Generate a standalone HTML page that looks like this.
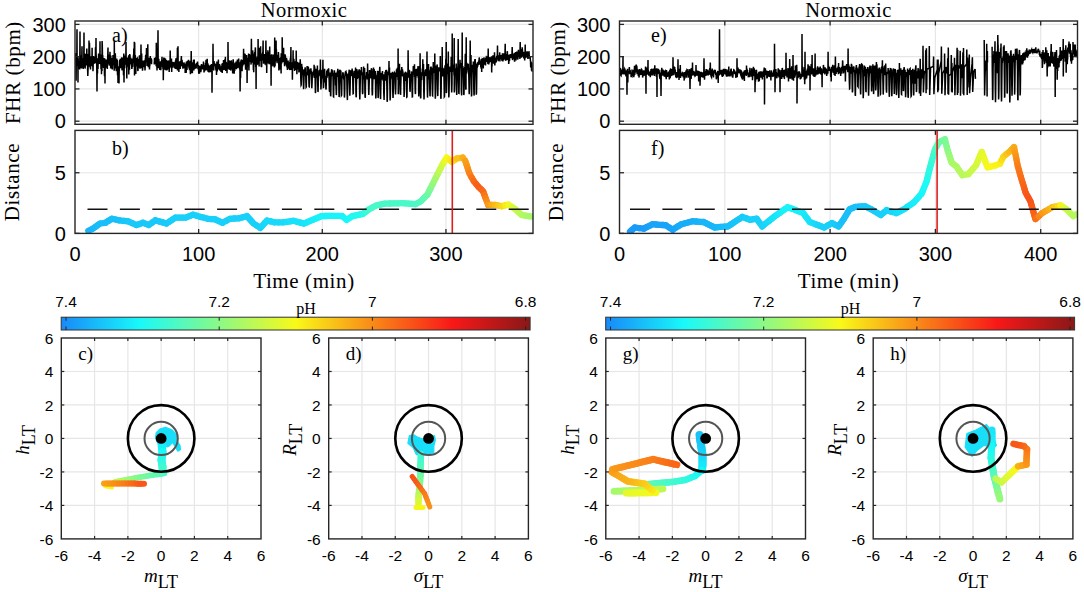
<!DOCTYPE html>
<html><head><meta charset="utf-8"><style>
html,body{margin:0;padding:0;background:#fff;width:1084px;height:592px;overflow:hidden}
svg{display:block}
</style></head><body>
<svg width="1084" height="592" viewBox="0 0 1084 592">
<rect width="1084" height="592" fill="#fff"/>
<line x1="198.65" y1="21" x2="198.65" y2="124.3" stroke="#e6e6e6" stroke-width="1.2"/>
<line x1="198.65" y1="130.4" x2="198.65" y2="233.4" stroke="#e6e6e6" stroke-width="1.2"/>
<line x1="322.30" y1="21" x2="322.30" y2="124.3" stroke="#e6e6e6" stroke-width="1.2"/>
<line x1="322.30" y1="130.4" x2="322.30" y2="233.4" stroke="#e6e6e6" stroke-width="1.2"/>
<line x1="445.95" y1="21" x2="445.95" y2="124.3" stroke="#e6e6e6" stroke-width="1.2"/>
<line x1="445.95" y1="130.4" x2="445.95" y2="233.4" stroke="#e6e6e6" stroke-width="1.2"/>
<line x1="75" y1="121.20" x2="533" y2="121.20" stroke="#e6e6e6" stroke-width="1.2"/>
<line x1="75" y1="88.93" x2="533" y2="88.93" stroke="#e6e6e6" stroke-width="1.2"/>
<line x1="75" y1="56.67" x2="533" y2="56.67" stroke="#e6e6e6" stroke-width="1.2"/>
<line x1="75" y1="24.40" x2="533" y2="24.40" stroke="#e6e6e6" stroke-width="1.2"/>
<line x1="75" y1="172.75" x2="533" y2="172.75" stroke="#e6e6e6" stroke-width="1.2"/>
<polyline points="75.8,53.1 76.0,76.0 76.1,80.7 76.3,54.4 76.5,58.9 76.6,61.6 76.8,64.5 77.0,29.2 77.1,65.8 77.3,62.8 77.5,60.8 77.6,57.4 77.8,56.0 78.0,82.5 78.1,57.8 78.3,62.7 78.5,69.1 78.6,61.3 78.8,64.8 79.0,64.2 79.1,63.7 79.3,68.2 79.5,68.4 79.6,62.9 79.8,61.3 80.0,31.5 80.1,61.3 80.3,65.0 80.5,68.5 80.6,63.0 80.8,55.3 81.0,67.7 81.1,59.4 81.3,58.9 81.5,57.0 81.6,68.6 81.8,54.8 82.0,46.3 82.1,64.8 82.3,64.7 82.5,60.5 82.6,62.9 82.8,65.1 83.0,58.0 83.1,66.2 83.3,69.0 83.5,59.4 83.6,59.6 83.8,58.4 84.0,32.5 84.1,55.8 84.3,59.8 84.5,53.6 84.6,67.4 84.8,60.6 85.0,62.3 85.1,68.6 85.3,63.9 85.5,53.8 85.6,62.0 85.8,63.1 86.0,56.0 86.1,55.3 86.3,56.5 86.5,65.5 86.6,62.2 86.8,48.4 87.0,63.2 87.1,64.9 87.3,58.2 87.5,54.1 87.6,68.7 87.8,76.0 88.0,70.7 88.1,67.5 88.3,62.8 88.5,59.6 88.6,63.5 88.8,66.3 89.0,40.5 89.1,66.4 89.3,62.3 89.5,42.7 89.6,49.0 89.8,57.9 90.0,66.6 90.1,67.3 90.3,65.0 90.5,69.5 90.6,64.6 90.8,64.6 91.0,56.3 91.1,62.8 91.3,63.5 91.5,66.1 91.6,64.8 91.8,60.7 92.0,61.0 92.1,47.7 92.3,66.2 92.5,58.5 92.6,63.0 92.8,64.0 93.0,71.2 93.1,68.5 93.3,59.4 93.5,56.1 93.6,61.0 93.8,58.5 94.0,63.9 94.1,62.9 94.3,63.6 94.5,56.7 94.6,59.5 94.8,61.9 95.0,63.1 95.1,58.5 95.3,60.2 95.5,47.2 95.6,52.4 95.8,58.9 96.0,38.0 96.1,53.7 96.3,57.5 96.5,63.5 96.6,60.1 96.8,69.3 97.0,91.5 97.1,75.3 97.3,58.3 97.5,73.4 97.6,60.6 97.8,67.3 98.0,69.1 98.1,64.2 98.3,60.6 98.5,58.9 98.6,53.6 98.8,60.1 99.0,58.4 99.1,64.0 99.3,58.2 99.5,60.6 99.6,64.0 99.8,62.7 100.0,41.2 100.1,61.1 100.3,60.1 100.5,63.3 100.6,64.2 100.8,57.8 101.0,69.2 101.1,64.6 101.3,54.5 101.5,74.3 101.6,65.1 101.8,59.7 102.0,71.0 102.1,41.0 102.3,45.5 102.5,56.3 102.6,55.2 102.8,56.7 103.0,63.0 103.1,60.3 103.3,66.5 103.5,60.0 103.6,68.1 103.8,64.1 104.0,58.1 104.1,68.2 104.3,64.2 104.5,76.2 104.6,69.0 104.8,58.5 105.0,83.6 105.1,70.4 105.3,64.1 105.5,67.2 105.6,66.7 105.8,63.8 106.0,67.8 106.1,59.6 106.3,67.5 106.5,60.0 106.6,64.8 106.8,59.8 107.0,65.7 107.1,65.3 107.3,68.9 107.5,62.3 107.6,60.0 107.8,53.9 108.0,47.6 108.1,62.2 108.3,63.7 108.5,60.4 108.7,61.6 108.8,55.3 109.0,56.4 109.2,65.6 109.3,64.2 109.5,54.5 109.7,58.6 109.8,59.4 110.0,51.7 110.2,59.8 110.3,60.7 110.5,60.8 110.7,68.4 110.8,55.5 111.0,64.1 111.2,62.5 111.3,65.0 111.5,58.1 111.7,61.5 111.8,61.2 112.0,68.7 112.2,62.2 112.3,69.6 112.5,61.5 112.7,61.9 112.8,64.9 113.0,55.0 113.2,61.6 113.3,60.7 113.5,63.3 113.7,65.2 113.8,60.6 114.0,60.5 114.2,70.8 114.3,41.2 114.5,62.2 114.7,59.6 114.8,59.8 115.0,68.3 115.2,66.9 115.3,53.2 115.5,60.0 115.7,68.4 115.8,60.6 116.0,62.9 116.2,69.4 116.3,71.1 116.5,68.1 116.7,58.6 116.8,59.9 117.0,62.4 117.2,60.5 117.3,60.6 117.5,75.3 117.7,67.6 117.8,68.6 118.0,83.1 118.2,68.1 118.3,66.9 118.5,66.4 118.7,71.5 118.8,66.9 119.0,83.5 119.2,69.2 119.3,71.2 119.5,61.8 119.7,60.0 119.8,61.3 120.0,67.8 120.2,58.8 120.3,65.6 120.5,68.2 120.7,65.9 120.8,63.6 121.0,61.1 121.2,60.1 121.3,61.7 121.5,57.9 121.7,61.1 121.8,57.3 122.0,69.7 122.2,70.4 122.3,60.1 122.5,69.7 122.7,65.9 122.8,65.3 123.0,67.3 123.2,66.2 123.3,57.8 123.5,75.2 123.7,59.0 123.8,53.4 124.0,82.5 124.2,65.6 124.3,61.1 124.5,55.6 124.7,68.2 124.8,62.1 125.0,63.3 125.2,59.9 125.3,61.9 125.5,59.9 125.7,64.7 125.8,61.4 126.0,42.1 126.2,64.2 126.3,62.5 126.5,63.2 126.7,66.4 126.8,78.5 127.0,61.6 127.2,67.3 127.3,57.4 127.5,65.7 127.7,59.6 127.8,62.3 128.0,61.3 128.2,61.9 128.3,65.1 128.5,63.7 128.7,55.2 128.8,74.5 129.0,63.7 129.2,62.8 129.3,68.8 129.5,68.9 129.7,53.9 129.8,65.4 130.0,54.7 130.2,61.4 130.3,64.2 130.5,62.1 130.7,59.8 130.8,57.7 131.0,61.1 131.2,63.2 131.3,62.8 131.5,58.8 131.7,62.1 131.8,68.9 132.0,68.1 132.2,63.1 132.3,66.0 132.5,64.8 132.7,66.9 132.8,62.4 133.0,59.8 133.2,57.9 133.3,63.3 133.5,54.5 133.7,62.6 133.8,48.6 134.0,58.0 134.2,60.9 134.3,41.8 134.5,75.4 134.7,42.6 134.8,62.4 135.0,54.7 135.2,69.2 135.3,55.2 135.5,64.4 135.7,60.3 135.8,73.9 136.0,60.8 136.2,62.4 136.3,57.8 136.5,61.6 136.7,66.5 136.8,59.2 137.0,61.4 137.2,61.1 137.3,58.7 137.5,58.4 137.7,64.5 137.8,70.5 138.0,71.1 138.2,58.9 138.3,59.7 138.5,62.0 138.7,64.9 138.8,63.8 139.0,63.8 139.2,65.4 139.3,67.7 139.5,55.3 139.7,64.3 139.8,66.8 140.0,68.8 140.2,65.4 140.3,59.5 140.5,58.9 140.7,63.0 140.8,62.1 141.0,44.4 141.2,68.2 141.3,59.1 141.5,62.4 141.7,53.6 141.8,67.1 142.0,63.6 142.2,60.6 142.3,66.1 142.5,70.7 142.7,68.6 142.8,64.5 143.0,62.6 143.2,64.3 143.3,60.7 143.5,61.4 143.7,63.6 143.8,64.4 144.0,67.1 144.2,62.5 144.3,60.4 144.5,62.9 144.7,61.5 144.8,65.0 145.0,70.4 145.2,66.6 145.3,59.2 145.5,59.2 145.7,54.8 145.8,61.0 146.0,58.9 146.2,57.1 146.3,57.6 146.5,48.1 146.7,62.3 146.8,60.6 147.0,65.9 147.2,60.1 147.3,58.1 147.5,64.2 147.7,54.5 147.8,44.3 148.0,63.8 148.2,64.6 148.3,67.3 148.5,62.6 148.7,63.4 148.8,57.8 149.0,61.8 149.2,62.3 149.3,65.8 149.5,69.5 149.7,64.5 149.8,66.0 150.0,59.4 150.2,62.7 150.3,56.1 150.5,60.0 150.7,59.0 150.8,61.2 151.0,60.6 151.2,58.7 151.3,58.2 151.5,64.3 151.7,59.5" fill="none" stroke="#000" stroke-width="1.5" stroke-linejoin="miter"/>
<polyline points="154.0,62.2 154.2,62.3 154.3,64.5 154.5,57.7 154.7,61.7 154.8,62.2 155.0,59.2 155.2,61.2 155.3,63.9 155.5,62.7 155.7,57.3 155.8,61.6 156.0,63.6 156.2,66.1 156.3,42.7 156.5,64.9 156.7,61.1 156.8,61.4 157.0,70.6 157.2,63.5 157.3,60.4 157.5,61.4 157.7,66.1 157.8,58.6 158.0,30.2 158.2,66.7 158.3,67.9 158.5,63.4 158.7,60.3 158.8,58.8 159.0,63.0 159.2,68.2 159.3,67.1 159.5,68.6 159.7,64.7 159.8,69.9 160.0,62.9 160.2,61.4 160.3,65.5 160.5,63.4 160.7,68.4 160.8,70.2 161.0,67.0 161.2,61.0 161.3,61.4 161.5,66.7 161.7,59.5 161.8,63.7 162.0,56.8 162.2,61.0 162.3,64.3 162.5,59.9 162.7,66.0 162.8,66.4 163.0,68.9 163.2,62.0 163.3,80.2 163.5,62.7 163.7,63.8 163.8,57.4 164.0,64.7 164.2,65.7 164.3,58.7 164.5,57.7 164.7,61.5 164.8,69.8 165.0,65.5 165.2,61.8 165.3,64.1 165.5,58.5 165.7,70.3 165.8,62.6 166.0,67.0 166.2,59.9 166.3,65.0 166.5,61.1 166.7,67.7 166.8,70.4 167.0,69.5 167.2,67.5 167.3,69.7 167.5,61.4 167.7,60.6 167.8,64.4 168.0,69.3 168.2,65.5 168.3,68.5 168.5,60.4 168.7,64.1 168.8,63.1 169.0,65.9 169.2,72.0 169.3,67.6 169.5,68.4 169.7,62.7 169.8,63.5 170.0,67.7 170.2,50.6 170.3,58.1 170.5,66.3 170.7,65.9 170.8,64.6 171.0,65.6 171.2,64.7 171.3,63.0 171.5,58.6 171.7,71.9 171.8,66.7 172.0,66.9 172.2,66.6 172.3,67.2 172.5,67.6 172.7,61.7 172.8,65.8 173.0,64.7 173.2,64.5 173.3,64.9 173.5,66.3 173.7,62.0 173.9,65.1 174.0,64.3 174.2,64.3 174.4,68.0 174.5,67.4 174.7,67.6 174.9,62.8 175.0,65.2 175.2,66.1 175.4,61.8 175.5,60.5 175.7,69.0 175.9,58.2 176.0,63.5 176.2,64.0 176.4,59.8 176.5,64.3 176.7,66.8 176.9,57.7 177.0,69.3 177.2,67.5 177.4,47.7 177.5,70.5 177.7,67.0 177.9,65.8 178.0,46.3 178.2,69.8 178.4,68.7 178.5,66.5 178.7,68.1 178.9,72.0 179.0,65.5 179.2,65.8 179.4,64.5 179.5,62.1 179.7,62.0 179.9,64.4 180.0,64.8 180.2,68.9 180.4,64.6 180.5,63.6 180.7,65.8 180.9,64.2 181.0,66.5 181.2,58.8 181.4,56.0 181.5,65.1 181.7,62.7 181.9,65.1 182.0,59.8 182.2,62.0 182.4,64.3 182.5,65.9 182.7,64.6 182.9,68.8 183.0,64.3 183.2,68.3 183.4,64.0 183.5,65.2 183.7,62.5 183.9,65.5 184.0,62.4 184.2,68.2 184.4,63.9 184.5,67.2 184.7,65.8 184.9,66.7 185.0,63.6 185.2,72.9 185.4,66.0 185.5,71.8 185.7,63.4 185.9,73.0 186.0,70.3 186.2,72.8 186.4,61.5 186.5,69.6 186.7,63.9 186.9,66.0 187.0,69.9 187.2,64.4 187.4,61.3 187.5,64.6 187.7,60.9 187.9,64.8 188.0,64.1 188.2,66.4 188.4,64.9 188.5,59.7 188.7,65.0 188.9,65.6 189.0,68.1 189.2,68.2 189.4,61.6 189.5,69.4 189.7,69.4 189.9,67.1 190.0,68.8 190.2,60.8 190.4,74.3 190.5,66.3 190.7,65.5 190.9,71.4 191.0,69.5 191.2,51.1 191.4,64.2 191.5,72.3 191.7,73.0 191.9,64.7 192.0,63.2 192.2,68.6 192.4,73.2 192.5,62.2 192.7,67.5 192.9,62.9 193.0,66.2 193.2,66.9 193.4,67.5 193.5,60.6 193.7,59.9 193.9,70.4 194.0,66.5 194.2,59.6 194.4,65.8 194.5,68.9 194.7,64.7 194.9,64.7 195.0,64.9 195.2,67.0 195.4,66.3 195.5,67.2 195.7,65.0 195.9,68.8 196.0,67.4 196.2,68.2 196.4,63.1 196.5,65.7 196.7,66.4 196.9,63.3 197.0,63.7 197.2,62.6 197.4,64.8 197.5,61.6 197.7,63.2 197.9,67.1 198.0,69.3 198.2,65.2 198.4,67.1 198.5,68.6 198.7,72.7 198.9,73.8 199.0,67.5 199.2,66.5 199.4,66.7 199.5,73.7 199.7,67.0 199.9,70.5 200.0,66.7 200.2,65.9 200.4,69.0 200.5,68.7 200.7,72.2 200.9,68.9 201.0,71.5 201.2,65.2 201.4,66.3 201.5,64.1 201.7,65.8 201.9,69.3 202.0,66.7 202.2,67.6 202.4,64.8 202.5,65.9 202.7,69.5 202.9,66.3 203.0,66.8 203.2,68.1 203.4,64.2 203.5,61.6 203.7,67.6 203.9,66.6 204.0,72.5 204.2,66.2 204.4,67.4 204.5,71.5 204.7,65.5 204.9,64.9 205.0,69.0 205.2,67.5 205.4,68.8 205.5,63.0 205.7,70.4 205.9,66.3 206.0,59.8 206.2,65.5 206.4,63.9 206.5,66.1 206.7,70.1 206.9,66.9 207.0,66.4 207.2,58.8 207.4,66.5 207.5,63.6 207.7,63.1 207.9,70.8 208.0,69.8 208.2,72.0 208.4,64.6 208.5,66.5 208.7,65.9 208.9,70.7 209.0,72.5 209.2,68.4 209.4,68.2 209.5,70.6 209.7,67.5 209.9,65.5 210.0,66.6 210.2,69.5 210.4,72.2 210.5,66.5 210.7,65.0 210.9,67.0 211.0,67.5 211.2,68.3 211.4,64.0 211.5,66.9 211.7,65.4 211.9,68.5 212.0,92.8 212.2,66.6 212.4,70.1 212.5,70.8 212.7,68.4 212.9,63.8 213.0,43.8 213.2,62.8 213.4,67.7 213.5,68.1 213.7,70.5 213.9,66.5 214.0,61.0 214.2,64.3 214.4,63.4 214.5,62.9 214.7,65.4 214.9,66.1 215.0,65.0 215.2,63.8 215.4,64.7 215.5,64.8 215.7,66.8 215.9,70.1 216.0,68.8 216.2,70.6 216.4,65.0 216.5,74.9 216.7,69.6 216.9,61.5 217.0,69.1 217.2,71.4 217.4,68.5 217.5,64.3 217.7,68.7 217.9,67.0 218.0,68.8 218.2,69.3 218.4,59.4 218.5,67.2 218.7,69.2 218.9,68.5 219.0,66.3 219.2,66.4 219.4,64.0 219.5,65.5 219.7,70.5 219.9,64.9 220.0,67.3 220.2,66.7 220.4,70.6 220.5,69.0 220.7,69.7 220.9,67.8 221.0,72.0 221.2,67.0 221.4,66.8 221.5,70.1 221.7,69.4 221.9,69.7 222.0,63.5 222.2,73.1 222.4,66.7 222.5,70.6 222.7,66.1 222.9,63.0 223.0,67.4 223.2,65.1 223.4,67.6 223.5,59.9 223.7,62.8 223.9,62.5 224.0,69.7 224.2,69.3 224.4,63.8 224.5,67.7 224.7,67.5 224.9,66.5 225.0,58.9 225.2,65.3 225.4,56.8 225.5,66.9 225.7,71.0 225.9,67.0 226.0,69.3 226.2,63.5 226.4,63.2 226.5,63.5 226.7,64.7 226.9,64.4 227.0,73.3 227.2,63.8 227.4,66.5 227.5,65.6 227.7,66.0 227.9,69.2 228.0,42.1 228.2,63.6 228.4,61.1 228.5,67.1 228.7,67.7 228.9,61.3 229.0,69.4 229.2,60.4 229.4,66.0 229.5,68.7 229.7,63.3 229.9,60.8 230.0,70.1 230.2,61.9 230.4,67.4 230.5,61.6 230.7,67.8 230.9,70.6 231.0,65.0 231.2,64.4 231.4,60.3 231.5,61.4 231.7,65.2 231.9,68.1 232.0,68.5 232.2,67.2 232.4,69.1 232.5,67.3 232.7,73.6 232.9,66.2 233.0,66.7 233.2,59.2 233.4,64.9 233.5,68.8 233.7,65.8 233.9,71.1 234.0,69.7 234.2,73.8 234.4,63.7 234.5,66.1 234.7,70.9 234.9,67.1 235.0,63.9 235.2,64.1 235.4,65.0 235.5,68.3 235.7,67.9 235.9,64.8 236.0,61.6 236.2,67.8 236.4,69.2 236.5,62.3 236.7,67.9 236.9,61.8 237.0,64.3 237.2,62.3 237.4,59.5 237.5,62.7 237.7,62.0 237.9,68.3 238.0,67.3 238.2,63.9 238.4,60.6 238.5,61.0 238.7,58.6 238.9,64.3 239.1,65.0 239.2,62.9 239.4,66.7 239.6,66.9 239.7,69.5 239.9,62.3 240.1,91.5 240.2,78.7 240.4,69.3 240.6,77.9 240.7,67.5 240.9,60.5 241.1,68.8 241.2,64.9 241.4,59.4 241.6,66.1 241.7,63.5 241.9,64.6 242.1,71.2 242.2,61.4 242.4,61.3 242.6,66.5 242.7,59.9 242.9,65.1 243.1,64.3 243.2,60.1 243.4,61.1 243.6,48.8 243.7,63.7 243.9,54.8 244.1,53.2 244.2,64.4 244.4,63.1 244.6,53.9 244.7,59.1 244.9,55.5 245.1,53.8 245.2,59.4 245.4,62.5 245.6,69.7 245.7,57.4 245.9,61.7 246.1,57.4 246.2,59.0 246.4,66.6 246.6,55.0 246.7,58.3 246.9,57.9 247.1,83.1 247.2,63.0 247.4,64.5 247.6,63.5 247.7,66.4 247.9,59.7 248.1,60.0 248.2,57.8 248.4,61.2 248.6,53.4 248.7,58.7 248.9,70.4 249.1,61.7 249.2,58.4 249.4,54.1 249.6,57.9 249.7,59.3 249.9,61.2 250.1,54.9 250.2,59.7 250.4,61.0 250.6,61.7 250.7,57.3 250.9,61.7 251.1,64.6 251.2,54.0 251.4,38.7 251.6,56.8 251.7,57.0 251.9,52.6 252.1,53.9 252.2,61.2 252.4,58.7 252.6,62.7 252.7,50.4 252.9,56.3 253.1,53.4 253.2,61.0 253.4,69.9 253.6,54.2 253.7,72.2 253.9,59.9 254.1,58.6 254.2,55.1 254.4,56.3 254.6,64.4 254.7,52.0 254.9,59.2 255.1,59.5 255.2,50.3 255.4,47.4 255.6,58.7 255.7,67.0 255.9,59.3 256.1,88.9 256.2,60.5 256.4,65.2 256.6,63.1 256.7,65.2 256.9,58.2 257.1,57.4 257.2,56.6 257.4,64.6 257.6,60.4 257.7,58.9 257.9,64.0 258.1,38.9 258.2,52.7 258.4,60.4 258.6,58.0 258.7,61.9 258.9,58.0 259.1,66.5 259.2,59.2 259.4,52.2 259.6,47.8 259.7,51.5 259.9,53.8 260.1,57.0 260.2,60.0 260.4,58.6 260.6,46.3 260.7,61.0 260.9,54.3 261.1,63.3 261.2,66.8 261.4,64.3 261.6,67.3 261.7,65.2 261.9,54.4 262.1,59.5 262.2,57.5 262.4,53.4 262.6,53.0 262.7,60.5 262.9,52.1 263.1,40.5 263.2,57.2 263.4,55.3 263.6,63.7 263.7,61.4 263.9,59.1 264.1,55.9 264.2,60.7 264.4,58.7 264.6,54.8 264.7,54.8 264.9,58.1 265.1,57.6 265.2,64.7 265.4,63.4 265.6,60.3 265.7,64.0 265.9,40.4 266.1,55.0 266.2,62.5 266.4,65.8 266.6,58.8 266.7,72.9 266.9,57.4 267.1,52.5 267.2,59.1 267.4,58.8 267.6,60.1 267.7,58.7 267.9,50.3 268.1,63.6 268.2,51.9 268.4,62.9 268.6,57.8 268.7,54.0 268.9,54.9 269.1,56.5 269.2,64.2 269.4,54.9 269.6,61.1 269.7,46.6 269.9,59.5 270.1,58.5 270.2,63.4 270.4,60.4 270.6,64.4 270.7,54.9 270.9,59.8 271.1,85.7 271.2,61.3 271.4,60.5 271.6,54.3 271.7,64.6 271.9,66.6 272.1,59.0 272.2,65.6 272.4,62.4 272.6,56.9 272.7,64.7 272.9,57.4 273.1,63.8 273.2,54.6 273.4,56.7 273.6,64.2 273.7,63.6 273.9,66.5 274.1,61.9 274.2,57.3 274.4,67.4 274.6,57.7 274.7,37.5 274.9,63.3 275.1,66.2 275.2,48.7 275.4,57.4 275.6,56.7 275.7,59.9 275.9,53.6 276.1,40.5 276.2,58.1 276.4,49.2 276.6,61.4 276.7,60.4 276.9,57.7 277.1,63.2 277.2,58.9 277.4,55.1 277.6,58.4 277.7,58.4 277.9,61.1 278.1,58.6 278.2,59.2 278.4,52.0 278.6,55.2 278.7,60.4 278.9,70.4 279.1,58.3 279.2,59.1 279.4,65.1 279.6,69.4 279.7,67.1 279.9,57.9 280.1,65.3 280.2,63.2 280.4,61.0 280.6,57.2 280.7,62.3 280.9,62.3 281.1,73.5 281.2,53.2 281.4,54.7 281.6,58.5 281.7,63.5 281.9,62.2 282.1,56.6 282.2,37.3 282.4,55.5 282.6,57.1 282.7,57.7 282.9,57.1 283.1,56.6 283.2,61.9 283.4,59.6 283.6,47.7 283.7,61.8 283.9,58.6 284.1,54.2 284.2,60.0 284.4,63.2 284.6,66.2 284.7,58.3 284.9,55.4 285.1,54.3 285.2,61.0 285.4,55.5 285.6,64.7 285.7,61.0 285.9,64.5 286.1,60.9 286.2,59.3 286.4,57.7 286.6,66.6 286.7,58.5 286.9,65.6 287.1,67.5 287.2,64.8 287.4,69.9 287.6,64.4 287.7,61.4 287.9,64.1 288.1,60.5 288.2,64.2 288.4,63.3 288.6,68.6 288.7,62.6 288.9,65.4 289.1,64.0 289.2,63.4 289.4,63.1 289.6,70.0 289.7,69.6 289.9,64.1 290.1,61.3 290.2,61.4 290.4,58.7 290.6,57.4 290.7,61.8 290.9,47.0 291.1,69.9 291.2,68.7 291.4,67.9 291.6,64.7 291.7,64.7 291.9,64.6 292.1,64.7 292.2,62.2 292.4,79.7 292.6,63.7 292.7,63.7 292.9,67.2 293.1,50.2 293.2,62.8 293.4,64.3 293.6,66.5 293.7,67.9 293.9,58.7 294.1,68.5 294.2,66.9 294.4,64.9 294.6,70.9 294.7,66.1 294.9,61.2 295.1,63.8 295.2,64.9 295.4,66.8 295.6,69.0 295.7,66.3 295.9,69.1 296.1,69.9 296.2,50.4 296.4,66.6 296.6,67.7 296.7,65.7 296.9,74.3 297.1,64.4 297.2,61.9 297.4,64.6 297.6,68.2 297.7,69.4 297.9,65.2 298.1,68.8 298.2,64.2 298.4,67.3 298.6,63.5 298.7,62.5 298.9,72.5 299.1,65.2 299.2,67.9 299.4,69.9 299.6,68.0 299.7,67.6 299.9,64.0 300.1,71.8 300.2,59.3 300.4,63.1 300.6,66.4 300.7,76.0 300.9,81.4 301.1,85.2 301.2,85.0 301.4,79.5 301.6,72.1 301.7,63.9 301.9,69.6 302.1,69.9 302.2,66.7 302.4,75.2 302.6,73.6 302.7,71.5 302.9,72.9 303.1,69.6 303.2,77.6 303.4,84.4 303.6,89.2 303.7,87.8 303.9,81.7 304.1,75.2 304.3,69.3 304.4,74.4 304.6,69.9 304.8,69.8 304.9,71.4 305.1,67.3 305.3,68.6 305.4,75.8 305.6,73.2 305.8,77.4 305.9,82.7 306.1,87.2 306.3,86.9 306.4,82.9 306.6,73.8 306.8,72.1 306.9,75.3 307.1,65.9 307.3,72.2 307.4,67.4 307.6,70.6 307.8,71.4 307.9,66.5 308.1,70.5 308.3,66.4 308.4,75.4 308.6,67.8 308.8,77.3 308.9,82.3 309.1,86.8 309.3,86.9 309.4,81.4 309.6,75.0 309.8,72.0 309.9,74.2 310.1,69.3 310.3,74.0 310.4,71.5 310.6,73.0 310.8,69.2 310.9,68.3 311.1,71.8 311.3,71.0 311.4,77.1 311.6,83.5 311.8,88.1 311.9,86.6 312.1,82.7 312.3,74.8 312.4,77.0 312.6,76.0 312.8,73.2 312.9,72.1 313.1,73.0 313.3,73.7 313.4,70.5 313.6,72.7 313.8,74.7 313.9,75.0 314.1,64.8 314.3,78.0 314.4,71.1 314.6,66.2 314.8,68.8 314.9,72.3 315.1,77.5 315.3,86.7 315.4,93.1 315.6,92.1 315.8,83.2 315.9,75.2 316.1,69.7 316.3,68.8 316.4,73.6 316.6,77.6 316.8,72.7 316.9,69.2 317.1,71.9 317.3,72.3 317.4,65.5 317.6,79.2 317.8,86.5 317.9,91.8 318.1,91.4 318.3,81.8 318.4,77.1 318.6,74.8 318.8,72.7 318.9,76.3 319.1,70.2 319.3,73.0 319.4,70.4 319.6,75.5 319.8,73.9 319.9,69.5 320.1,72.9 320.3,70.0 320.4,59.4 320.6,78.1 320.8,83.4 320.9,89.4 321.1,86.9 321.3,80.9 321.4,75.6 321.6,77.3 321.8,78.4 321.9,74.8 322.1,69.8 322.3,71.4 322.4,73.4 322.6,73.1 322.8,70.9 322.9,59.7 323.1,78.1 323.3,84.1 323.4,87.5 323.6,87.4 323.8,82.3 323.9,77.2 324.1,71.7 324.3,73.1 324.4,72.9 324.6,68.8 324.8,73.5 324.9,76.4 325.1,82.6 325.3,75.9 325.4,79.7 325.6,78.4 325.8,85.6 325.9,89.4 326.1,88.9 326.3,82.8 326.4,78.8 326.6,75.7 326.8,70.6 326.9,77.8 327.1,76.4 327.3,75.7 327.4,75.6 327.6,69.3 327.8,74.9 327.9,74.3 328.1,73.4 328.3,69.6 328.4,71.7 328.6,68.2 328.8,73.5 328.9,75.7 329.1,79.5 329.3,86.9 329.4,90.7 329.6,91.9 329.8,83.1 329.9,77.1 330.1,72.5 330.3,82.2 330.4,90.9 330.6,96.3 330.8,95.7 330.9,89.2 331.1,79.0 331.3,73.9 331.4,71.8 331.6,69.3 331.8,69.9 331.9,76.3 332.1,72.4 332.3,71.3 332.4,70.2 332.6,72.9 332.8,73.4 332.9,73.0 333.1,81.2 333.3,92.0 333.4,96.6 333.6,96.8 333.8,87.1 333.9,78.6 334.1,75.3 334.3,75.2 334.4,70.2 334.6,75.1 334.8,72.6 334.9,77.7 335.1,74.5 335.3,78.9 335.4,76.0 335.6,85.6 335.8,72.8 335.9,81.5 336.1,88.5 336.3,95.1 336.4,94.8 336.6,87.3 336.8,78.5 336.9,72.8 337.1,73.5 337.3,71.6 337.4,73.9 337.6,71.9 337.8,68.8 337.9,69.6 338.1,73.9 338.3,76.9 338.4,73.0 338.6,70.4 338.8,83.0 338.9,89.9 339.1,97.0 339.3,96.1 339.4,86.9 339.6,80.8 339.8,69.8 339.9,70.2 340.1,72.0 340.3,72.7 340.4,76.2 340.6,70.5 340.8,71.5 340.9,71.2 341.1,82.7 341.3,91.4 341.4,95.6 341.6,95.3 341.8,87.9 341.9,77.4 342.1,77.4 342.3,75.5 342.4,77.5 342.6,76.0 342.8,72.2 342.9,72.6 343.1,75.3 343.3,73.4 343.4,75.9 343.6,78.4 343.8,78.3 343.9,75.9 344.1,81.1 344.3,91.2 344.4,97.6 344.6,95.4 344.8,88.7 344.9,78.7 345.1,73.8 345.3,73.2 345.4,71.6 345.6,73.9 345.8,71.5 345.9,71.4 346.1,74.2 346.3,73.9 346.4,75.5 346.6,74.1 346.8,78.1 346.9,83.2 347.1,92.5 347.3,98.2 347.4,100.1 347.6,88.9 347.8,79.4 347.9,73.6 348.1,79.9 348.3,76.0 348.4,78.6 348.6,77.1 348.8,74.0 348.9,72.9 349.1,70.6 349.3,69.8 349.4,81.6 349.6,87.9 349.8,95.7 349.9,94.5 350.1,88.5 350.3,80.0 350.4,70.4 350.6,72.2 350.8,73.7 350.9,71.0 351.1,70.5 351.3,76.1 351.4,72.3 351.6,75.0 351.8,72.0 351.9,74.4 352.1,68.5 352.3,71.0 352.4,76.1 352.6,73.3 352.8,82.2 352.9,87.4 353.1,93.7 353.3,93.6 353.4,85.4 353.6,78.6 353.8,73.1 353.9,73.4 354.1,70.8 354.3,78.0 354.4,72.9 354.6,76.6 354.8,74.0 354.9,72.5 355.1,72.0 355.3,74.6 355.4,71.7 355.6,67.6 355.8,82.8 355.9,91.2 356.1,97.3 356.3,96.5 356.4,86.8 356.6,80.7 356.8,69.0 356.9,70.2 357.1,71.9 357.3,79.0 357.4,74.7 357.6,73.2 357.8,73.5 357.9,73.9 358.1,76.5 358.3,71.2 358.4,71.9 358.6,76.0 358.8,78.2 358.9,69.8 359.1,77.7 359.3,69.2 359.4,82.3 359.6,92.6 359.8,99.4 359.9,96.6 360.1,88.3 360.3,79.2 360.4,70.3 360.6,74.0 360.8,75.0 360.9,71.6 361.1,74.9 361.3,74.4 361.4,66.9 361.6,74.9 361.8,73.8 361.9,72.2 362.1,75.9 362.3,83.9 362.4,91.1 362.6,94.1 362.8,92.8 362.9,86.1 363.1,79.1 363.3,76.8 363.4,73.3 363.6,66.5 363.8,71.8 363.9,71.7 364.1,79.5 364.3,74.9 364.4,78.6 364.6,68.0 364.8,83.6 364.9,91.5 365.1,97.7 365.3,97.3 365.4,89.2 365.6,80.6 365.8,78.3 365.9,78.1 366.1,75.9 366.3,77.2 366.4,75.0 366.6,72.1 366.8,73.4 366.9,73.9 367.1,75.4 367.3,72.4 367.4,79.6 367.6,63.4 367.8,76.0 367.9,77.4 368.1,73.9 368.3,75.9 368.4,81.2 368.6,90.0 368.8,95.0 368.9,92.1 369.1,85.9 369.3,79.9 369.5,70.1 369.6,73.1 369.8,77.4 370.0,77.3 370.1,71.8 370.3,70.4 370.5,75.6 370.6,74.7 370.8,72.7 371.0,78.5 371.1,75.0 371.3,69.5 371.5,68.2 371.6,74.7 371.8,68.9 372.0,81.5 372.1,90.8 372.3,95.5 372.5,93.6 372.6,87.7 372.8,80.5 373.0,71.1 373.1,71.7 373.3,77.9 373.5,67.6 373.6,73.5 373.8,74.0 374.0,79.2 374.1,70.4 374.3,70.3 374.5,75.6 374.6,74.2 374.8,73.9 375.0,72.4 375.1,74.6 375.3,71.1 375.5,83.0 375.6,91.5 375.8,98.4 376.0,96.0 376.1,88.6 376.3,80.7 376.5,75.3 376.6,78.9 376.8,75.3 377.0,82.0 377.1,76.1 377.3,74.0 377.5,72.9 377.6,70.8 377.8,83.2 378.0,92.8 378.1,98.1 378.3,96.8 378.5,88.1 378.6,80.7 378.8,70.9 379.0,72.4 379.1,72.4 379.3,74.2 379.5,74.0 379.6,70.2 379.8,66.9 380.0,72.8 380.1,84.3 380.3,92.6 380.5,99.1 380.6,98.7 380.8,89.1 381.0,81.2 381.1,73.8 381.3,72.8 381.5,79.8 381.6,76.0 381.8,77.0 382.0,74.8 382.1,73.9 382.3,77.4 382.5,71.0 382.6,79.8 382.8,77.9 383.0,76.4 383.1,80.8 383.3,74.9 383.5,74.2 383.6,81.5 383.8,93.5 384.0,98.0 384.1,99.9 384.3,90.0 384.5,81.3 384.6,76.9 384.8,75.5 385.0,75.5 385.1,71.7 385.3,80.7 385.5,77.0 385.6,79.0 385.8,69.9 386.0,75.1 386.1,75.4 386.3,76.4 386.5,70.8 386.6,69.8 386.8,83.2 387.0,93.3 387.1,100.5 387.3,101.8 387.5,89.7 387.6,79.9 387.8,75.2 388.0,74.1 388.1,71.5 388.3,72.0 388.5,74.6 388.6,73.7 388.8,75.1 389.0,61.1 389.1,70.5 389.3,73.0 389.5,67.4 389.6,78.1 389.8,83.2 390.0,92.3 390.1,100.4 390.3,97.8 390.5,89.9 390.6,80.4 390.8,79.2 391.0,72.7 391.1,77.8 391.3,78.3 391.5,74.1 391.6,75.4 391.8,76.8 392.0,74.9 392.1,76.8 392.3,73.9 392.5,71.8 392.6,82.1 392.8,92.8 393.0,98.0 393.1,97.2 393.3,89.8 393.5,81.5 393.6,72.5 393.8,77.0 394.0,72.9 394.1,79.2 394.3,73.4 394.5,76.5 394.6,72.6 394.8,72.9 395.0,75.7 395.1,83.1 395.3,89.6 395.5,94.5 395.6,92.8 395.8,87.4 396.0,78.4 396.1,72.8 396.3,74.9 396.5,69.4 396.6,77.0 396.8,75.1 397.0,70.8 397.1,75.6 397.3,67.7 397.5,68.5 397.6,72.7 397.8,73.4 398.0,79.9 398.1,48.6 398.3,93.6 398.5,94.1 398.6,86.4 398.8,79.9 399.0,75.2 399.1,72.9 399.3,78.0 399.5,63.7 399.6,69.6 399.8,70.0 400.0,75.4 400.1,80.5 400.3,89.6 400.5,94.8 400.6,94.3 400.8,85.7 401.0,78.9 401.1,70.5 401.3,76.1 401.5,71.8 401.6,75.3 401.8,67.1 402.0,72.5 402.1,74.1 402.3,74.1 402.5,69.2 402.6,70.9 402.8,76.4 403.0,71.6 403.1,75.3 403.3,73.9 403.5,76.1 403.6,76.5 403.8,81.1 404.0,91.2 404.1,97.0 404.3,92.6 404.5,86.3 404.6,78.4 404.8,72.7 405.0,81.0 405.1,80.4 405.3,72.2 405.5,72.6 405.6,71.7 405.8,75.6 406.0,77.6 406.1,75.0 406.3,72.4 406.5,82.5 406.6,91.1 406.8,97.1 407.0,96.9 407.1,88.7 407.3,79.7 407.5,74.9 407.6,75.4 407.8,73.7 408.0,70.3 408.1,50.2 408.3,70.7 408.5,77.6 408.6,75.4 408.8,70.4 409.0,69.7 409.1,76.1 409.3,75.2 409.5,70.3 409.6,81.1 409.8,87.7 410.0,91.7 410.1,91.3 410.3,86.1 410.5,80.8 410.6,75.9 410.8,74.1 411.0,74.8 411.1,78.5 411.3,77.0 411.5,71.4 411.6,78.6 411.8,71.6 412.0,80.0 412.1,91.3 412.3,96.9 412.5,96.8 412.6,87.0 412.8,79.2 413.0,73.2 413.1,73.0 413.3,66.1 413.5,69.0 413.6,74.5 413.8,72.7 414.0,73.5 414.1,72.2 414.3,71.1 414.5,64.3 414.6,77.0 414.8,69.4 415.0,81.5 415.1,88.1 415.3,93.4 415.5,93.9 415.6,85.9 415.8,77.9 416.0,77.1 416.1,68.9 416.3,74.2 416.5,68.7 416.6,72.5 416.8,70.5 417.0,72.3 417.1,71.1 417.3,74.3 417.5,75.9 417.6,71.0 417.8,70.4 418.0,66.0 418.1,77.7 418.3,66.8 418.5,78.5 418.6,90.7 418.8,96.5 419.0,92.9 419.1,84.2 419.3,78.1 419.5,67.0 419.6,66.8 419.8,68.4 420.0,69.5 420.1,53.3 420.3,82.6 420.5,92.5 420.6,98.4 420.8,97.7 421.0,86.6 421.1,77.9 421.3,80.2 421.5,74.8 421.6,73.7 421.8,72.3 422.0,73.9 422.1,75.6 422.3,68.5 422.5,74.9 422.6,71.5 422.8,59.3 423.0,75.5 423.1,68.5 423.3,80.0 423.5,64.1 423.6,80.7 423.8,91.7 424.0,99.5 424.1,97.6 424.3,87.4 424.5,78.9 424.6,71.7 424.8,72.9 425.0,75.7 425.1,74.9 425.3,69.9 425.5,70.4 425.6,72.1 425.8,73.9 426.0,69.1 426.1,76.2 426.3,71.8 426.5,71.3 426.6,73.2 426.8,70.4 427.0,51.6 427.1,79.7 427.3,90.0 427.5,97.6 427.6,94.9 427.8,87.5 428.0,77.3 428.1,68.7 428.3,67.7 428.5,64.1 428.6,71.3 428.8,69.8 429.0,70.3 429.1,79.2 429.3,74.5 429.5,71.3 429.6,79.4 429.8,90.0 430.0,96.3 430.1,96.0 430.3,85.0 430.5,77.1 430.6,66.8 430.8,71.4 431.0,75.0 431.1,66.6 431.3,71.6 431.5,72.2 431.6,71.0 431.8,72.8 432.0,67.8 432.1,80.6 432.3,90.1 432.5,95.7 432.6,95.8 432.8,87.8 433.0,77.9 433.1,71.0 433.3,61.9 433.5,71.6 433.6,72.9 433.8,67.9 434.0,68.5 434.1,71.5 434.3,71.9 434.5,69.7 434.7,68.2 434.8,53.4 435.0,79.0 435.2,90.5 435.3,98.7 435.5,96.2 435.7,84.4 435.8,77.2 436.0,70.0 436.2,68.5 436.3,67.4 436.5,65.7 436.7,67.6 436.8,69.9 437.0,69.8 437.2,64.4 437.3,79.4 437.5,90.2 437.7,95.3 437.8,96.1 438.0,86.7 438.2,77.6 438.3,71.3 438.5,70.7 438.7,67.2 438.8,68.8 439.0,71.5 439.2,68.1 439.3,69.7 439.5,70.3 439.7,68.5 439.8,68.0 440.0,69.7 440.2,70.8 440.3,56.0 440.5,78.5 440.7,90.5 440.8,98.8 441.0,98.2 441.2,87.0 441.3,76.9 441.5,69.2 441.7,69.4 441.8,69.4 442.0,72.2 442.2,47.0 442.3,71.7 442.5,67.2 442.7,76.4 442.8,74.7 443.0,68.3 443.2,70.1 443.3,72.1 443.5,68.4 443.7,72.4 443.8,69.7 444.0,78.8 444.2,89.8 444.3,96.9 444.5,96.6 444.7,87.1 444.8,76.7 445.0,65.3 445.2,72.0 445.3,76.1 445.5,76.5 445.7,64.9 445.8,58.7 446.0,77.1 446.2,42.1 446.3,93.1 446.5,92.3 446.7,81.2 446.8,76.1 447.0,67.9 447.2,74.2 447.3,65.3 447.5,69.2 447.7,68.3 447.8,63.5 448.0,68.9 448.2,65.9 448.3,51.6 448.5,77.6 448.7,89.7 448.8,97.4 449.0,94.6 449.2,85.1 449.3,76.8 449.5,69.4 449.7,68.9 449.8,70.2 450.0,66.6 450.2,70.2 450.3,68.0 450.5,71.9 450.7,69.4 450.8,67.7 451.0,70.5 451.2,56.7 451.3,76.5 451.5,85.7 451.7,92.5 451.8,90.4 452.0,83.2 452.2,33.4 452.3,72.0 452.5,66.9 452.7,64.4 452.8,68.9 453.0,65.8 453.2,67.8 453.3,67.6 453.5,68.5 453.7,68.9 453.8,67.5 454.0,75.6 454.2,38.0 454.3,92.5 454.5,90.7 454.7,83.6 454.8,74.0 455.0,72.9 455.2,70.9 455.3,70.8 455.5,69.1 455.7,68.7 455.8,68.6 456.0,70.5 456.2,63.6 456.3,76.2 456.5,88.0 456.7,95.0 456.8,93.7 457.0,84.4 457.2,75.4 457.3,69.1 457.5,67.8 457.7,68.8 457.8,68.3 458.0,63.7 458.2,38.9 458.3,65.5 458.5,75.6 458.7,84.8 458.8,93.2 459.0,93.3 459.2,83.1 459.3,74.1 459.5,64.4 459.7,64.8 459.8,67.6 460.0,59.7 460.2,64.8 460.3,67.5 460.5,66.0 460.7,63.7 460.8,63.0 461.0,64.8 461.2,77.3 461.3,90.1 461.5,93.9 461.7,95.4 461.8,84.2 462.0,73.5 462.2,32.5 462.3,66.5 462.5,71.4 462.7,69.5 462.8,66.0 463.0,71.0 463.2,69.0 463.3,67.9 463.5,77.4 463.7,87.4 463.8,95.1 464.0,93.8 464.2,83.5 464.3,74.6 464.5,69.2 464.7,67.1 464.8,68.0 465.0,66.9 465.2,62.3 465.3,53.7 465.5,76.6 465.7,84.9 465.8,89.7 466.0,88.8 466.2,37.3 466.3,73.6 466.5,66.1 466.7,65.4 466.8,65.2 467.0,68.7 467.2,68.8 467.3,67.0 467.5,63.5 467.7,68.0 467.8,68.1 468.0,69.0 468.2,72.5 468.3,63.8 468.5,74.3 468.7,67.8 468.8,76.3 469.0,85.9 469.2,94.2 469.3,91.4 469.5,84.0 469.7,73.4 469.8,71.2 470.0,66.2 470.2,40.5 470.3,66.5 470.5,62.8 470.7,64.6 470.8,62.6 471.0,55.1 471.2,77.3 471.3,88.4 471.5,96.5 471.7,94.6 471.8,84.5 472.0,73.0 472.2,65.2 472.3,68.7 472.5,66.0 472.7,64.9 472.8,66.9 473.0,65.3 473.2,71.5 473.3,61.5 473.5,68.7 473.7,76.3 473.8,88.6 474.0,95.6 474.2,93.1 474.3,83.5 474.5,73.7 474.7,67.6 474.8,59.2 475.0,63.2 475.2,59.0 475.3,67.6 475.5,63.4 475.7,67.8 475.8,64.0 476.0,75.0 476.2,87.8 476.3,94.7 476.5,92.6 476.7,82.8 476.8,71.7 477.0,67.0 477.2,67.9 477.3,63.7 477.5,62.4 477.7,66.7 477.8,65.2 478.0,63.7 478.2,63.9 478.3,65.0 478.5,61.8 478.7,61.4 478.8,60.6 479.0,62.7 479.2,57.6 479.3,57.9 479.5,64.0 479.7,63.3 479.8,60.6 480.0,64.6 480.2,62.0 480.3,63.2 480.5,65.0 480.7,63.8 480.8,67.2 481.0,64.8 481.2,68.7 481.3,58.9 481.5,60.3 481.7,71.9 481.8,61.9 482.0,60.1 482.2,59.0 482.3,59.1 482.5,58.5 482.7,62.3 482.8,59.2 483.0,61.4 483.2,62.8 483.3,68.4 483.5,58.9 483.7,57.8 483.8,64.4 484.0,57.4 484.2,59.0 484.3,63.3 484.5,63.5 484.7,63.3 484.8,60.5 485.0,63.3 485.2,65.0 485.3,60.7 485.5,65.5 485.7,60.7 485.8,57.8 486.0,59.5 486.2,58.0 486.3,58.2 486.5,57.8 486.7,59.4 486.8,62.0 487.0,60.7 487.2,60.3 487.3,57.7 487.5,57.3 487.7,59.9 487.8,62.7 488.0,62.5 488.2,48.6 488.3,58.6 488.5,61.5 488.7,62.4 488.8,64.4 489.0,59.9 489.2,61.4 489.3,62.1 489.5,61.7 489.7,57.5 489.8,62.1 490.0,57.0 490.2,57.9 490.3,60.7 490.5,58.6 490.7,60.8 490.8,62.0 491.0,60.2 491.2,61.6 491.3,57.7 491.5,58.8 491.7,72.5 491.8,56.2 492.0,66.6 492.2,57.7 492.3,62.9 492.5,58.6 492.7,61.3 492.8,59.3 493.0,55.2 493.2,62.6 493.3,58.6 493.5,59.1 493.7,63.8 493.8,56.6 494.0,58.6 494.2,61.0 494.3,61.5 494.5,52.3 494.7,61.0 494.8,65.5 495.0,63.0 495.2,60.7 495.3,61.6 495.5,60.1 495.7,62.8 495.8,57.5 496.0,59.8 496.2,62.1 496.3,60.1 496.5,58.7 496.7,55.7 496.8,56.3 497.0,58.5 497.2,58.4 497.3,56.8 497.5,45.4 497.7,59.2 497.8,56.2 498.0,56.3 498.2,61.1 498.3,58.4 498.5,58.7 498.7,60.3 498.8,57.0 499.0,56.0 499.2,55.5 499.3,58.6 499.5,58.0 499.7,52.3 499.9,61.5 500.0,57.5 500.2,55.5 500.4,57.4 500.5,56.7 500.7,57.9 500.9,56.7 501.0,55.0 501.2,58.9 501.4,58.3 501.5,58.5 501.7,59.1 501.9,58.5 502.0,60.9 502.2,56.2 502.4,53.9 502.5,53.9 502.7,55.4 502.9,61.5 503.0,55.2 503.2,60.3 503.4,57.9 503.5,53.3 503.7,60.1 503.9,55.2 504.0,56.6 504.2,57.4 504.4,59.2 504.5,54.8 504.7,57.0 504.9,53.8 505.0,52.8 505.2,43.8 505.4,57.8 505.5,58.8 505.7,60.6 505.9,60.1 506.0,56.6 506.2,57.0 506.4,59.9 506.5,57.1 506.7,54.0 506.9,58.8 507.0,58.3 507.2,51.3 507.4,51.8 507.5,60.1 507.7,59.2 507.9,54.8 508.0,59.3 508.2,56.6 508.4,57.3 508.5,55.4 508.7,63.9 508.9,62.2 509.0,60.4 509.2,54.5 509.4,57.2 509.5,60.9 509.7,55.8 509.9,55.3 510.0,57.6 510.2,57.4 510.4,55.6 510.5,54.1 510.7,56.3 510.9,54.7 511.0,55.9 511.2,57.0 511.4,58.1 511.5,54.9 511.7,55.9 511.9,56.3 512.0,53.2 512.2,47.0 512.4,53.9 512.5,60.1 512.7,54.6 512.9,57.7 513.0,58.1 513.2,58.9 513.4,53.7 513.5,54.5 513.7,58.4 513.9,59.0 514.0,56.6 514.2,58.7 514.4,53.1 514.5,61.0 514.7,61.0 514.9,56.6 515.0,56.4 515.2,55.8 515.4,54.7 515.5,52.1 515.7,57.1 515.9,57.6 516.0,60.5 516.2,55.2 516.4,52.8 516.5,55.7 516.7,51.5 516.9,55.2 517.0,52.2 517.2,54.7 517.4,57.7 517.5,56.6 517.7,58.9 517.9,59.5 518.0,54.9 518.2,52.7 518.4,49.7 518.5,54.7 518.7,55.2 518.9,57.1 519.0,51.7 519.2,53.0 519.4,56.3 519.5,52.9 519.7,52.2 519.9,58.9 520.0,52.3 520.2,42.1 520.4,54.4 520.5,54.2 520.7,49.4 520.9,49.8 521.0,49.6 521.2,57.7 521.4,56.2 521.5,52.3 521.7,57.4 521.9,54.6 522.0,57.0 522.2,47.2 522.4,49.7 522.5,51.6 522.7,52.7 522.9,54.6 523.0,55.1 523.2,52.7 523.4,56.2 523.5,51.7 523.7,56.7 523.9,58.3 524.0,52.4 524.2,56.0 524.4,53.6 524.5,55.6 524.7,60.4 524.9,52.8 525.0,58.4 525.2,44.4 525.4,57.0 525.5,57.9 525.7,52.7 525.9,52.1 526.0,53.7 526.2,57.4 526.4,51.5 526.5,57.5 526.7,55.1 526.9,55.4 527.0,54.8 527.2,51.4 527.4,55.5 527.5,52.8 527.7,52.2 527.9,58.9 528.0,56.5 528.2,54.7 528.4,54.1 528.5,52.3 528.7,57.7 528.9,51.3 529.0,51.7 529.2,54.8 529.4,58.4 529.5,56.3 529.7,57.9 529.9,56.3 530.0,58.7 530.2,57.2 530.4,60.7 530.5,60.8 530.7,67.3 530.9,64.5 531.0,61.6 531.2,68.1 531.4,64.0 531.5,70.5 531.7,67.7 531.9,62.4 532.0,71.4 532.2,70.9" fill="none" stroke="#000" stroke-width="1.5" stroke-linejoin="miter"/>
<defs><clipPath id="clipB"><rect x="75" y="130.4" width="458" height="103"/></clipPath></defs><g clip-path="url(#clipB)">
<line x1="88.3" y1="230.9" x2="92.7" y2="228.7" stroke="#18b6f9" stroke-width="6.3" stroke-linecap="round"/>
<line x1="92.7" y1="228.7" x2="95.2" y2="227.0" stroke="#18b7f9" stroke-width="6.3" stroke-linecap="round"/>
<line x1="95.2" y1="227.0" x2="97.6" y2="225.2" stroke="#18baf9" stroke-width="6.3" stroke-linecap="round"/>
<line x1="97.6" y1="225.2" x2="100.1" y2="223.5" stroke="#18bdf9" stroke-width="6.3" stroke-linecap="round"/>
<line x1="100.1" y1="223.5" x2="105.3" y2="222.8" stroke="#18bff9" stroke-width="6.3" stroke-linecap="round"/>
<line x1="105.3" y1="222.8" x2="108.6" y2="220.8" stroke="#18bff9" stroke-width="6.3" stroke-linecap="round"/>
<line x1="108.6" y1="220.8" x2="111.9" y2="218.8" stroke="#18bff9" stroke-width="6.3" stroke-linecap="round"/>
<line x1="111.9" y1="218.8" x2="115.6" y2="219.5" stroke="#18bff9" stroke-width="6.3" stroke-linecap="round"/>
<line x1="115.6" y1="219.5" x2="119.3" y2="220.3" stroke="#18bff9" stroke-width="6.3" stroke-linecap="round"/>
<line x1="119.3" y1="220.3" x2="123.7" y2="220.8" stroke="#18c1f9" stroke-width="6.3" stroke-linecap="round"/>
<line x1="123.7" y1="220.8" x2="128.1" y2="221.3" stroke="#18c5f9" stroke-width="6.3" stroke-linecap="round"/>
<line x1="128.1" y1="221.3" x2="132.2" y2="223.1" stroke="#18c8f9" stroke-width="6.3" stroke-linecap="round"/>
<line x1="132.2" y1="223.1" x2="136.3" y2="225.0" stroke="#18c8f9" stroke-width="6.3" stroke-linecap="round"/>
<line x1="136.3" y1="225.0" x2="139.6" y2="223.9" stroke="#18c8f9" stroke-width="6.3" stroke-linecap="round"/>
<line x1="139.6" y1="223.9" x2="142.9" y2="222.8" stroke="#18c8f9" stroke-width="6.3" stroke-linecap="round"/>
<line x1="142.9" y1="222.8" x2="145.9" y2="223.9" stroke="#18c8f9" stroke-width="6.3" stroke-linecap="round"/>
<line x1="145.9" y1="223.9" x2="148.8" y2="225.0" stroke="#18c8f9" stroke-width="6.3" stroke-linecap="round"/>
<line x1="148.8" y1="225.0" x2="152.1" y2="222.6" stroke="#18c8f9" stroke-width="6.3" stroke-linecap="round"/>
<line x1="152.1" y1="222.6" x2="155.4" y2="220.3" stroke="#18c8f9" stroke-width="6.3" stroke-linecap="round"/>
<line x1="155.4" y1="220.3" x2="159.1" y2="221.4" stroke="#18c8f9" stroke-width="6.3" stroke-linecap="round"/>
<line x1="159.1" y1="221.4" x2="162.8" y2="222.4" stroke="#18c8f9" stroke-width="6.3" stroke-linecap="round"/>
<line x1="162.8" y1="222.4" x2="166.5" y2="223.5" stroke="#18c8f9" stroke-width="6.3" stroke-linecap="round"/>
<line x1="166.5" y1="223.5" x2="169.5" y2="221.5" stroke="#18c9f9" stroke-width="6.3" stroke-linecap="round"/>
<line x1="169.5" y1="221.5" x2="172.4" y2="219.6" stroke="#18ccf9" stroke-width="6.3" stroke-linecap="round"/>
<line x1="172.4" y1="219.6" x2="175.4" y2="217.6" stroke="#18cff9" stroke-width="6.3" stroke-linecap="round"/>
<line x1="175.4" y1="217.6" x2="178.8" y2="217.6" stroke="#18d0f9" stroke-width="6.3" stroke-linecap="round"/>
<line x1="178.8" y1="217.6" x2="182.3" y2="217.6" stroke="#18d0f9" stroke-width="6.3" stroke-linecap="round"/>
<line x1="182.3" y1="217.6" x2="185.7" y2="217.6" stroke="#18d0f9" stroke-width="6.3" stroke-linecap="round"/>
<line x1="185.7" y1="217.6" x2="189.4" y2="216.1" stroke="#18d0f9" stroke-width="6.3" stroke-linecap="round"/>
<line x1="189.4" y1="216.1" x2="193.1" y2="214.7" stroke="#18d0f9" stroke-width="6.3" stroke-linecap="round"/>
<line x1="193.1" y1="214.7" x2="196.8" y2="215.8" stroke="#18d0f9" stroke-width="6.3" stroke-linecap="round"/>
<line x1="196.8" y1="215.8" x2="200.5" y2="216.9" stroke="#18d0f9" stroke-width="6.3" stroke-linecap="round"/>
<line x1="200.5" y1="216.9" x2="204.2" y2="217.8" stroke="#18d0f9" stroke-width="6.3" stroke-linecap="round"/>
<line x1="204.2" y1="217.8" x2="207.8" y2="218.8" stroke="#18d0f9" stroke-width="6.3" stroke-linecap="round"/>
<line x1="207.8" y1="218.8" x2="211.5" y2="219.1" stroke="#18d0f9" stroke-width="6.3" stroke-linecap="round"/>
<line x1="211.5" y1="219.1" x2="215.2" y2="219.4" stroke="#18d0f9" stroke-width="6.3" stroke-linecap="round"/>
<line x1="215.2" y1="219.4" x2="218.9" y2="221.1" stroke="#18d0f9" stroke-width="6.3" stroke-linecap="round"/>
<line x1="218.9" y1="221.1" x2="222.6" y2="222.8" stroke="#18d0f9" stroke-width="6.3" stroke-linecap="round"/>
<line x1="222.6" y1="222.8" x2="226.3" y2="220.8" stroke="#18d0f9" stroke-width="6.3" stroke-linecap="round"/>
<line x1="226.3" y1="220.8" x2="230.0" y2="218.8" stroke="#18d0f9" stroke-width="6.3" stroke-linecap="round"/>
<line x1="230.0" y1="218.8" x2="234.4" y2="218.5" stroke="#18d0f9" stroke-width="6.3" stroke-linecap="round"/>
<line x1="234.4" y1="218.5" x2="238.9" y2="218.3" stroke="#18d0f9" stroke-width="6.3" stroke-linecap="round"/>
<line x1="238.9" y1="218.3" x2="242.9" y2="217.2" stroke="#18d0f9" stroke-width="6.3" stroke-linecap="round"/>
<line x1="242.9" y1="217.2" x2="247.0" y2="216.1" stroke="#18d0f9" stroke-width="6.3" stroke-linecap="round"/>
<line x1="247.0" y1="216.1" x2="249.2" y2="218.6" stroke="#18d0f9" stroke-width="6.3" stroke-linecap="round"/>
<line x1="249.2" y1="218.6" x2="251.4" y2="221.0" stroke="#18d0f9" stroke-width="6.3" stroke-linecap="round"/>
<line x1="251.4" y1="221.0" x2="253.6" y2="223.5" stroke="#18d0f9" stroke-width="6.3" stroke-linecap="round"/>
<line x1="253.6" y1="223.5" x2="256.9" y2="225.7" stroke="#18d0f9" stroke-width="6.3" stroke-linecap="round"/>
<line x1="256.9" y1="225.7" x2="260.3" y2="227.9" stroke="#18d0f9" stroke-width="6.3" stroke-linecap="round"/>
<line x1="260.3" y1="227.9" x2="262.5" y2="225.5" stroke="#18d2f9" stroke-width="6.3" stroke-linecap="round"/>
<line x1="262.5" y1="225.5" x2="264.7" y2="223.0" stroke="#18d5f9" stroke-width="6.3" stroke-linecap="round"/>
<line x1="264.7" y1="223.0" x2="266.9" y2="220.6" stroke="#18d8f9" stroke-width="6.3" stroke-linecap="round"/>
<line x1="266.9" y1="220.6" x2="270.6" y2="221.4" stroke="#18d9f9" stroke-width="6.3" stroke-linecap="round"/>
<line x1="270.6" y1="221.4" x2="274.3" y2="222.3" stroke="#18d9f9" stroke-width="6.3" stroke-linecap="round"/>
<line x1="274.3" y1="222.3" x2="278.7" y2="222.3" stroke="#18d9f9" stroke-width="6.3" stroke-linecap="round"/>
<line x1="278.7" y1="222.3" x2="283.1" y2="222.3" stroke="#18d9f9" stroke-width="6.3" stroke-linecap="round"/>
<line x1="283.1" y1="222.3" x2="286.6" y2="221.8" stroke="#18dbf9" stroke-width="6.3" stroke-linecap="round"/>
<line x1="286.6" y1="221.8" x2="290.0" y2="221.3" stroke="#18def9" stroke-width="6.3" stroke-linecap="round"/>
<line x1="290.0" y1="221.3" x2="293.5" y2="220.8" stroke="#18e1f9" stroke-width="6.3" stroke-linecap="round"/>
<line x1="293.5" y1="220.8" x2="296.9" y2="221.7" stroke="#18e2f9" stroke-width="6.3" stroke-linecap="round"/>
<line x1="296.9" y1="221.7" x2="300.4" y2="222.6" stroke="#18e2f9" stroke-width="6.3" stroke-linecap="round"/>
<line x1="300.4" y1="222.6" x2="303.8" y2="223.5" stroke="#18e2f9" stroke-width="6.3" stroke-linecap="round"/>
<line x1="303.8" y1="223.5" x2="306.8" y2="222.3" stroke="#18e4f9" stroke-width="6.3" stroke-linecap="round"/>
<line x1="306.8" y1="222.3" x2="309.7" y2="221.0" stroke="#18e7f9" stroke-width="6.3" stroke-linecap="round"/>
<line x1="309.7" y1="221.0" x2="312.7" y2="219.8" stroke="#18eaf9" stroke-width="6.3" stroke-linecap="round"/>
<line x1="312.7" y1="219.8" x2="315.6" y2="218.6" stroke="#18edf9" stroke-width="6.3" stroke-linecap="round"/>
<line x1="315.6" y1="218.6" x2="318.6" y2="217.3" stroke="#18f0f9" stroke-width="6.3" stroke-linecap="round"/>
<line x1="318.6" y1="217.3" x2="321.5" y2="216.1" stroke="#18f3f9" stroke-width="6.3" stroke-linecap="round"/>
<line x1="321.5" y1="216.1" x2="325.4" y2="216.0" stroke="#18f4f9" stroke-width="6.3" stroke-linecap="round"/>
<line x1="325.4" y1="216.0" x2="329.4" y2="215.9" stroke="#18f4f9" stroke-width="6.3" stroke-linecap="round"/>
<line x1="329.4" y1="215.9" x2="333.3" y2="215.8" stroke="#18f4f9" stroke-width="6.3" stroke-linecap="round"/>
<line x1="333.3" y1="215.8" x2="337.8" y2="215.9" stroke="#18f4f9" stroke-width="6.3" stroke-linecap="round"/>
<line x1="337.8" y1="215.9" x2="342.2" y2="216.1" stroke="#18f4f9" stroke-width="6.3" stroke-linecap="round"/>
<line x1="342.2" y1="216.1" x2="346.6" y2="219.8" stroke="#18f4f9" stroke-width="6.3" stroke-linecap="round"/>
<line x1="346.6" y1="219.8" x2="349.6" y2="217.9" stroke="#18f7f9" stroke-width="6.3" stroke-linecap="round"/>
<line x1="349.6" y1="217.9" x2="352.5" y2="216.1" stroke="#1bf9f7" stroke-width="6.3" stroke-linecap="round"/>
<line x1="352.5" y1="216.1" x2="355.9" y2="215.4" stroke="#1ef9f3" stroke-width="6.3" stroke-linecap="round"/>
<line x1="355.9" y1="215.4" x2="359.4" y2="214.6" stroke="#21f9f0" stroke-width="6.3" stroke-linecap="round"/>
<line x1="359.4" y1="214.6" x2="362.8" y2="213.9" stroke="#24f9ed" stroke-width="6.3" stroke-linecap="round"/>
<line x1="362.8" y1="213.9" x2="365.8" y2="211.7" stroke="#2df9e5" stroke-width="6.3" stroke-linecap="round"/>
<line x1="365.8" y1="211.7" x2="368.7" y2="209.5" stroke="#3af9d7" stroke-width="6.3" stroke-linecap="round"/>
<line x1="368.7" y1="209.5" x2="372.4" y2="207.5" stroke="#43f9ce" stroke-width="6.3" stroke-linecap="round"/>
<line x1="372.4" y1="207.5" x2="376.1" y2="205.5" stroke="#48f9ca" stroke-width="6.3" stroke-linecap="round"/>
<line x1="376.1" y1="205.5" x2="379.1" y2="204.9" stroke="#4af9c8" stroke-width="6.3" stroke-linecap="round"/>
<line x1="379.1" y1="204.9" x2="382.0" y2="204.2" stroke="#4af9c8" stroke-width="6.3" stroke-linecap="round"/>
<line x1="382.0" y1="204.2" x2="385.0" y2="203.6" stroke="#4af9c8" stroke-width="6.3" stroke-linecap="round"/>
<line x1="385.0" y1="203.6" x2="390.1" y2="203.5" stroke="#4af9c8" stroke-width="6.3" stroke-linecap="round"/>
<line x1="390.1" y1="203.5" x2="394.1" y2="203.4" stroke="#4af9c8" stroke-width="6.3" stroke-linecap="round"/>
<line x1="394.1" y1="203.4" x2="398.0" y2="203.3" stroke="#4af9c8" stroke-width="6.3" stroke-linecap="round"/>
<line x1="398.0" y1="203.3" x2="402.0" y2="203.2" stroke="#4af9c8" stroke-width="6.3" stroke-linecap="round"/>
<line x1="402.0" y1="203.2" x2="405.4" y2="203.4" stroke="#4af9c8" stroke-width="6.3" stroke-linecap="round"/>
<line x1="405.4" y1="203.4" x2="408.8" y2="203.6" stroke="#4af9c8" stroke-width="6.3" stroke-linecap="round"/>
<line x1="408.8" y1="203.6" x2="412.1" y2="203.9" stroke="#4af9c8" stroke-width="6.3" stroke-linecap="round"/>
<line x1="412.1" y1="203.9" x2="415.5" y2="204.1" stroke="#4af9c8" stroke-width="6.3" stroke-linecap="round"/>
<line x1="415.5" y1="204.1" x2="420.5" y2="201.5" stroke="#4ef9c3" stroke-width="6.3" stroke-linecap="round"/>
<line x1="420.5" y1="201.5" x2="422.8" y2="199.3" stroke="#56f9bc" stroke-width="6.3" stroke-linecap="round"/>
<line x1="422.8" y1="199.3" x2="425.0" y2="197.0" stroke="#5cf9b6" stroke-width="6.3" stroke-linecap="round"/>
<line x1="425.0" y1="197.0" x2="427.3" y2="194.8" stroke="#62f9b0" stroke-width="6.3" stroke-linecap="round"/>
<line x1="427.3" y1="194.8" x2="429.0" y2="191.4" stroke="#6bf9a7" stroke-width="6.3" stroke-linecap="round"/>
<line x1="429.0" y1="191.4" x2="430.7" y2="188.0" stroke="#77f99b" stroke-width="6.3" stroke-linecap="round"/>
<line x1="430.7" y1="188.0" x2="432.4" y2="184.6" stroke="#83f98f" stroke-width="6.3" stroke-linecap="round"/>
<line x1="432.4" y1="184.6" x2="434.1" y2="181.2" stroke="#8ff983" stroke-width="6.3" stroke-linecap="round"/>
<line x1="434.1" y1="181.2" x2="435.7" y2="177.9" stroke="#9bf977" stroke-width="6.3" stroke-linecap="round"/>
<line x1="435.7" y1="177.9" x2="437.4" y2="174.5" stroke="#a7f96b" stroke-width="6.3" stroke-linecap="round"/>
<line x1="437.4" y1="174.5" x2="439.1" y2="171.1" stroke="#b3f95f" stroke-width="6.3" stroke-linecap="round"/>
<line x1="439.1" y1="171.1" x2="440.8" y2="167.8" stroke="#bff953" stroke-width="6.3" stroke-linecap="round"/>
<line x1="440.8" y1="167.8" x2="442.5" y2="164.4" stroke="#cbf947" stroke-width="6.3" stroke-linecap="round"/>
<line x1="442.5" y1="164.4" x2="444.6" y2="161.0" stroke="#d9f938" stroke-width="6.3" stroke-linecap="round"/>
<line x1="444.6" y1="161.0" x2="446.7" y2="157.6" stroke="#ebf926" stroke-width="6.3" stroke-linecap="round"/>
<line x1="446.7" y1="157.6" x2="449.2" y2="159.7" stroke="#f9f918" stroke-width="6.3" stroke-linecap="round"/>
<line x1="449.2" y1="159.7" x2="451.8" y2="161.8" stroke="#f9f018" stroke-width="6.3" stroke-linecap="round"/>
<line x1="451.8" y1="161.8" x2="454.4" y2="160.1" stroke="#f9e518" stroke-width="6.3" stroke-linecap="round"/>
<line x1="454.4" y1="160.1" x2="456.9" y2="158.4" stroke="#f9d718" stroke-width="6.3" stroke-linecap="round"/>
<line x1="456.9" y1="158.4" x2="462.8" y2="157.6" stroke="#f9c318" stroke-width="6.3" stroke-linecap="round"/>
<line x1="462.8" y1="157.6" x2="465.3" y2="161.0" stroke="#f9ad18" stroke-width="6.3" stroke-linecap="round"/>
<line x1="465.3" y1="161.0" x2="466.4" y2="164.2" stroke="#f9a018" stroke-width="6.3" stroke-linecap="round"/>
<line x1="466.4" y1="164.2" x2="467.4" y2="167.3" stroke="#f99a18" stroke-width="6.3" stroke-linecap="round"/>
<line x1="467.4" y1="167.3" x2="468.4" y2="170.4" stroke="#f99318" stroke-width="6.3" stroke-linecap="round"/>
<line x1="468.4" y1="170.4" x2="469.5" y2="173.6" stroke="#f98c18" stroke-width="6.3" stroke-linecap="round"/>
<line x1="469.5" y1="173.6" x2="471.6" y2="177.4" stroke="#f98218" stroke-width="6.3" stroke-linecap="round"/>
<line x1="471.6" y1="177.4" x2="473.8" y2="181.2" stroke="#f97418" stroke-width="6.3" stroke-linecap="round"/>
<line x1="473.8" y1="181.2" x2="476.3" y2="184.2" stroke="#f96918" stroke-width="6.3" stroke-linecap="round"/>
<line x1="476.3" y1="184.2" x2="478.8" y2="187.2" stroke="#f96018" stroke-width="6.3" stroke-linecap="round"/>
<line x1="478.8" y1="187.2" x2="481.0" y2="189.3" stroke="#f95e18" stroke-width="6.3" stroke-linecap="round"/>
<line x1="481.0" y1="189.3" x2="483.1" y2="191.4" stroke="#f96318" stroke-width="6.3" stroke-linecap="round"/>
<line x1="483.1" y1="191.4" x2="484.4" y2="194.8" stroke="#f96a18" stroke-width="6.3" stroke-linecap="round"/>
<line x1="484.4" y1="194.8" x2="485.6" y2="198.1" stroke="#f97618" stroke-width="6.3" stroke-linecap="round"/>
<line x1="485.6" y1="198.1" x2="486.9" y2="201.5" stroke="#f98118" stroke-width="6.3" stroke-linecap="round"/>
<line x1="486.9" y1="201.5" x2="488.1" y2="204.9" stroke="#f98c18" stroke-width="6.3" stroke-linecap="round"/>
<line x1="488.1" y1="204.9" x2="491.5" y2="204.9" stroke="#f99b18" stroke-width="6.3" stroke-linecap="round"/>
<line x1="491.5" y1="204.9" x2="494.9" y2="204.9" stroke="#f9ad18" stroke-width="6.3" stroke-linecap="round"/>
<line x1="494.9" y1="204.9" x2="498.2" y2="205.5" stroke="#f9bc18" stroke-width="6.3" stroke-linecap="round"/>
<line x1="498.2" y1="205.5" x2="501.6" y2="206.2" stroke="#f9ca18" stroke-width="6.3" stroke-linecap="round"/>
<line x1="501.6" y1="206.2" x2="505.0" y2="205.4" stroke="#f9d918" stroke-width="6.3" stroke-linecap="round"/>
<line x1="505.0" y1="205.4" x2="508.4" y2="204.6" stroke="#f9eb18" stroke-width="6.3" stroke-linecap="round"/>
<line x1="508.4" y1="204.6" x2="511.8" y2="206.8" stroke="#f2f91f" stroke-width="6.3" stroke-linecap="round"/>
<line x1="511.8" y1="206.8" x2="515.2" y2="209.1" stroke="#dcf936" stroke-width="6.3" stroke-linecap="round"/>
<line x1="515.2" y1="209.1" x2="518.5" y2="212.1" stroke="#caf948" stroke-width="6.3" stroke-linecap="round"/>
<line x1="518.5" y1="212.1" x2="521.9" y2="215.0" stroke="#bcf955" stroke-width="6.3" stroke-linecap="round"/>
<line x1="521.9" y1="215.0" x2="525.3" y2="215.6" stroke="#b3f95f" stroke-width="6.3" stroke-linecap="round"/>
<line x1="525.3" y1="215.6" x2="528.6" y2="216.1" stroke="#adf965" stroke-width="6.3" stroke-linecap="round"/>
<line x1="528.6" y1="216.1" x2="532.0" y2="216.7" stroke="#a7f96b" stroke-width="6.3" stroke-linecap="round"/>
</g>
<line x1="87.5" y1="209.3" x2="533" y2="209.3" stroke="#111" stroke-width="1.6" stroke-dasharray="20 12.4"/>
<line x1="452.3" y1="130.4" x2="452.3" y2="233.4" stroke="#dc1e1e" stroke-width="1.6"/>
<rect x="75" y="21" width="458" height="103.3" fill="none" stroke="#262626" stroke-width="1.4"/>
<line x1="198.65" y1="21" x2="198.65" y2="25.5" stroke="#262626" stroke-width="1.3"/>
<line x1="198.65" y1="124.3" x2="198.65" y2="119.8" stroke="#262626" stroke-width="1.3"/>
<line x1="322.30" y1="21" x2="322.30" y2="25.5" stroke="#262626" stroke-width="1.3"/>
<line x1="322.30" y1="124.3" x2="322.30" y2="119.8" stroke="#262626" stroke-width="1.3"/>
<line x1="445.95" y1="21" x2="445.95" y2="25.5" stroke="#262626" stroke-width="1.3"/>
<line x1="445.95" y1="124.3" x2="445.95" y2="119.8" stroke="#262626" stroke-width="1.3"/>
<rect x="75" y="130.4" width="458" height="103.0" fill="none" stroke="#262626" stroke-width="1.4"/>
<line x1="198.65" y1="130.4" x2="198.65" y2="134.9" stroke="#262626" stroke-width="1.3"/>
<line x1="198.65" y1="233.4" x2="198.65" y2="228.9" stroke="#262626" stroke-width="1.3"/>
<line x1="322.30" y1="130.4" x2="322.30" y2="134.9" stroke="#262626" stroke-width="1.3"/>
<line x1="322.30" y1="233.4" x2="322.30" y2="228.9" stroke="#262626" stroke-width="1.3"/>
<line x1="445.95" y1="130.4" x2="445.95" y2="134.9" stroke="#262626" stroke-width="1.3"/>
<line x1="445.95" y1="233.4" x2="445.95" y2="228.9" stroke="#262626" stroke-width="1.3"/>
<line x1="75" y1="121.20" x2="79.5" y2="121.20" stroke="#262626" stroke-width="1.3"/>
<line x1="533" y1="121.20" x2="528.5" y2="121.20" stroke="#262626" stroke-width="1.3"/>
<line x1="75" y1="88.93" x2="79.5" y2="88.93" stroke="#262626" stroke-width="1.3"/>
<line x1="533" y1="88.93" x2="528.5" y2="88.93" stroke="#262626" stroke-width="1.3"/>
<line x1="75" y1="56.67" x2="79.5" y2="56.67" stroke="#262626" stroke-width="1.3"/>
<line x1="533" y1="56.67" x2="528.5" y2="56.67" stroke="#262626" stroke-width="1.3"/>
<line x1="75" y1="24.40" x2="79.5" y2="24.40" stroke="#262626" stroke-width="1.3"/>
<line x1="533" y1="24.40" x2="528.5" y2="24.40" stroke="#262626" stroke-width="1.3"/>
<line x1="75" y1="233.40" x2="79.5" y2="233.40" stroke="#262626" stroke-width="1.3"/>
<line x1="533" y1="233.40" x2="528.5" y2="233.40" stroke="#262626" stroke-width="1.3"/>
<line x1="75" y1="172.75" x2="79.5" y2="172.75" stroke="#262626" stroke-width="1.3"/>
<line x1="533" y1="172.75" x2="528.5" y2="172.75" stroke="#262626" stroke-width="1.3"/>
<text x="65.8" y="128.4" font-family='"Liberation Sans", sans-serif' font-size="20" text-anchor="end" >0</text>
<text x="65.8" y="96.1" font-family='"Liberation Sans", sans-serif' font-size="20" text-anchor="end" >100</text>
<text x="65.8" y="63.9" font-family='"Liberation Sans", sans-serif' font-size="20" text-anchor="end" >200</text>
<text x="65.8" y="31.6" font-family='"Liberation Sans", sans-serif' font-size="20" text-anchor="end" >300</text>
<text x="65.8" y="240.6" font-family='"Liberation Sans", sans-serif' font-size="20" text-anchor="end" >0</text>
<text x="65.8" y="179.9" font-family='"Liberation Sans", sans-serif' font-size="20" text-anchor="end" >5</text>
<text x="75.0" y="261.0" font-family='"Liberation Sans", sans-serif' font-size="20" text-anchor="middle" >0</text>
<text x="198.6" y="261.0" font-family='"Liberation Sans", sans-serif' font-size="20" text-anchor="middle" >100</text>
<text x="322.3" y="261.0" font-family='"Liberation Sans", sans-serif' font-size="20" text-anchor="middle" >200</text>
<text x="445.9" y="261.0" font-family='"Liberation Sans", sans-serif' font-size="20" text-anchor="middle" >300</text>
<text transform="translate(20.3,72.5) rotate(-90)" font-family='"Liberation Serif", serif' font-size="21" text-anchor="middle" letter-spacing="0.6">FHR (bpm)</text>
<text transform="translate(18.6,182) rotate(-90)" font-family='"Liberation Serif", serif' font-size="21" text-anchor="middle" letter-spacing="0.6">Distance</text>
<text x="304.0" y="287.6" font-family='"Liberation Serif", serif' font-size="21" text-anchor="middle" letter-spacing="0.6">Time (min)</text>
<text x="304.0" y="17.3" font-family='"Liberation Serif", serif' font-size="20.5" text-anchor="middle" letter-spacing="0.4">Normoxic</text>
<text x="112.1" y="42.0" font-family='"Liberation Serif", serif' font-size="20" text-anchor="start" >a)</text>
<text x="112.1" y="155.0" font-family='"Liberation Serif", serif' font-size="20" text-anchor="start" >b)</text>
<line x1="724.80" y1="21" x2="724.80" y2="124.3" stroke="#e6e6e6" stroke-width="1.2"/>
<line x1="724.80" y1="130.4" x2="724.80" y2="233.4" stroke="#e6e6e6" stroke-width="1.2"/>
<line x1="830.10" y1="21" x2="830.10" y2="124.3" stroke="#e6e6e6" stroke-width="1.2"/>
<line x1="830.10" y1="130.4" x2="830.10" y2="233.4" stroke="#e6e6e6" stroke-width="1.2"/>
<line x1="935.40" y1="21" x2="935.40" y2="124.3" stroke="#e6e6e6" stroke-width="1.2"/>
<line x1="935.40" y1="130.4" x2="935.40" y2="233.4" stroke="#e6e6e6" stroke-width="1.2"/>
<line x1="1040.70" y1="21" x2="1040.70" y2="124.3" stroke="#e6e6e6" stroke-width="1.2"/>
<line x1="1040.70" y1="130.4" x2="1040.70" y2="233.4" stroke="#e6e6e6" stroke-width="1.2"/>
<line x1="619.5" y1="121.20" x2="1077.5" y2="121.20" stroke="#e6e6e6" stroke-width="1.2"/>
<line x1="619.5" y1="88.93" x2="1077.5" y2="88.93" stroke="#e6e6e6" stroke-width="1.2"/>
<line x1="619.5" y1="56.67" x2="1077.5" y2="56.67" stroke="#e6e6e6" stroke-width="1.2"/>
<line x1="619.5" y1="24.40" x2="1077.5" y2="24.40" stroke="#e6e6e6" stroke-width="1.2"/>
<line x1="619.5" y1="172.75" x2="1077.5" y2="172.75" stroke="#e6e6e6" stroke-width="1.2"/>
<polyline points="620.3,67.9 620.5,68.7 620.6,69.7 620.8,75.5 621.0,75.7 621.1,73.1 621.3,75.0 621.5,69.5 621.6,72.6 621.8,73.7 622.0,73.4 622.1,70.1 622.3,74.3 622.5,71.4 622.6,74.3 622.8,72.1 623.0,56.7 623.1,71.7 623.3,73.2 623.5,69.6 623.6,69.8 623.8,71.9 624.0,74.5 624.1,73.2 624.3,72.1 624.5,71.6 624.6,72.5 624.8,69.0 625.0,69.4 625.1,72.7 625.3,73.4 625.5,72.6 625.6,72.6 625.8,72.7 626.0,76.5 626.1,73.9 626.3,76.5 626.5,72.1 626.6,70.4 626.8,75.1 627.0,94.7 627.1,73.8 627.3,74.5 627.5,68.8 627.6,71.7 627.8,82.5 628.0,73.9 628.1,72.4 628.3,73.2 628.5,71.0 628.6,73.5 628.8,71.0 629.0,71.5 629.1,73.7 629.3,67.0 629.5,69.2 629.6,73.0 629.8,74.2 630.0,72.5 630.1,72.6 630.3,71.6 630.5,73.5 630.6,72.7 630.8,71.1 631.0,70.9 631.1,77.3 631.3,72.8 631.5,75.7 631.6,76.5 631.8,75.6 632.0,75.9 632.1,73.0 632.3,72.5 632.5,74.8 632.6,75.9 632.8,70.2 633.0,69.8 633.1,73.0 633.3,74.9 633.5,72.7 633.6,72.6 633.8,77.2 634.0,72.0 634.1,75.6 634.3,72.1 634.5,65.7 634.6,73.6 634.8,74.7 635.0,72.1 635.1,69.1 635.3,72.0 635.5,70.6 635.6,68.6 635.8,70.4 636.0,64.8 636.1,72.6 636.3,64.5 636.5,71.2 636.6,67.7 636.8,65.9 637.0,68.6 637.1,74.3 637.3,71.8 637.5,70.4 637.6,70.2 637.8,70.0 638.0,70.0 638.1,69.5 638.3,76.0 638.5,70.7 638.6,76.3 638.8,72.4 639.0,76.3 639.1,77.6 639.3,70.4 639.5,71.9 639.6,68.9 639.8,75.2 640.0,74.2 640.1,72.5 640.3,72.5 640.5,70.4 640.6,73.2 640.8,73.6 641.0,75.0 641.1,69.4 641.3,73.2 641.5,74.7 641.6,69.3 641.8,69.5 642.0,71.1 642.1,71.1 642.3,73.3 642.5,73.1 642.6,77.6 642.8,76.2 643.0,76.0 643.1,72.5 643.3,70.8 643.5,73.5 643.6,73.7 643.8,70.2 644.0,73.6 644.1,70.7 644.3,71.2 644.5,75.1 644.6,71.6 644.8,71.6 645.0,75.6 645.1,73.6 645.3,74.3 645.5,68.1 645.6,66.5 645.8,69.8 646.0,93.8 646.1,74.2 646.3,68.1 646.5,67.5 646.6,68.7 646.8,75.0 647.0,69.3 647.1,72.7 647.3,70.5 647.5,74.1 647.6,71.6 647.8,73.8 648.0,59.9 648.1,73.3 648.3,70.2 648.5,71.6 648.6,73.4 648.8,74.9 649.0,74.9 649.1,74.1 649.3,71.9 649.5,73.2 649.6,72.7 649.8,72.9 650.0,72.9 650.1,73.9 650.3,77.1 650.5,71.9 650.6,71.6 650.8,75.1 651.0,69.0 651.1,75.4 651.3,70.2 651.5,71.8 651.6,72.1 651.8,69.7 652.0,68.7 652.1,71.2 652.3,74.6 652.5,75.4 652.6,72.8 652.8,70.5 653.0,72.8 653.1,74.3 653.3,72.9 653.5,71.3 653.6,68.5 653.8,74.4 654.0,70.5 654.1,71.9 654.3,74.5 654.5,75.9 654.6,70.1 654.8,65.3 655.0,73.2 655.1,72.7 655.3,70.7 655.5,72.5 655.6,68.6 655.8,72.7 656.0,73.6 656.1,73.0 656.3,75.1 656.5,74.8 656.6,70.2 656.8,68.3 657.0,97.0 657.1,70.5 657.3,71.7 657.5,71.3 657.6,69.1 657.8,69.6 658.0,72.6 658.1,72.7 658.3,68.9 658.5,70.1 658.7,71.9 658.8,72.0 659.0,69.8 659.2,71.6 659.3,71.9 659.5,75.9 659.7,77.5 659.8,78.2 660.0,78.4 660.2,73.2 660.3,73.2 660.5,75.9 660.7,72.7 660.8,73.0 661.0,96.0 661.2,76.9 661.3,70.4 661.5,70.4 661.7,73.3 661.8,67.7 662.0,72.1 662.2,73.3 662.3,72.6 662.5,75.5 662.7,73.3 662.8,75.7 663.0,69.5 663.2,71.9 663.3,74.8 663.5,70.5 663.7,75.5 663.8,72.1 664.0,72.2 664.2,73.4 664.3,76.8 664.5,74.2 664.7,73.8 664.8,73.6 665.0,71.3 665.2,71.0 665.3,71.8 665.5,76.6 665.7,76.7 665.8,75.2 666.0,74.3 666.2,79.2 666.3,75.0 666.5,70.0 666.7,76.3 666.8,75.4 667.0,76.0 667.2,72.7 667.3,73.8 667.5,74.4 667.7,76.9 667.8,72.5 668.0,74.5 668.2,75.1 668.3,73.2 668.5,71.5 668.7,76.1 668.8,75.7 669.0,74.8 669.2,74.3 669.3,79.4 669.5,73.9 669.7,70.5 669.8,72.4 670.0,69.8 670.2,78.2 670.3,72.1 670.5,69.2 670.7,68.5 670.8,73.2 671.0,74.3 671.2,71.8 671.3,75.9 671.5,73.5 671.7,76.1 671.8,71.7 672.0,72.8 672.2,69.1 672.3,72.4 672.5,74.6 672.7,72.6 672.8,75.1 673.0,57.3 673.2,72.1 673.3,70.1 673.5,67.8 673.7,75.2 673.8,69.7 674.0,68.9 674.2,73.5 674.3,66.5 674.5,72.7 674.7,66.9 674.8,71.0 675.0,70.6 675.2,70.8 675.3,69.5 675.5,74.5 675.7,75.0 675.8,77.5 676.0,72.1 676.2,74.6 676.3,72.1 676.5,72.8 676.7,78.1 676.8,73.4 677.0,75.0 677.2,76.6 677.3,75.1 677.5,75.7 677.7,75.2 677.8,72.5 678.0,59.2 678.2,77.1 678.3,76.6 678.5,71.4 678.7,74.1 678.8,70.1 679.0,80.1 679.2,73.9 679.3,73.4 679.5,71.1 679.7,68.8 679.8,72.3 680.0,75.6 680.2,70.8 680.3,64.9 680.5,78.0 680.7,71.9 680.8,73.0 681.0,74.8 681.2,74.3 681.3,72.8 681.5,74.1 681.7,74.6 681.8,76.2 682.0,73.3 682.2,75.5 682.3,74.6 682.5,75.3 682.7,73.9 682.8,72.8 683.0,73.0 683.2,72.2 683.3,77.5 683.5,74.1 683.7,74.7 683.8,75.7 684.0,74.7 684.2,80.6 684.3,74.0 684.5,74.4 684.7,78.8 684.8,72.1 685.0,74.1 685.2,72.0 685.3,74.5 685.5,72.9 685.7,73.0 685.8,74.1 686.0,71.2 686.2,70.5 686.3,77.8 686.5,72.6 686.7,73.8 686.8,74.5 687.0,69.5 687.2,69.6 687.3,74.2 687.5,74.3 687.7,70.9 687.8,74.5 688.0,73.8 688.2,77.7 688.3,74.1 688.5,71.5 688.7,74.8 688.8,73.6 689.0,69.2 689.2,70.5 689.3,69.2 689.5,71.2 689.7,70.8 689.8,77.0 690.0,88.9 690.2,78.5 690.3,69.2 690.5,74.6 690.7,75.0 690.8,76.0 691.0,76.6 691.2,78.9 691.3,68.1 691.5,73.5 691.7,72.1 691.8,75.6 692.0,73.5 692.2,73.1 692.3,74.3 692.5,62.5 692.7,75.5 692.8,73.8 693.0,72.3 693.2,71.7 693.3,72.4 693.5,73.5 693.7,74.9 693.8,70.9 694.0,73.3 694.2,74.9 694.3,71.9 694.5,76.2 694.7,73.4 694.8,71.8 695.0,72.6 695.2,76.0 695.3,75.9 695.5,74.6 695.7,75.7 695.8,76.1 696.0,65.0 696.2,73.6 696.3,73.0 696.5,71.4 696.7,73.8 696.8,75.3 697.0,73.4 697.2,70.4 697.3,75.4 697.5,73.8 697.7,75.1 697.8,72.5 698.0,75.9 698.2,72.2 698.3,70.9 698.5,74.6 698.7,81.6 698.8,74.9 699.0,71.1 699.2,74.7 699.3,74.7 699.5,73.8 699.7,74.6 699.8,71.7 700.0,85.7 700.2,78.9 700.3,76.2 700.5,74.3 700.7,77.3 700.8,75.9 701.0,74.9 701.2,71.7 701.3,73.4 701.5,75.0 701.7,74.8 701.8,75.4 702.0,74.5 702.2,76.5 702.3,77.2 702.5,74.3 702.7,72.4 702.8,72.7 703.0,77.6 703.2,74.4 703.3,76.3 703.5,74.8 703.7,77.6 703.8,73.3 704.0,58.3 704.2,73.4 704.3,72.6 704.5,79.8 704.7,75.1 704.8,71.6 705.0,74.3 705.2,72.5 705.3,74.0 705.5,76.0 705.7,73.5 705.8,71.1 706.0,70.4 706.2,69.1 706.3,74.8 706.5,70.6 706.7,75.6 706.8,72.5 707.0,72.8 707.2,70.6 707.3,70.5 707.5,69.8 707.7,72.6 707.8,69.5 708.0,70.7 708.2,72.7 708.3,75.5 708.5,73.2 708.7,73.8 708.8,73.0 709.0,73.8 709.2,74.6 709.3,72.7 709.5,72.0 709.7,70.4 709.8,68.1 710.0,72.9 710.2,68.4 710.3,62.5 710.5,71.5 710.7,75.3 710.8,70.1 711.0,76.5 711.2,72.1 711.3,76.7 711.5,77.1 711.7,73.6 711.8,72.8 712.0,75.1 712.2,68.6 712.3,74.4 712.5,69.5 712.7,74.7 712.8,75.0 713.0,73.5 713.2,76.1 713.3,71.7 713.5,77.5 713.7,70.9 713.8,72.4 714.0,73.4 714.2,70.2 714.3,71.3 714.5,71.6 714.7,69.7 714.8,71.5 715.0,71.8 715.2,69.8 715.3,73.2 715.5,72.5 715.7,74.9 715.8,72.9 716.0,73.3 716.2,75.9 716.3,79.3 716.5,78.0 716.7,77.6 716.8,74.3 717.0,75.0 717.2,74.7 717.3,73.0 717.5,72.5 717.7,70.9 717.8,74.6 718.0,71.9 718.2,82.9 718.3,75.1 718.5,72.7 718.7,74.5 718.8,73.0 719.0,71.0 719.2,75.4 719.3,73.2 719.5,29.2 719.7,71.7 719.8,74.1 720.0,72.0 720.2,74.4 720.3,73.1 720.5,70.9 720.7,71.9 720.8,72.7 721.0,72.4 721.2,70.3 721.3,70.0 721.5,73.3 721.7,74.8 721.8,75.5 722.0,69.8 722.2,75.4 722.3,77.0 722.5,73.2 722.7,70.6 722.8,76.2 723.0,73.8 723.2,76.2 723.3,73.3 723.5,68.7 723.7,72.4 723.8,73.3 724.0,71.4 724.2,71.0 724.3,71.7 724.5,72.9 724.7,74.2 724.8,68.8 725.0,74.1 725.2,69.6 725.3,74.5 725.5,70.1 725.7,71.4 725.8,73.2 726.0,69.0 726.2,75.5 726.3,74.6 726.5,75.9 726.7,75.9 726.8,74.0 727.0,74.9 727.2,74.5 727.3,70.2 727.5,76.4 727.7,75.2 727.8,73.9 728.0,72.9 728.2,69.3 728.3,70.5 728.5,70.6 728.7,72.0 728.8,66.5 729.0,75.0 729.2,76.3 729.3,73.6 729.5,73.2 729.7,74.1 729.8,75.2 730.0,76.3 730.2,74.6 730.3,75.4 730.5,74.7 730.7,75.8 730.8,69.3 731.0,71.7 731.2,68.6 731.3,73.5 731.5,72.5 731.7,73.9 731.8,73.6 732.0,73.6 732.2,73.6 732.3,77.2 732.5,73.9 732.7,71.5 732.8,77.8 733.0,74.7 733.2,72.6 733.3,71.0 733.5,73.2 733.7,73.0 733.8,69.8 734.0,69.9 734.2,73.0 734.3,73.6 734.5,70.4 734.7,72.6 734.9,74.2 735.0,73.4 735.2,72.0 735.4,72.8 735.5,73.6 735.7,74.3 735.9,78.0 736.0,71.5 736.2,72.8 736.4,72.0 736.5,74.2 736.7,73.2 736.9,72.2 737.0,58.3 737.2,77.3 737.4,72.0 737.5,74.5 737.7,71.8 737.9,72.8 738.0,67.5 738.2,70.9 738.4,72.1 738.5,69.0 738.7,71.8 738.9,73.2 739.0,71.4 739.2,72.6 739.4,70.9 739.5,69.4 739.7,72.5 739.9,73.2 740.0,70.9 740.2,71.7 740.4,69.5 740.5,71.9 740.7,75.1 740.9,74.5 741.0,76.5 741.2,70.3 741.4,73.1 741.5,75.5 741.7,78.3 741.9,75.4 742.0,77.1 742.2,76.3 742.4,79.4 742.5,79.1 742.7,72.8 742.9,78.5 743.0,75.6 743.2,71.6 743.4,78.7 743.5,72.8 743.7,75.0 743.9,75.9 744.0,75.1 744.2,78.5 744.4,81.0 744.5,70.2 744.7,75.5 744.9,71.4 745.0,70.2 745.2,72.5 745.4,71.6 745.5,73.0 745.7,70.1 745.9,72.7 746.0,70.7 746.2,75.8 746.4,74.6 746.5,65.5 746.7,73.2 746.9,72.2 747.0,68.9 747.2,72.4 747.4,74.0 747.5,70.1 747.7,73.9 747.9,74.0 748.0,73.0 748.2,76.1 748.4,77.3 748.5,74.2 748.7,74.1 748.9,76.1 749.0,72.6 749.2,73.0 749.4,73.6 749.5,77.2 749.7,73.0 749.9,67.8 750.0,70.6 750.2,71.1 750.4,74.5 750.5,70.9 750.7,75.3 750.9,74.3 751.0,71.7 751.2,76.7 751.4,72.8 751.5,72.5 751.7,68.2 751.9,74.2 752.0,71.1 752.2,74.8 752.4,74.3 752.5,80.3 752.7,76.0 752.9,69.8 753.0,72.2 753.2,73.2 753.4,66.7 753.5,70.7 753.7,75.6 753.9,72.6 754.0,71.9 754.2,68.3 754.4,76.2 754.5,74.1 754.7,72.0 754.9,76.5 755.0,92.2 755.2,80.9 755.4,75.6 755.5,81.8 755.7,77.0 755.9,69.8 756.0,73.8 756.2,74.6 756.4,74.8 756.5,69.9 756.7,74.8 756.9,73.7 757.0,77.9 757.2,77.7 757.4,79.1 757.5,77.3 757.7,77.3 757.9,73.6 758.0,74.2 758.2,74.7 758.4,76.3 758.5,81.7 758.7,74.5 758.9,71.9 759.0,72.3 759.2,81.2 759.4,79.5 759.5,73.0 759.7,75.3 759.9,73.7 760.0,73.7 760.2,71.3 760.4,77.6 760.5,75.0 760.7,71.3 760.9,74.1 761.0,77.5 761.2,74.0 761.4,74.7 761.5,77.8 761.7,72.6 761.9,72.8 762.0,76.5 762.2,73.8 762.4,79.5 762.5,73.6 762.7,75.5 762.9,76.9 763.0,76.2 763.2,70.9 763.4,76.7 763.5,75.1 763.7,75.6 763.9,75.5 764.0,71.0 764.2,67.5 764.4,70.4 764.5,104.4 764.7,72.6 764.9,74.9 765.0,74.9 765.2,75.3 765.4,68.2 765.5,73.1 765.7,73.9 765.9,73.7 766.0,71.5 766.2,74.3 766.4,73.6 766.5,73.6 766.7,70.6 766.9,78.4 767.0,75.1 767.2,77.9 767.4,76.5 767.5,71.0 767.7,73.1 767.9,75.1 768.0,72.1 768.2,73.8 768.4,71.0 768.5,76.7 768.7,74.5 768.9,75.9 769.0,76.0 769.2,75.3 769.4,75.4 769.5,73.5 769.7,70.3 769.9,75.6 770.0,75.7 770.2,73.8 770.4,76.9 770.5,72.6 770.7,73.8 770.9,80.4 771.0,75.8 771.2,76.7 771.4,71.0 771.5,70.5 771.7,76.5 771.9,75.5 772.0,75.1 772.2,74.8 772.4,72.5 772.5,73.1 772.7,74.8 772.9,74.6 773.0,73.6 773.2,76.0 773.4,75.9 773.5,75.7 773.7,71.0 773.9,70.4 774.0,70.6 774.2,74.4 774.4,75.0 774.5,43.8 774.7,71.1 774.9,72.6 775.0,92.2 775.2,75.4 775.4,73.2 775.5,72.6 775.7,76.0 775.9,68.9 776.0,77.2 776.2,72.1 776.4,74.5 776.5,75.1 776.7,77.5 776.9,78.3 777.0,74.9 777.2,76.1 777.4,76.5 777.5,72.8 777.7,73.6 777.9,75.1 778.0,73.3 778.2,68.4 778.4,73.8 778.5,72.6 778.7,72.6 778.9,76.0 779.0,77.4 779.2,71.1 779.4,69.5 779.5,72.3 779.7,73.4 779.9,73.8 780.0,92.2 780.2,74.0 780.4,78.2 780.5,72.5 780.7,74.9 780.9,73.6 781.0,71.5 781.2,70.0 781.4,72.3 781.5,74.0 781.7,79.0 781.9,71.6 782.0,72.2 782.2,68.0 782.4,68.5 782.5,71.5 782.7,69.7 782.9,74.0 783.0,74.2 783.2,77.2 783.4,74.5 783.5,72.8 783.7,71.9 783.9,77.5 784.0,74.3 784.2,70.0 784.4,79.1 784.5,76.9 784.7,75.6 784.9,73.1 785.0,69.5 785.2,70.4 785.4,73.5 785.5,75.1 785.7,72.8 785.9,73.0 786.0,52.8 786.2,75.8 786.4,69.3 786.5,75.6 786.7,71.9 786.9,73.2 787.0,77.5 787.2,74.7 787.4,74.0 787.5,74.7 787.7,71.0 787.9,75.2 788.0,68.0 788.2,71.8 788.4,76.7 788.5,81.4 788.7,70.7 788.9,72.7 789.0,72.2 789.2,75.1 789.4,76.3 789.5,78.6 789.7,58.9 789.9,68.9 790.0,73.7 790.2,68.1 790.4,78.8 790.5,72.6 790.7,71.9 790.9,78.0 791.0,77.7 791.2,77.7 791.4,74.3 791.5,71.8 791.7,66.2 791.9,73.8 792.0,71.6 792.2,79.7 792.4,70.1 792.5,75.2 792.7,78.7 792.9,75.6 793.0,55.1 793.2,74.7 793.4,73.1 793.5,80.8 793.7,70.9 793.9,70.2 794.0,78.0 794.2,71.4 794.4,72.7 794.5,73.3 794.7,70.7 794.9,77.6 795.0,70.8 795.2,75.8 795.4,65.5 795.5,74.3 795.7,73.7 795.9,68.2 796.0,68.5 796.2,70.6 796.4,69.4 796.5,68.4 796.7,64.7 796.9,71.5 797.0,103.5 797.2,73.2 797.4,72.0 797.5,71.7 797.7,76.8 797.9,73.4 798.0,78.2 798.2,75.8 798.4,75.4 798.5,76.0 798.7,72.4 798.9,71.7 799.0,73.5 799.2,71.4 799.4,76.9 799.5,71.8 799.7,76.5 799.9,75.5 800.0,75.3 800.2,79.3 800.4,77.9 800.5,76.7 800.7,75.8 800.9,77.2 801.0,78.6 801.2,77.2 801.4,74.0 801.5,76.8 801.7,76.7 801.9,73.0 802.0,34.1 802.2,74.0 802.4,76.4 802.5,69.1 802.7,66.8 802.9,71.5 803.0,71.3 803.2,76.6 803.4,69.6 803.5,75.7 803.7,71.2 803.9,75.4 804.0,74.3 804.2,75.9 804.4,79.8 804.5,67.2 804.7,84.3 804.9,74.5 805.0,51.8 805.2,76.0 805.4,71.0 805.5,79.4 805.7,73.5 805.9,72.1 806.0,72.2 806.2,71.9 806.4,75.1 806.5,78.3 806.7,77.1 806.9,74.9 807.0,71.5 807.2,72.3 807.4,68.5 807.5,72.3 807.7,71.7 807.9,71.9 808.0,64.3 808.2,71.3 808.4,75.5 808.5,73.1 808.7,65.4 808.9,75.5 809.0,71.6 809.2,70.2 809.4,71.0 809.5,71.1 809.7,73.0 809.9,66.2 810.0,90.5 810.2,72.8 810.4,66.9 810.6,69.1 810.7,72.3 810.9,71.8 811.1,71.0 811.2,63.9 811.4,69.5 811.6,74.5 811.7,70.4 811.9,74.0 812.1,55.1 812.2,73.1 812.4,71.0 812.6,73.3 812.7,68.0 812.9,71.5 813.1,71.4 813.2,76.1 813.4,74.3 813.6,73.4 813.7,76.0 813.9,68.5 814.1,75.3 814.2,76.9 814.4,72.8 814.6,75.5 814.7,72.6 814.9,73.0 815.1,53.4 815.2,68.0 815.4,71.4 815.6,67.6 815.7,72.1 815.9,74.8 816.1,74.4 816.2,72.8 816.4,71.8 816.6,71.7 816.7,70.0 816.9,74.1 817.1,70.4 817.2,73.7 817.4,73.2 817.6,66.3 817.7,70.1 817.9,74.6 818.1,67.6 818.2,68.8 818.4,69.5 818.6,67.6 818.7,70.6 818.9,70.2 819.1,71.7 819.2,68.2 819.4,73.6 819.6,72.4 819.7,70.6 819.9,72.1 820.1,69.9 820.2,66.4 820.4,73.6 820.6,68.1 820.7,73.4 820.9,74.2 821.1,70.9 821.2,68.4 821.4,74.1 821.6,74.1 821.7,72.6 821.9,74.1 822.1,87.3 822.2,74.4 822.4,72.6 822.6,70.8 822.7,73.0 822.9,68.8 823.1,72.8 823.2,73.0 823.4,64.9 823.6,66.1 823.7,70.5 823.9,69.2 824.1,70.7 824.2,73.1 824.4,69.9 824.6,70.7 824.7,67.2 824.9,74.6 825.1,67.2 825.2,69.5 825.4,72.0 825.6,71.1 825.7,71.2 825.9,73.2 826.1,71.4 826.2,68.6 826.4,73.3 826.6,69.9 826.7,75.9 826.9,72.0 827.1,69.7 827.2,70.5 827.4,70.4 827.6,74.3 827.7,69.7 827.9,73.6 828.1,51.8 828.2,70.0 828.4,70.9 828.6,65.8 828.7,69.9 828.9,66.8 829.1,68.4 829.2,68.7 829.4,67.1 829.6,68.8 829.7,70.2 829.9,70.2 830.1,68.9 830.2,70.0 830.4,70.6 830.6,72.4 830.7,76.9 830.9,70.4 831.1,71.3 831.2,81.4 831.4,70.0 831.6,67.8 831.7,66.7 831.9,70.5 832.1,71.6 832.2,67.8 832.4,70.0 832.6,69.1 832.7,64.8 832.9,68.4 833.1,66.7 833.2,73.1 833.4,69.4 833.6,67.8 833.7,72.9 833.9,68.3 834.1,66.5 834.2,75.1 834.4,65.2 834.6,70.6 834.7,71.3 834.9,67.3 835.1,75.9 835.2,69.5 835.4,56.5 835.6,70.9 835.7,73.1 835.9,67.5 836.1,73.9 836.2,69.6 836.4,68.5 836.6,71.0 836.7,70.8 836.9,71.3 837.1,68.3 837.2,69.0 837.4,70.2 837.6,72.3 837.7,68.7 837.9,67.4 838.1,69.2 838.2,66.2 838.4,74.3 838.6,62.9 838.7,69.6 838.9,72.3 839.1,73.4 839.2,67.1 839.4,68.9 839.6,70.9 839.7,70.3 839.9,69.4 840.1,71.7 840.2,68.4 840.4,69.6 840.6,72.0 840.7,76.0 840.9,67.9 841.1,72.5 841.2,72.8 841.4,66.9 841.6,67.9 841.7,73.7 841.9,71.3 842.1,68.3 842.2,70.7 842.4,67.2 842.6,60.8 842.7,60.4 842.9,68.1 843.1,66.0 843.2,66.9 843.4,69.5 843.6,73.4 843.7,67.2 843.9,70.5 844.1,69.2 844.2,68.1 844.4,71.8 844.6,65.8 844.7,70.0 844.9,69.1 845.1,70.4 845.2,66.8 845.4,81.6 845.6,70.2 845.7,66.0 845.9,68.6 846.1,69.6 846.2,66.8 846.4,64.8 846.6,65.9 846.7,64.1 846.9,69.2 847.1,68.7 847.2,69.0 847.4,66.8 847.6,68.7 847.7,70.8 847.9,72.1 848.1,48.6 848.2,65.3 848.4,69.5 848.6,64.2 848.7,69.9 848.9,68.1 849.1,65.7 849.2,75.8 849.4,83.2 849.6,88.7 849.7,88.6 849.9,82.0 850.1,72.5 850.2,68.7 850.4,70.3 850.6,67.1 850.7,73.6 850.9,69.6 851.1,67.9 851.2,68.5 851.4,63.7 851.6,66.8 851.7,65.0 851.9,66.0 852.1,76.8 852.2,85.7 852.4,92.5 852.6,91.1 852.7,82.8 852.9,74.8 853.1,70.0 853.2,69.2 853.4,67.0 853.6,69.0 853.7,66.3 853.9,67.4 854.1,71.5 854.2,69.6 854.4,71.3 854.6,72.2 854.7,70.0 854.9,78.3 855.1,88.6 855.2,94.2 855.4,96.0 855.6,84.0 855.7,76.3 855.9,67.6 856.1,69.4 856.2,67.1 856.4,65.1 856.6,69.3 856.7,67.0 856.9,73.4 857.1,68.8 857.2,72.1 857.4,68.2 857.6,77.2 857.7,86.3 857.9,86.6 858.1,86.9 858.2,81.1 858.4,75.7 858.6,72.9 858.7,73.2 858.9,70.5 859.1,66.5 859.2,68.2 859.4,67.4 859.6,64.0 859.7,68.6 859.9,67.0 860.1,65.2 860.2,79.7 860.4,88.8 860.6,94.5 860.7,93.6 860.9,83.4 861.1,76.4 861.2,66.8 861.4,63.7 861.6,64.4 861.7,67.6 861.9,64.5 862.1,64.7 862.2,65.8 862.4,64.9 862.6,66.4 862.7,68.8 862.9,78.1 863.1,90.0 863.2,98.2 863.4,94.2 863.6,86.9 863.7,77.2 863.9,72.5 864.1,75.4 864.2,72.5 864.4,65.4 864.6,76.1 864.7,75.5 864.9,68.9 865.1,68.7 865.2,73.9 865.4,66.7 865.6,76.2 865.7,85.7 865.9,92.1 866.1,91.6 866.2,83.0 866.4,76.2 866.6,70.6 866.7,73.1 866.9,69.0 867.1,69.5 867.2,69.3 867.4,70.1 867.6,69.5 867.7,67.1 867.9,71.0 868.1,69.3 868.2,77.7 868.4,88.9 868.6,95.7 868.7,92.1 868.9,86.0 869.1,76.8 869.2,75.9 869.4,68.8 869.6,66.7 869.7,71.5 869.9,65.6 870.1,73.5 870.2,66.0 870.4,70.9 870.6,72.1 870.7,70.3 870.9,71.1 871.1,65.7 871.2,78.0 871.4,85.5 871.6,91.5 871.7,90.7 871.9,83.4 872.1,75.0 872.2,71.0 872.4,71.3 872.6,69.5 872.7,68.2 872.9,64.3 873.1,67.1 873.2,77.0 873.4,87.6 873.6,94.1 873.7,92.0 873.9,83.9 874.1,74.4 874.2,68.1 874.4,66.2 874.6,67.6 874.7,67.4 874.9,66.9 875.1,66.6 875.2,65.4 875.4,76.0 875.6,86.1 875.7,90.4 875.9,88.9 876.1,84.8 876.2,72.3 876.4,62.1 876.6,69.3 876.7,73.3 876.9,64.2 877.1,70.3 877.2,69.4 877.4,70.5 877.6,68.4 877.7,80.4 877.9,86.4 878.1,96.7 878.2,94.3 878.4,86.2 878.6,76.5 878.7,69.4 878.9,73.7 879.1,72.2 879.2,67.5 879.4,74.0 879.6,73.8 879.7,69.3 879.9,70.8 880.1,78.7 880.2,88.3 880.4,94.3 880.6,94.0 880.7,83.5 880.9,76.4 881.1,71.3 881.2,68.5 881.4,67.3 881.6,71.9 881.7,66.5 881.9,72.4 882.1,69.5 882.2,68.1 882.4,60.2 882.6,73.2 882.7,65.9 882.9,80.4 883.1,88.5 883.2,94.6 883.4,89.9 883.6,82.5 883.7,76.0 883.9,70.9 884.1,68.1 884.2,73.0 884.4,66.5 884.6,75.2 884.7,69.3 884.9,65.2 885.1,67.6 885.2,71.0 885.4,70.7 885.6,71.2 885.7,63.6 885.9,71.2 886.1,76.6 886.2,86.9 886.4,91.3 886.6,92.7 886.8,82.8 886.9,75.6 887.1,72.4 887.3,72.9 887.4,71.7 887.6,73.9 887.8,73.1 887.9,73.9 888.1,68.1 888.3,70.7 888.4,71.8 888.6,70.5 888.8,71.2 888.9,78.7 889.1,90.5 889.3,96.8 889.4,95.9 889.6,86.3 889.8,78.2 889.9,75.2 890.1,73.6 890.3,67.9 890.4,74.4 890.6,73.4 890.8,68.1 890.9,69.8 891.1,70.6 891.3,69.3 891.4,79.9 891.6,90.0 891.8,96.2 891.9,95.1 892.1,86.5 892.3,76.6 892.4,73.5 892.6,72.1 892.8,75.6 892.9,70.1 893.1,70.0 893.3,68.5 893.4,69.0 893.6,69.2 893.8,69.9 893.9,78.5 894.1,87.4 894.3,93.9 894.4,91.5 894.6,86.2 894.8,77.1 894.9,75.0 895.1,69.4 895.3,69.0 895.4,76.3 895.6,74.0 895.8,72.9 895.9,73.2 896.1,79.2 896.3,88.4 896.4,95.1 896.6,93.3 896.8,87.6 896.9,77.8 897.1,78.6 897.3,73.4 897.4,70.1 897.6,75.5 897.8,70.4 897.9,74.7 898.1,70.3 898.3,70.3 898.4,80.3 898.6,91.7 898.8,98.1 898.9,95.0 899.1,87.1 899.3,78.2 899.4,63.0 899.6,75.5 899.8,71.6 899.9,69.3 900.1,74.1 900.3,71.0 900.4,71.7 900.6,74.9 900.8,68.3 900.9,72.0 901.1,78.7 901.3,89.5 901.4,94.3 901.6,94.5 901.8,84.9 901.9,77.2 902.1,69.9 902.3,72.1 902.4,75.3 902.6,71.5 902.8,71.1 902.9,73.0 903.1,77.0 903.3,86.2 903.4,91.1 903.6,90.4 903.8,84.3 903.9,77.1 904.1,67.0 904.3,69.4 904.4,70.5 904.6,77.1 904.8,73.3 904.9,72.5 905.1,69.8 905.3,79.2 905.4,89.2 905.6,97.3 905.8,92.9 905.9,85.2 906.1,76.8 906.3,71.9 906.4,74.9 906.6,74.3 906.8,74.8 906.9,77.1 907.1,75.5 907.3,75.1 907.4,72.6 907.6,68.6 907.8,80.7 907.9,92.2 908.1,97.8 908.3,96.4 908.4,86.3 908.6,79.2 908.8,72.1 908.9,70.1 909.1,73.9 909.3,70.4 909.4,74.7 909.6,69.5 909.8,74.6 909.9,68.7 910.1,68.5 910.3,74.9 910.4,70.4 910.6,73.5 910.8,79.4 910.9,90.7 911.1,96.4 911.3,96.1 911.4,86.9 911.6,80.1 911.8,70.0 911.9,70.2 912.1,73.4 912.3,83.4 912.4,71.1 912.6,70.6 912.8,68.8 912.9,73.7 913.1,77.2 913.3,79.6 913.4,90.4 913.6,95.4 913.8,94.3 913.9,85.4 914.1,77.9 914.3,77.9 914.4,69.8 914.6,73.7 914.8,71.8 914.9,83.7 915.1,70.3 915.3,71.6 915.4,69.3 915.6,67.8 915.8,68.2 915.9,65.3 916.1,77.4 916.3,87.5 916.4,92.0 916.6,91.1 916.8,84.5 916.9,75.7 917.1,75.2 917.3,72.9 917.4,71.2 917.6,73.4 917.8,73.7 917.9,71.6 918.1,68.0 918.3,78.5 918.4,69.2 918.6,72.1 918.8,74.2 918.9,71.2 919.1,78.7 919.3,88.7 919.4,93.5 919.6,91.4 919.8,85.9 919.9,77.0 920.0,73.4 920.2,58.7 920.6,95.9 921.5,69.4 922.8,78.3 923.0,45.8 923.4,92.4 924.3,71.6 925.5,72.5 925.7,50.3 926.1,93.2 926.4,48.3 926.7,89.6 927.0,68.6 929.1,68.9 929.3,46.0 929.7,95.0 930.6,67.6 933.3,66.5 933.6,56.6 933.9,94.3 934.8,77.9 937.2,69.6 937.4,59.4 937.8,92.3 938.1,59.5 938.4,90.4 938.7,73.4 941.2,60.8 941.4,46.5 941.8,93.8 942.7,73.4 944.4,69.7 944.6,53.6 945.0,95.2 945.9,67.0 947.4,73.6 947.7,58.2 948.0,93.9 948.3,47.5 948.6,94.8 948.9,75.6 951.0,74.2 951.3,54.9 951.6,91.8 951.9,63.0 952.2,92.4 952.5,72.1 954.3,65.6 954.5,57.8 954.9,95.2 955.8,66.4 956.8,68.2 957.1,47.8 957.4,94.9 957.7,49.7 958.0,93.0 958.3,65.8 959.9,68.2 960.2,50.8 960.5,95.7 961.4,64.2 962.6,78.1 962.9,52.3 963.2,93.7 963.5,47.9 963.8,95.3 964.1,67.3 966.6,64.0 966.8,49.4 967.2,95.1 967.5,57.5 967.8,87.5 968.1,78.0 969.0,62.2 969.3,54.5 969.6,93.3 970.5,77.8 972.1,63.4 972.4,57.2 972.7,92.0 973.6,72.0 975.1,69.0 975.3,76.4 975.5,78.9" fill="none" stroke="#000" stroke-width="1.5" stroke-linejoin="miter"/>
<polyline points="984.2,40.0 984.6,95.4 985.5,60.6 986.5,70.4 986.7,43.7 987.1,96.5 987.1,51.3 987.3,56.5 987.4,50.9 987.5,62.4" fill="none" stroke="#000" stroke-width="1.5" stroke-linejoin="miter"/>
<polyline points="992.1,46.8 992.3,71.3 992.5,89.3 992.6,99.9 992.8,99.3 993.0,83.0 993.1,68.6 993.3,60.2 993.5,54.8 993.6,61.6 993.8,55.3 994.0,51.1 994.1,59.9 994.3,63.0 994.5,58.0 994.6,53.9 994.8,55.6 995.0,41.2 995.1,72.3 995.3,89.9 995.5,102.2 995.6,99.0 995.8,83.5 996.0,67.2 996.1,59.2 996.3,56.7 996.5,52.0 996.6,51.6 996.8,53.7 997.0,53.9 997.1,60.9 997.3,52.1 997.5,73.3 997.6,53.0 997.8,34.9 998.0,46.3 998.1,44.8 998.3,71.4 998.5,90.3 998.6,99.5 998.8,96.3 999.0,82.4 999.1,67.8 999.3,51.9 999.5,55.2 999.6,53.9 999.8,58.1 1000.0,54.0 1000.1,56.4 1000.3,51.9 1000.5,56.3 1000.6,48.3 1000.8,52.8 1001.0,43.5 1001.1,71.5 1001.3,90.5 1001.5,101.5 1001.6,98.6 1001.8,82.6 1002.0,67.6 1002.1,62.2 1002.3,60.6 1002.5,60.9 1002.6,58.1 1002.8,60.7 1003.0,57.0 1003.1,56.3 1003.3,59.4 1003.5,46.7 1003.6,57.0 1003.8,54.7 1004.0,56.3 1004.1,45.3 1004.3,72.1 1004.5,86.9 1004.6,97.8 1004.8,95.8 1005.0,82.1 1005.1,66.9 1005.3,51.0 1005.5,53.6 1005.6,51.0 1005.8,60.7 1006.0,57.2 1006.1,60.2 1006.3,57.8 1006.5,51.0 1006.6,54.1 1006.8,69.1 1007.0,84.9 1007.1,93.6 1007.3,91.5 1007.5,79.3 1007.6,64.7 1007.8,54.1 1008.0,55.0 1008.1,53.3 1008.3,60.2 1008.5,56.7 1008.6,63.0 1008.8,59.5 1009.0,58.8 1009.1,58.0 1009.3,55.6 1009.5,70.3 1009.6,89.7 1009.8,102.4 1010.0,97.6 1010.1,81.7 1010.3,68.0 1010.5,61.9 1010.6,51.3 1010.8,63.8 1011.0,50.3 1011.1,54.4 1011.3,58.7 1011.5,64.2 1011.6,69.2 1011.8,85.6 1012.0,95.8 1012.1,93.1 1012.3,81.2 1012.5,64.9 1012.6,57.0 1012.8,56.0 1013.0,60.0 1013.1,56.3 1013.3,62.2 1013.5,53.7 1013.6,61.6 1013.8,55.9 1014.0,60.1 1014.1,56.0 1014.3,67.8 1014.5,84.1 1014.6,94.6 1014.8,90.6 1015.0,77.7 1015.1,65.5 1015.3,57.2 1015.5,48.7 1015.6,53.6 1015.8,57.3 1016.0,51.4 1016.1,57.2 1016.3,49.2 1016.5,52.9 1016.6,49.6 1016.8,59.9 1017.0,48.5 1017.1,51.3 1017.3,63.4 1017.5,70.5 1017.6,89.9 1017.8,100.2 1018.0,99.8 1018.1,83.1 1018.3,66.3 1018.5,55.1 1018.6,54.3 1018.8,59.9 1019.0,54.4 1019.1,56.9 1019.3,51.0 1019.5,50.0 1019.6,52.9 1019.8,70.8 1020.0,85.8 1020.1,95.4 1020.3,92.9 1020.5,79.2 1020.6,62.8 1020.8,65.5 1021.0,55.9 1021.1,59.3 1021.3,55.0 1021.5,59.7 1021.6,61.5 1021.8,59.3 1022.0,59.2 1022.1,56.5 1022.3,62.9 1022.5,64.4 1022.6,63.1 1022.8,53.3 1023.0,62.9 1023.1,58.7 1023.3,61.0 1023.5,54.4 1023.6,59.9 1023.8,52.5 1024.0,60.1 1024.1,56.2 1024.3,54.2 1024.5,53.9 1024.6,60.5 1024.8,57.0 1025.0,55.2 1025.1,59.9 1025.3,53.1 1025.5,53.3 1025.6,52.5 1025.8,57.4 1026.0,53.4 1026.1,52.0 1026.3,50.1 1026.5,55.3 1026.6,51.1 1026.8,48.3 1027.0,55.3 1027.1,54.9 1027.3,55.1 1027.5,57.6 1027.6,55.0 1027.8,50.5 1028.0,55.6 1028.1,54.0 1028.3,50.8 1028.5,51.7 1028.6,52.7 1028.8,53.4 1029.0,52.7 1029.1,52.4 1029.3,50.8 1029.5,51.1 1029.6,49.6 1029.8,54.0 1030.0,50.2 1030.1,52.1 1030.3,51.5 1030.5,52.1 1030.6,51.0 1030.8,51.5 1031.0,50.6 1031.1,52.5 1031.3,51.1 1031.5,49.6 1031.6,49.4 1031.8,51.2 1032.0,50.6 1032.1,51.3 1032.3,51.8 1032.5,52.2 1032.6,50.4 1032.8,51.4 1033.0,49.7 1033.1,49.0 1033.3,53.1 1033.5,51.0 1033.6,51.0 1033.8,52.8 1034.0,52.1 1034.1,51.5 1034.3,48.8 1034.5,51.0 1034.6,51.4 1034.8,50.9 1035.0,52.2 1035.1,50.8 1035.3,51.4 1035.5,53.2 1035.6,51.7 1035.8,47.4 1036.0,50.5 1036.1,51.6 1036.3,51.0 1036.5,52.6 1036.6,51.8 1036.8,50.6 1037.0,53.5 1037.1,52.6 1037.3,51.8 1037.5,51.4 1037.6,52.2 1037.8,50.8 1038.0,49.4 1038.1,50.7 1038.3,49.3 1038.5,48.8 1038.7,51.9 1038.8,51.2 1039.0,52.2 1039.2,50.5 1039.3,53.3 1039.5,53.1 1039.7,50.4 1039.8,54.6 1040.0,56.8 1040.2,54.8 1040.3,54.1 1040.5,56.6 1040.7,55.5 1040.8,53.7 1041.0,57.1 1041.2,56.2 1041.3,58.1 1041.5,56.3 1041.7,57.8 1041.8,59.2 1042.0,57.9 1042.2,51.9 1042.3,67.9 1042.5,66.2 1042.7,56.5 1042.8,61.7 1043.0,49.9 1043.2,59.0 1043.3,58.8 1043.5,56.6 1043.7,52.5 1043.8,54.7 1044.0,54.9 1044.2,56.2 1044.3,53.5 1044.5,64.2 1044.7,56.9 1044.8,52.4 1045.0,61.1 1045.2,56.8 1045.3,53.8 1045.5,52.0 1045.7,59.1 1045.8,47.2 1046.0,58.0 1046.2,56.1 1046.3,63.0 1046.5,60.8 1046.7,58.9 1046.8,50.3 1047.0,65.5 1047.2,76.5 1047.3,53.2 1047.5,55.8 1047.7,67.5 1047.8,58.4 1048.0,58.2 1048.2,53.0 1048.3,66.2 1048.5,61.3 1048.7,56.2 1048.8,56.5 1049.0,63.4 1049.2,59.9 1049.3,66.5 1049.5,56.9 1049.7,65.7 1049.8,58.8 1050.0,60.1 1050.2,66.4 1050.3,61.7 1050.5,56.5 1050.7,56.5 1050.8,51.6 1051.0,54.3 1051.2,43.9 1051.3,55.9 1051.5,63.0 1051.7,61.9 1051.8,56.3 1052.0,56.4 1052.2,51.8 1052.3,57.7 1052.5,60.4 1052.7,59.4 1052.8,52.1 1053.0,63.2 1053.2,63.6 1053.3,56.6 1053.5,60.5 1053.7,59.3 1053.8,66.6 1054.0,60.9 1054.2,62.8 1054.3,64.6 1054.5,62.4 1054.7,60.3 1054.8,55.1 1055.0,52.0 1055.2,97.0 1055.3,53.2 1055.5,60.3 1055.7,69.0 1055.8,60.7 1056.0,56.9 1056.2,55.4 1056.3,64.1 1056.5,50.1 1056.7,62.0 1056.8,63.5 1057.0,64.0 1057.2,79.8 1057.3,60.1 1057.5,58.0 1057.7,71.1 1057.8,62.5 1058.0,65.3 1058.2,61.2 1058.3,66.4 1058.5,58.2 1058.7,64.0 1058.8,66.9 1059.0,67.3 1059.2,55.8 1059.3,56.9 1059.5,63.1 1059.7,54.7 1059.8,59.0 1060.0,60.1 1060.2,47.0 1060.3,60.6 1060.5,55.9 1060.7,57.6 1060.8,60.9 1061.0,51.8 1061.2,50.4 1061.3,60.3 1061.5,53.3 1061.7,58.6 1061.8,50.5 1062.0,57.1 1062.2,54.4 1062.3,53.4 1062.5,56.1 1062.7,51.6 1062.8,58.9 1063.0,57.6 1063.2,38.9 1063.3,76.6 1063.5,55.3 1063.7,56.3 1063.8,58.3 1064.0,52.9 1064.2,55.5 1064.3,51.9 1064.5,50.0 1064.7,57.0 1064.8,57.7 1065.0,55.4 1065.2,56.5 1065.3,61.8 1065.5,48.3 1065.7,53.5 1065.8,45.2 1066.0,55.9 1066.2,72.8 1066.3,52.3 1066.5,54.4 1066.7,49.8 1066.8,54.8 1067.0,54.9 1067.2,53.7 1067.3,64.2 1067.5,57.6 1067.7,57.8 1067.8,47.4 1068.0,52.1 1068.2,50.6 1068.3,49.4 1068.5,52.3 1068.7,43.7 1068.8,51.8 1069.0,41.6 1069.2,50.6 1069.3,48.4 1069.5,53.8 1069.7,52.5 1069.8,52.2 1070.0,50.7 1070.2,43.8 1070.3,49.5 1070.5,56.9 1070.7,50.0 1070.8,61.2 1071.0,50.9 1071.2,53.4 1071.3,57.0 1071.5,63.7 1071.7,53.5 1071.8,58.3 1072.0,60.8 1072.2,58.2 1072.3,56.3 1072.5,53.9 1072.7,59.9 1072.8,57.1 1073.0,42.0 1073.2,54.6 1073.3,44.7 1073.5,53.7 1073.7,47.9 1073.8,44.5 1074.0,52.1 1074.2,46.6 1074.3,50.6 1074.5,51.7 1074.7,45.7 1074.8,56.5 1075.0,55.8 1075.2,44.4 1075.3,54.8 1075.5,50.1 1075.7,53.8 1075.8,49.5 1076.0,56.6 1076.2,50.5 1076.3,55.4 1076.5,57.2" fill="none" stroke="#000" stroke-width="1.5" stroke-linejoin="miter"/>
<defs><clipPath id="clipF"><rect x="619.5" y="130.4" width="458" height="103"/></clipPath></defs><g clip-path="url(#clipF)">
<line x1="630.0" y1="231.5" x2="632.5" y2="229.5" stroke="#189bf9" stroke-width="6.3" stroke-linecap="round"/>
<line x1="632.5" y1="229.5" x2="634.9" y2="227.5" stroke="#189bf9" stroke-width="6.3" stroke-linecap="round"/>
<line x1="634.9" y1="227.5" x2="639.3" y2="228.1" stroke="#189bf9" stroke-width="6.3" stroke-linecap="round"/>
<line x1="639.3" y1="228.1" x2="643.8" y2="228.6" stroke="#189bf9" stroke-width="6.3" stroke-linecap="round"/>
<line x1="643.8" y1="228.6" x2="646.7" y2="227.1" stroke="#189cf9" stroke-width="6.3" stroke-linecap="round"/>
<line x1="646.7" y1="227.1" x2="649.7" y2="225.7" stroke="#189ff9" stroke-width="6.3" stroke-linecap="round"/>
<line x1="649.7" y1="225.7" x2="652.6" y2="224.2" stroke="#18a2f9" stroke-width="6.3" stroke-linecap="round"/>
<line x1="652.6" y1="224.2" x2="655.9" y2="224.5" stroke="#18a4f9" stroke-width="6.3" stroke-linecap="round"/>
<line x1="655.9" y1="224.5" x2="659.2" y2="224.8" stroke="#18a4f9" stroke-width="6.3" stroke-linecap="round"/>
<line x1="659.2" y1="224.8" x2="662.6" y2="225.0" stroke="#18a4f9" stroke-width="6.3" stroke-linecap="round"/>
<line x1="662.6" y1="225.0" x2="665.9" y2="225.3" stroke="#18a4f9" stroke-width="6.3" stroke-linecap="round"/>
<line x1="665.9" y1="225.3" x2="669.2" y2="227.5" stroke="#18a4f9" stroke-width="6.3" stroke-linecap="round"/>
<line x1="669.2" y1="227.5" x2="672.6" y2="229.7" stroke="#18a4f9" stroke-width="6.3" stroke-linecap="round"/>
<line x1="672.6" y1="229.7" x2="675.5" y2="227.9" stroke="#18a5f9" stroke-width="6.3" stroke-linecap="round"/>
<line x1="675.5" y1="227.9" x2="678.5" y2="226.0" stroke="#18a8f9" stroke-width="6.3" stroke-linecap="round"/>
<line x1="678.5" y1="226.0" x2="681.4" y2="224.2" stroke="#18abf9" stroke-width="6.3" stroke-linecap="round"/>
<line x1="681.4" y1="224.2" x2="685.1" y2="223.2" stroke="#18adf9" stroke-width="6.3" stroke-linecap="round"/>
<line x1="685.1" y1="223.2" x2="688.8" y2="222.3" stroke="#18adf9" stroke-width="6.3" stroke-linecap="round"/>
<line x1="688.8" y1="222.3" x2="692.5" y2="221.3" stroke="#18adf9" stroke-width="6.3" stroke-linecap="round"/>
<line x1="692.5" y1="221.3" x2="696.2" y2="221.5" stroke="#18aef9" stroke-width="6.3" stroke-linecap="round"/>
<line x1="696.2" y1="221.5" x2="699.9" y2="221.8" stroke="#18b1f9" stroke-width="6.3" stroke-linecap="round"/>
<line x1="699.9" y1="221.8" x2="703.6" y2="222.0" stroke="#18b4f9" stroke-width="6.3" stroke-linecap="round"/>
<line x1="703.6" y1="222.0" x2="706.4" y2="223.4" stroke="#18b6f9" stroke-width="6.3" stroke-linecap="round"/>
<line x1="706.4" y1="223.4" x2="709.1" y2="224.8" stroke="#18b6f9" stroke-width="6.3" stroke-linecap="round"/>
<line x1="709.1" y1="224.8" x2="711.9" y2="226.1" stroke="#18b6f9" stroke-width="6.3" stroke-linecap="round"/>
<line x1="711.9" y1="226.1" x2="714.6" y2="227.5" stroke="#18b6f9" stroke-width="6.3" stroke-linecap="round"/>
<line x1="714.6" y1="227.5" x2="717.9" y2="227.2" stroke="#18b7f9" stroke-width="6.3" stroke-linecap="round"/>
<line x1="717.9" y1="227.2" x2="721.2" y2="226.9" stroke="#18b9f9" stroke-width="6.3" stroke-linecap="round"/>
<line x1="721.2" y1="226.9" x2="724.6" y2="226.7" stroke="#18bbf9" stroke-width="6.3" stroke-linecap="round"/>
<line x1="724.6" y1="226.7" x2="727.9" y2="226.4" stroke="#18bdf9" stroke-width="6.3" stroke-linecap="round"/>
<line x1="727.9" y1="226.4" x2="730.8" y2="224.5" stroke="#18bff9" stroke-width="6.3" stroke-linecap="round"/>
<line x1="730.8" y1="224.5" x2="733.7" y2="222.6" stroke="#18c1f9" stroke-width="6.3" stroke-linecap="round"/>
<line x1="733.7" y1="222.6" x2="736.5" y2="220.7" stroke="#18c3f9" stroke-width="6.3" stroke-linecap="round"/>
<line x1="736.5" y1="220.7" x2="739.4" y2="218.8" stroke="#18c5f9" stroke-width="6.3" stroke-linecap="round"/>
<line x1="739.4" y1="218.8" x2="742.3" y2="216.9" stroke="#18c7f9" stroke-width="6.3" stroke-linecap="round"/>
<line x1="742.3" y1="216.9" x2="746.1" y2="218.3" stroke="#18caf9" stroke-width="6.3" stroke-linecap="round"/>
<line x1="746.1" y1="218.3" x2="750.0" y2="219.8" stroke="#18cef9" stroke-width="6.3" stroke-linecap="round"/>
<line x1="750.0" y1="219.8" x2="753.4" y2="219.2" stroke="#18d0f9" stroke-width="6.3" stroke-linecap="round"/>
<line x1="753.4" y1="219.2" x2="756.7" y2="218.7" stroke="#18d0f9" stroke-width="6.3" stroke-linecap="round"/>
<line x1="756.7" y1="218.7" x2="758.5" y2="221.3" stroke="#18d0f9" stroke-width="6.3" stroke-linecap="round"/>
<line x1="758.5" y1="221.3" x2="760.4" y2="223.8" stroke="#18d0f9" stroke-width="6.3" stroke-linecap="round"/>
<line x1="760.4" y1="223.8" x2="762.2" y2="226.4" stroke="#18d0f9" stroke-width="6.3" stroke-linecap="round"/>
<line x1="762.2" y1="226.4" x2="764.6" y2="224.4" stroke="#18d2f9" stroke-width="6.3" stroke-linecap="round"/>
<line x1="764.6" y1="224.4" x2="767.1" y2="222.4" stroke="#18d6f9" stroke-width="6.3" stroke-linecap="round"/>
<line x1="767.1" y1="222.4" x2="769.5" y2="220.5" stroke="#18d9f9" stroke-width="6.3" stroke-linecap="round"/>
<line x1="769.5" y1="220.5" x2="772.0" y2="218.5" stroke="#18ddf9" stroke-width="6.3" stroke-linecap="round"/>
<line x1="772.0" y1="218.5" x2="774.4" y2="216.5" stroke="#18e1f9" stroke-width="6.3" stroke-linecap="round"/>
<line x1="774.4" y1="216.5" x2="777.1" y2="214.6" stroke="#18e4f9" stroke-width="6.3" stroke-linecap="round"/>
<line x1="777.1" y1="214.6" x2="779.7" y2="212.8" stroke="#18e8f9" stroke-width="6.3" stroke-linecap="round"/>
<line x1="779.7" y1="212.8" x2="782.4" y2="210.9" stroke="#18ebf9" stroke-width="6.3" stroke-linecap="round"/>
<line x1="782.4" y1="210.9" x2="785.0" y2="209.1" stroke="#18eff9" stroke-width="6.3" stroke-linecap="round"/>
<line x1="785.0" y1="209.1" x2="787.7" y2="207.2" stroke="#18f3f9" stroke-width="6.3" stroke-linecap="round"/>
<line x1="787.7" y1="207.2" x2="792.1" y2="208.7" stroke="#18f4f9" stroke-width="6.3" stroke-linecap="round"/>
<line x1="792.1" y1="208.7" x2="795.8" y2="210.2" stroke="#18f3f9" stroke-width="6.3" stroke-linecap="round"/>
<line x1="795.8" y1="210.2" x2="799.5" y2="211.6" stroke="#18f0f9" stroke-width="6.3" stroke-linecap="round"/>
<line x1="799.5" y1="211.6" x2="803.2" y2="213.1" stroke="#18edf9" stroke-width="6.3" stroke-linecap="round"/>
<line x1="803.2" y1="213.1" x2="805.4" y2="216.1" stroke="#18eaf9" stroke-width="6.3" stroke-linecap="round"/>
<line x1="805.4" y1="216.1" x2="807.6" y2="219.0" stroke="#18e7f9" stroke-width="6.3" stroke-linecap="round"/>
<line x1="807.6" y1="219.0" x2="809.8" y2="222.0" stroke="#18e4f9" stroke-width="6.3" stroke-linecap="round"/>
<line x1="809.8" y1="222.0" x2="812.7" y2="223.1" stroke="#18e1f9" stroke-width="6.3" stroke-linecap="round"/>
<line x1="812.7" y1="223.1" x2="815.6" y2="224.2" stroke="#18ddf9" stroke-width="6.3" stroke-linecap="round"/>
<line x1="815.6" y1="224.2" x2="818.4" y2="225.3" stroke="#18d9f9" stroke-width="6.3" stroke-linecap="round"/>
<line x1="818.4" y1="225.3" x2="821.3" y2="226.4" stroke="#18d6f9" stroke-width="6.3" stroke-linecap="round"/>
<line x1="821.3" y1="226.4" x2="824.2" y2="227.5" stroke="#18d2f9" stroke-width="6.3" stroke-linecap="round"/>
<line x1="824.2" y1="227.5" x2="828.1" y2="225.3" stroke="#18d0f9" stroke-width="6.3" stroke-linecap="round"/>
<line x1="828.1" y1="225.3" x2="832.0" y2="223.1" stroke="#18d0f9" stroke-width="6.3" stroke-linecap="round"/>
<line x1="832.0" y1="223.1" x2="835.3" y2="224.8" stroke="#18cef9" stroke-width="6.3" stroke-linecap="round"/>
<line x1="835.3" y1="224.8" x2="838.6" y2="226.4" stroke="#18caf9" stroke-width="6.3" stroke-linecap="round"/>
<line x1="838.6" y1="226.4" x2="840.4" y2="223.9" stroke="#18c6f9" stroke-width="6.3" stroke-linecap="round"/>
<line x1="840.4" y1="223.9" x2="842.1" y2="221.4" stroke="#18c3f9" stroke-width="6.3" stroke-linecap="round"/>
<line x1="842.1" y1="221.4" x2="843.9" y2="218.9" stroke="#18c0f9" stroke-width="6.3" stroke-linecap="round"/>
<line x1="843.9" y1="218.9" x2="845.8" y2="215.7" stroke="#18bff9" stroke-width="6.3" stroke-linecap="round"/>
<line x1="845.8" y1="215.7" x2="847.8" y2="212.4" stroke="#18bff9" stroke-width="6.3" stroke-linecap="round"/>
<line x1="847.8" y1="212.4" x2="849.7" y2="209.2" stroke="#18bff9" stroke-width="6.3" stroke-linecap="round"/>
<line x1="849.7" y1="209.2" x2="852.6" y2="208.0" stroke="#18bff9" stroke-width="6.3" stroke-linecap="round"/>
<line x1="852.6" y1="208.0" x2="855.5" y2="206.9" stroke="#18bff9" stroke-width="6.3" stroke-linecap="round"/>
<line x1="855.5" y1="206.9" x2="858.7" y2="206.7" stroke="#18c0f9" stroke-width="6.3" stroke-linecap="round"/>
<line x1="858.7" y1="206.7" x2="862.0" y2="206.5" stroke="#18c3f9" stroke-width="6.3" stroke-linecap="round"/>
<line x1="862.0" y1="206.5" x2="865.2" y2="206.3" stroke="#18c6f9" stroke-width="6.3" stroke-linecap="round"/>
<line x1="865.2" y1="206.3" x2="868.2" y2="207.8" stroke="#18c8f9" stroke-width="6.3" stroke-linecap="round"/>
<line x1="868.2" y1="207.8" x2="871.1" y2="209.2" stroke="#18c8f9" stroke-width="6.3" stroke-linecap="round"/>
<line x1="871.1" y1="209.2" x2="874.3" y2="211.1" stroke="#18c9f9" stroke-width="6.3" stroke-linecap="round"/>
<line x1="874.3" y1="211.1" x2="877.6" y2="213.1" stroke="#18ccf9" stroke-width="6.3" stroke-linecap="round"/>
<line x1="877.6" y1="213.1" x2="880.8" y2="215.0" stroke="#18cff9" stroke-width="6.3" stroke-linecap="round"/>
<line x1="880.8" y1="215.0" x2="883.7" y2="212.6" stroke="#18d0f9" stroke-width="6.3" stroke-linecap="round"/>
<line x1="883.7" y1="212.6" x2="886.6" y2="210.2" stroke="#18d0f9" stroke-width="6.3" stroke-linecap="round"/>
<line x1="886.6" y1="210.2" x2="889.8" y2="211.2" stroke="#18d2f9" stroke-width="6.3" stroke-linecap="round"/>
<line x1="889.8" y1="211.2" x2="893.1" y2="212.1" stroke="#18d5f9" stroke-width="6.3" stroke-linecap="round"/>
<line x1="893.1" y1="212.1" x2="896.3" y2="213.1" stroke="#18d8f9" stroke-width="6.3" stroke-linecap="round"/>
<line x1="896.3" y1="213.1" x2="900.2" y2="211.1" stroke="#18dcf9" stroke-width="6.3" stroke-linecap="round"/>
<line x1="900.2" y1="211.1" x2="904.1" y2="209.2" stroke="#18e0f9" stroke-width="6.3" stroke-linecap="round"/>
<line x1="904.1" y1="209.2" x2="907.3" y2="206.9" stroke="#18e4f9" stroke-width="6.3" stroke-linecap="round"/>
<line x1="907.3" y1="206.9" x2="910.6" y2="204.7" stroke="#18e7f9" stroke-width="6.3" stroke-linecap="round"/>
<line x1="910.6" y1="204.7" x2="913.8" y2="202.4" stroke="#18eaf9" stroke-width="6.3" stroke-linecap="round"/>
<line x1="913.8" y1="202.4" x2="916.4" y2="199.5" stroke="#18edf9" stroke-width="6.3" stroke-linecap="round"/>
<line x1="916.4" y1="199.5" x2="919.0" y2="196.6" stroke="#18f0f9" stroke-width="6.3" stroke-linecap="round"/>
<line x1="919.0" y1="196.6" x2="921.6" y2="193.7" stroke="#18f3f9" stroke-width="6.3" stroke-linecap="round"/>
<line x1="921.6" y1="193.7" x2="922.8" y2="190.8" stroke="#18f6f9" stroke-width="6.3" stroke-linecap="round"/>
<line x1="922.8" y1="190.8" x2="924.0" y2="187.8" stroke="#18f8f9" stroke-width="6.3" stroke-linecap="round"/>
<line x1="924.0" y1="187.8" x2="925.2" y2="184.9" stroke="#1af9f8" stroke-width="6.3" stroke-linecap="round"/>
<line x1="925.2" y1="184.9" x2="926.4" y2="182.0" stroke="#1cf9f6" stroke-width="6.3" stroke-linecap="round"/>
<line x1="926.4" y1="182.0" x2="927.2" y2="178.9" stroke="#1ff9f3" stroke-width="6.3" stroke-linecap="round"/>
<line x1="927.2" y1="178.9" x2="928.0" y2="175.8" stroke="#22f9ef" stroke-width="6.3" stroke-linecap="round"/>
<line x1="928.0" y1="175.8" x2="928.7" y2="172.7" stroke="#26f9eb" stroke-width="6.3" stroke-linecap="round"/>
<line x1="928.7" y1="172.7" x2="929.5" y2="169.6" stroke="#2af9e8" stroke-width="6.3" stroke-linecap="round"/>
<line x1="929.5" y1="169.6" x2="930.3" y2="166.5" stroke="#2df9e4" stroke-width="6.3" stroke-linecap="round"/>
<line x1="930.3" y1="166.5" x2="931.1" y2="163.6" stroke="#31f9e0" stroke-width="6.3" stroke-linecap="round"/>
<line x1="931.1" y1="163.6" x2="931.9" y2="160.7" stroke="#36f9dc" stroke-width="6.3" stroke-linecap="round"/>
<line x1="931.9" y1="160.7" x2="932.7" y2="157.8" stroke="#3af9d7" stroke-width="6.3" stroke-linecap="round"/>
<line x1="932.7" y1="157.8" x2="933.5" y2="154.8" stroke="#3ff9d3" stroke-width="6.3" stroke-linecap="round"/>
<line x1="933.5" y1="154.8" x2="934.3" y2="151.9" stroke="#43f9ce" stroke-width="6.3" stroke-linecap="round"/>
<line x1="934.3" y1="151.9" x2="935.1" y2="149.0" stroke="#48f9ca" stroke-width="6.3" stroke-linecap="round"/>
<line x1="935.1" y1="149.0" x2="937.0" y2="145.6" stroke="#51f9c1" stroke-width="6.3" stroke-linecap="round"/>
<line x1="937.0" y1="145.6" x2="939.0" y2="142.2" stroke="#5ef9b3" stroke-width="6.3" stroke-linecap="round"/>
<line x1="939.0" y1="142.2" x2="942.0" y2="140.8" stroke="#69f9a8" stroke-width="6.3" stroke-linecap="round"/>
<line x1="942.0" y1="140.8" x2="944.9" y2="139.3" stroke="#72f99f" stroke-width="6.3" stroke-linecap="round"/>
<line x1="944.9" y1="139.3" x2="945.9" y2="143.2" stroke="#7af998" stroke-width="6.3" stroke-linecap="round"/>
<line x1="945.9" y1="143.2" x2="946.8" y2="147.0" stroke="#80f992" stroke-width="6.3" stroke-linecap="round"/>
<line x1="946.8" y1="147.0" x2="947.8" y2="150.9" stroke="#86f98c" stroke-width="6.3" stroke-linecap="round"/>
<line x1="947.8" y1="150.9" x2="948.8" y2="153.8" stroke="#8cf985" stroke-width="6.3" stroke-linecap="round"/>
<line x1="948.8" y1="153.8" x2="949.8" y2="156.8" stroke="#93f97f" stroke-width="6.3" stroke-linecap="round"/>
<line x1="949.8" y1="156.8" x2="950.7" y2="159.7" stroke="#9af978" stroke-width="6.3" stroke-linecap="round"/>
<line x1="950.7" y1="159.7" x2="951.7" y2="162.6" stroke="#a0f971" stroke-width="6.3" stroke-linecap="round"/>
<line x1="951.7" y1="162.6" x2="954.1" y2="164.6" stroke="#a6f96c" stroke-width="6.3" stroke-linecap="round"/>
<line x1="954.1" y1="164.6" x2="956.5" y2="166.5" stroke="#aaf967" stroke-width="6.3" stroke-linecap="round"/>
<line x1="956.5" y1="166.5" x2="958.4" y2="169.4" stroke="#aef963" stroke-width="6.3" stroke-linecap="round"/>
<line x1="958.4" y1="169.4" x2="960.4" y2="172.3" stroke="#b1f960" stroke-width="6.3" stroke-linecap="round"/>
<line x1="960.4" y1="172.3" x2="962.3" y2="175.2" stroke="#b4f95d" stroke-width="6.3" stroke-linecap="round"/>
<line x1="962.3" y1="175.2" x2="968.2" y2="174.2" stroke="#baf957" stroke-width="6.3" stroke-linecap="round"/>
<line x1="968.2" y1="174.2" x2="970.8" y2="171.3" stroke="#c2f950" stroke-width="6.3" stroke-linecap="round"/>
<line x1="970.8" y1="171.3" x2="973.3" y2="168.4" stroke="#c8f94a" stroke-width="6.3" stroke-linecap="round"/>
<line x1="973.3" y1="168.4" x2="975.9" y2="165.5" stroke="#cdf944" stroke-width="6.3" stroke-linecap="round"/>
<line x1="975.9" y1="165.5" x2="977.4" y2="162.1" stroke="#d3f93f" stroke-width="6.3" stroke-linecap="round"/>
<line x1="977.4" y1="162.1" x2="978.8" y2="158.7" stroke="#d7f93a" stroke-width="6.3" stroke-linecap="round"/>
<line x1="978.8" y1="158.7" x2="980.2" y2="155.3" stroke="#dcf936" stroke-width="6.3" stroke-linecap="round"/>
<line x1="980.2" y1="155.3" x2="981.7" y2="151.9" stroke="#e0f931" stroke-width="6.3" stroke-linecap="round"/>
<line x1="981.7" y1="151.9" x2="982.9" y2="155.0" stroke="#e4f92d" stroke-width="6.3" stroke-linecap="round"/>
<line x1="982.9" y1="155.0" x2="984.1" y2="158.1" stroke="#e8f92a" stroke-width="6.3" stroke-linecap="round"/>
<line x1="984.1" y1="158.1" x2="985.2" y2="161.2" stroke="#ebf926" stroke-width="6.3" stroke-linecap="round"/>
<line x1="985.2" y1="161.2" x2="986.4" y2="164.3" stroke="#eff922" stroke-width="6.3" stroke-linecap="round"/>
<line x1="986.4" y1="164.3" x2="987.6" y2="167.4" stroke="#f3f91f" stroke-width="6.3" stroke-linecap="round"/>
<line x1="987.6" y1="167.4" x2="991.5" y2="166.4" stroke="#f7f91b" stroke-width="6.3" stroke-linecap="round"/>
<line x1="991.5" y1="166.4" x2="995.3" y2="165.5" stroke="#f9f718" stroke-width="6.3" stroke-linecap="round"/>
<line x1="995.3" y1="165.5" x2="1000.0" y2="163.6" stroke="#f9f418" stroke-width="6.3" stroke-linecap="round"/>
<line x1="1000.0" y1="163.6" x2="1001.6" y2="160.2" stroke="#f9ee18" stroke-width="6.3" stroke-linecap="round"/>
<line x1="1001.6" y1="160.2" x2="1003.3" y2="156.8" stroke="#f9e018" stroke-width="6.3" stroke-linecap="round"/>
<line x1="1003.3" y1="156.8" x2="1006.2" y2="154.3" stroke="#f9d318" stroke-width="6.3" stroke-linecap="round"/>
<line x1="1006.2" y1="154.3" x2="1009.2" y2="151.9" stroke="#f9c518" stroke-width="6.3" stroke-linecap="round"/>
<line x1="1009.2" y1="151.9" x2="1011.6" y2="149.5" stroke="#f9ba18" stroke-width="6.3" stroke-linecap="round"/>
<line x1="1011.6" y1="149.5" x2="1014.0" y2="147.1" stroke="#f9b118" stroke-width="6.3" stroke-linecap="round"/>
<line x1="1014.0" y1="147.1" x2="1014.6" y2="150.3" stroke="#f9a918" stroke-width="6.3" stroke-linecap="round"/>
<line x1="1014.6" y1="150.3" x2="1015.3" y2="153.6" stroke="#f9a118" stroke-width="6.3" stroke-linecap="round"/>
<line x1="1015.3" y1="153.6" x2="1016.0" y2="156.8" stroke="#f99a18" stroke-width="6.3" stroke-linecap="round"/>
<line x1="1016.0" y1="156.8" x2="1016.6" y2="160.0" stroke="#f99218" stroke-width="6.3" stroke-linecap="round"/>
<line x1="1016.6" y1="160.0" x2="1017.2" y2="163.3" stroke="#f98b18" stroke-width="6.3" stroke-linecap="round"/>
<line x1="1017.2" y1="163.3" x2="1017.9" y2="166.5" stroke="#f98318" stroke-width="6.3" stroke-linecap="round"/>
<line x1="1017.9" y1="166.5" x2="1018.9" y2="169.9" stroke="#f97d18" stroke-width="6.3" stroke-linecap="round"/>
<line x1="1018.9" y1="169.9" x2="1019.8" y2="173.3" stroke="#f97918" stroke-width="6.3" stroke-linecap="round"/>
<line x1="1019.8" y1="173.3" x2="1020.8" y2="176.7" stroke="#f97418" stroke-width="6.3" stroke-linecap="round"/>
<line x1="1020.8" y1="176.7" x2="1021.8" y2="180.1" stroke="#f97018" stroke-width="6.3" stroke-linecap="round"/>
<line x1="1021.8" y1="180.1" x2="1022.8" y2="183.3" stroke="#f96c18" stroke-width="6.3" stroke-linecap="round"/>
<line x1="1022.8" y1="183.3" x2="1023.8" y2="186.4" stroke="#f96718" stroke-width="6.3" stroke-linecap="round"/>
<line x1="1023.8" y1="186.4" x2="1024.7" y2="189.6" stroke="#f96318" stroke-width="6.3" stroke-linecap="round"/>
<line x1="1024.7" y1="189.6" x2="1025.7" y2="192.8" stroke="#f95e18" stroke-width="6.3" stroke-linecap="round"/>
<line x1="1025.7" y1="192.8" x2="1027.3" y2="195.7" stroke="#f95a18" stroke-width="6.3" stroke-linecap="round"/>
<line x1="1027.3" y1="195.7" x2="1028.9" y2="198.6" stroke="#f95718" stroke-width="6.3" stroke-linecap="round"/>
<line x1="1028.9" y1="198.6" x2="1030.5" y2="201.5" stroke="#f95418" stroke-width="6.3" stroke-linecap="round"/>
<line x1="1030.5" y1="201.5" x2="1031.3" y2="204.4" stroke="#f95418" stroke-width="6.3" stroke-linecap="round"/>
<line x1="1031.3" y1="204.4" x2="1032.1" y2="207.3" stroke="#f95718" stroke-width="6.3" stroke-linecap="round"/>
<line x1="1032.1" y1="207.3" x2="1033.0" y2="210.2" stroke="#f95a18" stroke-width="6.3" stroke-linecap="round"/>
<line x1="1033.0" y1="210.2" x2="1033.8" y2="213.2" stroke="#f95d18" stroke-width="6.3" stroke-linecap="round"/>
<line x1="1033.8" y1="213.2" x2="1034.6" y2="216.1" stroke="#f96018" stroke-width="6.3" stroke-linecap="round"/>
<line x1="1034.6" y1="216.1" x2="1035.4" y2="219.0" stroke="#f96318" stroke-width="6.3" stroke-linecap="round"/>
<line x1="1035.4" y1="219.0" x2="1038.8" y2="216.1" stroke="#f97018" stroke-width="6.3" stroke-linecap="round"/>
<line x1="1038.8" y1="216.1" x2="1042.2" y2="213.2" stroke="#f98618" stroke-width="6.3" stroke-linecap="round"/>
<line x1="1042.2" y1="213.2" x2="1045.4" y2="211.2" stroke="#f99818" stroke-width="6.3" stroke-linecap="round"/>
<line x1="1045.4" y1="211.2" x2="1048.7" y2="209.3" stroke="#f9a418" stroke-width="6.3" stroke-linecap="round"/>
<line x1="1048.7" y1="209.3" x2="1051.9" y2="207.3" stroke="#f9b018" stroke-width="6.3" stroke-linecap="round"/>
<line x1="1051.9" y1="207.3" x2="1054.8" y2="206.7" stroke="#f9bd18" stroke-width="6.3" stroke-linecap="round"/>
<line x1="1054.8" y1="206.7" x2="1057.8" y2="206.0" stroke="#f9cc18" stroke-width="6.3" stroke-linecap="round"/>
<line x1="1057.8" y1="206.0" x2="1060.7" y2="205.4" stroke="#f9db18" stroke-width="6.3" stroke-linecap="round"/>
<line x1="1060.7" y1="205.4" x2="1063.6" y2="207.3" stroke="#f9f218" stroke-width="6.3" stroke-linecap="round"/>
<line x1="1063.6" y1="207.3" x2="1066.5" y2="209.3" stroke="#e0f931" stroke-width="6.3" stroke-linecap="round"/>
<line x1="1066.5" y1="209.3" x2="1068.8" y2="211.6" stroke="#ccf945" stroke-width="6.3" stroke-linecap="round"/>
<line x1="1068.8" y1="211.6" x2="1071.0" y2="213.8" stroke="#c3f94e" stroke-width="6.3" stroke-linecap="round"/>
<line x1="1071.0" y1="213.8" x2="1073.3" y2="216.1" stroke="#baf957" stroke-width="6.3" stroke-linecap="round"/>
<line x1="1073.3" y1="216.1" x2="1076.2" y2="214.2" stroke="#b6f95c" stroke-width="6.3" stroke-linecap="round"/>
</g>
<line x1="630" y1="209.3" x2="1077.3" y2="209.3" stroke="#111" stroke-width="1.6" stroke-dasharray="20 12.4"/>
<line x1="937.1" y1="130.4" x2="937.1" y2="233.4" stroke="#dc1e1e" stroke-width="1.6"/>
<rect x="619.5" y="21" width="458.0" height="103.3" fill="none" stroke="#262626" stroke-width="1.4"/>
<line x1="724.80" y1="21" x2="724.80" y2="25.5" stroke="#262626" stroke-width="1.3"/>
<line x1="724.80" y1="124.3" x2="724.80" y2="119.8" stroke="#262626" stroke-width="1.3"/>
<line x1="830.10" y1="21" x2="830.10" y2="25.5" stroke="#262626" stroke-width="1.3"/>
<line x1="830.10" y1="124.3" x2="830.10" y2="119.8" stroke="#262626" stroke-width="1.3"/>
<line x1="935.40" y1="21" x2="935.40" y2="25.5" stroke="#262626" stroke-width="1.3"/>
<line x1="935.40" y1="124.3" x2="935.40" y2="119.8" stroke="#262626" stroke-width="1.3"/>
<line x1="1040.70" y1="21" x2="1040.70" y2="25.5" stroke="#262626" stroke-width="1.3"/>
<line x1="1040.70" y1="124.3" x2="1040.70" y2="119.8" stroke="#262626" stroke-width="1.3"/>
<rect x="619.5" y="130.4" width="458.0" height="103.0" fill="none" stroke="#262626" stroke-width="1.4"/>
<line x1="724.80" y1="130.4" x2="724.80" y2="134.9" stroke="#262626" stroke-width="1.3"/>
<line x1="724.80" y1="233.4" x2="724.80" y2="228.9" stroke="#262626" stroke-width="1.3"/>
<line x1="830.10" y1="130.4" x2="830.10" y2="134.9" stroke="#262626" stroke-width="1.3"/>
<line x1="830.10" y1="233.4" x2="830.10" y2="228.9" stroke="#262626" stroke-width="1.3"/>
<line x1="935.40" y1="130.4" x2="935.40" y2="134.9" stroke="#262626" stroke-width="1.3"/>
<line x1="935.40" y1="233.4" x2="935.40" y2="228.9" stroke="#262626" stroke-width="1.3"/>
<line x1="1040.70" y1="130.4" x2="1040.70" y2="134.9" stroke="#262626" stroke-width="1.3"/>
<line x1="1040.70" y1="233.4" x2="1040.70" y2="228.9" stroke="#262626" stroke-width="1.3"/>
<line x1="619.5" y1="121.20" x2="624.0" y2="121.20" stroke="#262626" stroke-width="1.3"/>
<line x1="1077.5" y1="121.20" x2="1073.0" y2="121.20" stroke="#262626" stroke-width="1.3"/>
<line x1="619.5" y1="88.93" x2="624.0" y2="88.93" stroke="#262626" stroke-width="1.3"/>
<line x1="1077.5" y1="88.93" x2="1073.0" y2="88.93" stroke="#262626" stroke-width="1.3"/>
<line x1="619.5" y1="56.67" x2="624.0" y2="56.67" stroke="#262626" stroke-width="1.3"/>
<line x1="1077.5" y1="56.67" x2="1073.0" y2="56.67" stroke="#262626" stroke-width="1.3"/>
<line x1="619.5" y1="24.40" x2="624.0" y2="24.40" stroke="#262626" stroke-width="1.3"/>
<line x1="1077.5" y1="24.40" x2="1073.0" y2="24.40" stroke="#262626" stroke-width="1.3"/>
<line x1="619.5" y1="233.40" x2="624.0" y2="233.40" stroke="#262626" stroke-width="1.3"/>
<line x1="1077.5" y1="233.40" x2="1073.0" y2="233.40" stroke="#262626" stroke-width="1.3"/>
<line x1="619.5" y1="172.75" x2="624.0" y2="172.75" stroke="#262626" stroke-width="1.3"/>
<line x1="1077.5" y1="172.75" x2="1073.0" y2="172.75" stroke="#262626" stroke-width="1.3"/>
<text x="610.3" y="128.4" font-family='"Liberation Sans", sans-serif' font-size="20" text-anchor="end" >0</text>
<text x="610.3" y="96.1" font-family='"Liberation Sans", sans-serif' font-size="20" text-anchor="end" >100</text>
<text x="610.3" y="63.9" font-family='"Liberation Sans", sans-serif' font-size="20" text-anchor="end" >200</text>
<text x="610.3" y="31.6" font-family='"Liberation Sans", sans-serif' font-size="20" text-anchor="end" >300</text>
<text x="610.3" y="240.6" font-family='"Liberation Sans", sans-serif' font-size="20" text-anchor="end" >0</text>
<text x="610.3" y="179.9" font-family='"Liberation Sans", sans-serif' font-size="20" text-anchor="end" >5</text>
<text x="619.5" y="261.0" font-family='"Liberation Sans", sans-serif' font-size="20" text-anchor="middle" >0</text>
<text x="724.8" y="261.0" font-family='"Liberation Sans", sans-serif' font-size="20" text-anchor="middle" >100</text>
<text x="830.1" y="261.0" font-family='"Liberation Sans", sans-serif' font-size="20" text-anchor="middle" >200</text>
<text x="935.4" y="261.0" font-family='"Liberation Sans", sans-serif' font-size="20" text-anchor="middle" >300</text>
<text x="1040.7" y="261.0" font-family='"Liberation Sans", sans-serif' font-size="20" text-anchor="middle" >400</text>
<text transform="translate(564.8,72.5) rotate(-90)" font-family='"Liberation Serif", serif' font-size="21" text-anchor="middle" letter-spacing="0.6">FHR (bpm)</text>
<text transform="translate(563.1,182) rotate(-90)" font-family='"Liberation Serif", serif' font-size="21" text-anchor="middle" letter-spacing="0.6">Distance</text>
<text x="848.5" y="287.6" font-family='"Liberation Serif", serif' font-size="21" text-anchor="middle" letter-spacing="0.6">Time (min)</text>
<text x="848.5" y="17.3" font-family='"Liberation Serif", serif' font-size="20.5" text-anchor="middle" letter-spacing="0.4">Normoxic</text>
<text x="651.1" y="42.0" font-family='"Liberation Serif", serif' font-size="20" text-anchor="start" >e)</text>
<text x="651.1" y="155.0" font-family='"Liberation Serif", serif' font-size="20" text-anchor="start" >f)</text>
<defs><linearGradient id="cb0" x1="0" x2="1" y1="0" y2="0"><stop offset="0.0000" stop-color="#1889f9"/><stop offset="0.0167" stop-color="#1894f9"/><stop offset="0.0333" stop-color="#189ff9"/><stop offset="0.0500" stop-color="#18aaf9"/><stop offset="0.0667" stop-color="#18b6f9"/><stop offset="0.0833" stop-color="#18c1f9"/><stop offset="0.1000" stop-color="#18ccf9"/><stop offset="0.1167" stop-color="#18d7f9"/><stop offset="0.1333" stop-color="#18e2f9"/><stop offset="0.1500" stop-color="#18eef9"/><stop offset="0.1667" stop-color="#18f9f9"/><stop offset="0.1833" stop-color="#24f9ee"/><stop offset="0.2000" stop-color="#2ff9e2"/><stop offset="0.2167" stop-color="#3af9d7"/><stop offset="0.2333" stop-color="#45f9cc"/><stop offset="0.2500" stop-color="#51f9c1"/><stop offset="0.2667" stop-color="#5cf9b6"/><stop offset="0.2833" stop-color="#67f9aa"/><stop offset="0.3000" stop-color="#72f99f"/><stop offset="0.3167" stop-color="#7df994"/><stop offset="0.3333" stop-color="#89f989"/><stop offset="0.3500" stop-color="#94f97d"/><stop offset="0.3667" stop-color="#9ff972"/><stop offset="0.3833" stop-color="#aaf967"/><stop offset="0.4000" stop-color="#b6f95c"/><stop offset="0.4167" stop-color="#c1f951"/><stop offset="0.4333" stop-color="#ccf945"/><stop offset="0.4500" stop-color="#d7f93a"/><stop offset="0.4667" stop-color="#e2f92f"/><stop offset="0.4833" stop-color="#eef924"/><stop offset="0.5000" stop-color="#f9f918"/><stop offset="0.5167" stop-color="#f9ee18"/><stop offset="0.5333" stop-color="#f9e218"/><stop offset="0.5500" stop-color="#f9d718"/><stop offset="0.5667" stop-color="#f9cc18"/><stop offset="0.5833" stop-color="#f9c118"/><stop offset="0.6000" stop-color="#f9b618"/><stop offset="0.6167" stop-color="#f9aa18"/><stop offset="0.6333" stop-color="#f99f18"/><stop offset="0.6500" stop-color="#f99418"/><stop offset="0.6667" stop-color="#f98918"/><stop offset="0.6833" stop-color="#f97d18"/><stop offset="0.7000" stop-color="#f97218"/><stop offset="0.7167" stop-color="#f96718"/><stop offset="0.7333" stop-color="#f95c18"/><stop offset="0.7500" stop-color="#f95118"/><stop offset="0.7667" stop-color="#f94518"/><stop offset="0.7833" stop-color="#f93a18"/><stop offset="0.8000" stop-color="#f92f18"/><stop offset="0.8167" stop-color="#f92418"/><stop offset="0.8333" stop-color="#f91818"/><stop offset="0.8500" stop-color="#ee1818"/><stop offset="0.8667" stop-color="#e21818"/><stop offset="0.8833" stop-color="#d71818"/><stop offset="0.9000" stop-color="#cc1818"/><stop offset="0.9167" stop-color="#c11818"/><stop offset="0.9333" stop-color="#b61818"/><stop offset="0.9500" stop-color="#aa1818"/><stop offset="0.9667" stop-color="#9f1818"/><stop offset="0.9833" stop-color="#941818"/><stop offset="1.0000" stop-color="#891818"/></linearGradient></defs>
<rect x="61.2" y="317.2" width="468.9" height="12.8" fill="url(#cb0)" stroke="#333" stroke-width="1"/>
<line x1="66.0" y1="317.2" x2="66.0" y2="320.7" stroke="#222" stroke-width="1"/>
<line x1="66.0" y1="330" x2="66.0" y2="326.5" stroke="#222" stroke-width="1"/>
<text x="66.0" y="307.0" font-family='"Liberation Sans", sans-serif' font-size="15.5" text-anchor="middle" >7.4</text>
<line x1="219.2" y1="317.2" x2="219.2" y2="320.7" stroke="#222" stroke-width="1"/>
<line x1="219.2" y1="330" x2="219.2" y2="326.5" stroke="#222" stroke-width="1"/>
<text x="219.2" y="307.0" font-family='"Liberation Sans", sans-serif' font-size="15.5" text-anchor="middle" >7.2</text>
<line x1="372.4" y1="317.2" x2="372.4" y2="320.7" stroke="#222" stroke-width="1"/>
<line x1="372.4" y1="330" x2="372.4" y2="326.5" stroke="#222" stroke-width="1"/>
<text x="372.4" y="307.0" font-family='"Liberation Sans", sans-serif' font-size="15.5" text-anchor="middle" >7</text>
<line x1="525.6" y1="317.2" x2="525.6" y2="320.7" stroke="#222" stroke-width="1"/>
<line x1="525.6" y1="330" x2="525.6" y2="326.5" stroke="#222" stroke-width="1"/>
<text x="525.6" y="307.0" font-family='"Liberation Sans", sans-serif' font-size="15.5" text-anchor="middle" >6.8</text>
<text x="306.0" y="314.0" font-family='"Liberation Serif", serif' font-size="16" text-anchor="middle" >pH</text>
<defs><linearGradient id="cb544" x1="0" x2="1" y1="0" y2="0"><stop offset="0.0000" stop-color="#1889f9"/><stop offset="0.0167" stop-color="#1894f9"/><stop offset="0.0333" stop-color="#189ff9"/><stop offset="0.0500" stop-color="#18aaf9"/><stop offset="0.0667" stop-color="#18b6f9"/><stop offset="0.0833" stop-color="#18c1f9"/><stop offset="0.1000" stop-color="#18ccf9"/><stop offset="0.1167" stop-color="#18d7f9"/><stop offset="0.1333" stop-color="#18e2f9"/><stop offset="0.1500" stop-color="#18eef9"/><stop offset="0.1667" stop-color="#18f9f9"/><stop offset="0.1833" stop-color="#24f9ee"/><stop offset="0.2000" stop-color="#2ff9e2"/><stop offset="0.2167" stop-color="#3af9d7"/><stop offset="0.2333" stop-color="#45f9cc"/><stop offset="0.2500" stop-color="#51f9c1"/><stop offset="0.2667" stop-color="#5cf9b6"/><stop offset="0.2833" stop-color="#67f9aa"/><stop offset="0.3000" stop-color="#72f99f"/><stop offset="0.3167" stop-color="#7df994"/><stop offset="0.3333" stop-color="#89f989"/><stop offset="0.3500" stop-color="#94f97d"/><stop offset="0.3667" stop-color="#9ff972"/><stop offset="0.3833" stop-color="#aaf967"/><stop offset="0.4000" stop-color="#b6f95c"/><stop offset="0.4167" stop-color="#c1f951"/><stop offset="0.4333" stop-color="#ccf945"/><stop offset="0.4500" stop-color="#d7f93a"/><stop offset="0.4667" stop-color="#e2f92f"/><stop offset="0.4833" stop-color="#eef924"/><stop offset="0.5000" stop-color="#f9f918"/><stop offset="0.5167" stop-color="#f9ee18"/><stop offset="0.5333" stop-color="#f9e218"/><stop offset="0.5500" stop-color="#f9d718"/><stop offset="0.5667" stop-color="#f9cc18"/><stop offset="0.5833" stop-color="#f9c118"/><stop offset="0.6000" stop-color="#f9b618"/><stop offset="0.6167" stop-color="#f9aa18"/><stop offset="0.6333" stop-color="#f99f18"/><stop offset="0.6500" stop-color="#f99418"/><stop offset="0.6667" stop-color="#f98918"/><stop offset="0.6833" stop-color="#f97d18"/><stop offset="0.7000" stop-color="#f97218"/><stop offset="0.7167" stop-color="#f96718"/><stop offset="0.7333" stop-color="#f95c18"/><stop offset="0.7500" stop-color="#f95118"/><stop offset="0.7667" stop-color="#f94518"/><stop offset="0.7833" stop-color="#f93a18"/><stop offset="0.8000" stop-color="#f92f18"/><stop offset="0.8167" stop-color="#f92418"/><stop offset="0.8333" stop-color="#f91818"/><stop offset="0.8500" stop-color="#ee1818"/><stop offset="0.8667" stop-color="#e21818"/><stop offset="0.8833" stop-color="#d71818"/><stop offset="0.9000" stop-color="#cc1818"/><stop offset="0.9167" stop-color="#c11818"/><stop offset="0.9333" stop-color="#b61818"/><stop offset="0.9500" stop-color="#aa1818"/><stop offset="0.9667" stop-color="#9f1818"/><stop offset="0.9833" stop-color="#941818"/><stop offset="1.0000" stop-color="#891818"/></linearGradient></defs>
<rect x="605.7" y="317.2" width="468.9" height="12.8" fill="url(#cb544)" stroke="#333" stroke-width="1"/>
<line x1="610.5" y1="317.2" x2="610.5" y2="320.7" stroke="#222" stroke-width="1"/>
<line x1="610.5" y1="330" x2="610.5" y2="326.5" stroke="#222" stroke-width="1"/>
<text x="610.5" y="307.0" font-family='"Liberation Sans", sans-serif' font-size="15.5" text-anchor="middle" >7.4</text>
<line x1="763.7" y1="317.2" x2="763.7" y2="320.7" stroke="#222" stroke-width="1"/>
<line x1="763.7" y1="330" x2="763.7" y2="326.5" stroke="#222" stroke-width="1"/>
<text x="763.7" y="307.0" font-family='"Liberation Sans", sans-serif' font-size="15.5" text-anchor="middle" >7.2</text>
<line x1="916.9" y1="317.2" x2="916.9" y2="320.7" stroke="#222" stroke-width="1"/>
<line x1="916.9" y1="330" x2="916.9" y2="326.5" stroke="#222" stroke-width="1"/>
<text x="916.9" y="307.0" font-family='"Liberation Sans", sans-serif' font-size="15.5" text-anchor="middle" >7</text>
<line x1="1070.1" y1="317.2" x2="1070.1" y2="320.7" stroke="#222" stroke-width="1"/>
<line x1="1070.1" y1="330" x2="1070.1" y2="326.5" stroke="#222" stroke-width="1"/>
<text x="1070.1" y="307.0" font-family='"Liberation Sans", sans-serif' font-size="15.5" text-anchor="middle" >6.8</text>
<text x="850.5" y="314.0" font-family='"Liberation Serif", serif' font-size="16" text-anchor="middle" >pH</text>
<line x1="94.58" y1="338.0" x2="94.58" y2="538.9" stroke="#e6e6e6" stroke-width="1.2"/>
<line x1="61.3" y1="505.42" x2="261.0" y2="505.42" stroke="#e6e6e6" stroke-width="1.2"/>
<line x1="127.87" y1="338.0" x2="127.87" y2="538.9" stroke="#e6e6e6" stroke-width="1.2"/>
<line x1="61.3" y1="471.93" x2="261.0" y2="471.93" stroke="#e6e6e6" stroke-width="1.2"/>
<line x1="161.15" y1="338.0" x2="161.15" y2="538.9" stroke="#e6e6e6" stroke-width="1.2"/>
<line x1="61.3" y1="438.45" x2="261.0" y2="438.45" stroke="#e6e6e6" stroke-width="1.2"/>
<line x1="194.43" y1="338.0" x2="194.43" y2="538.9" stroke="#e6e6e6" stroke-width="1.2"/>
<line x1="61.3" y1="404.97" x2="261.0" y2="404.97" stroke="#e6e6e6" stroke-width="1.2"/>
<line x1="227.72" y1="338.0" x2="227.72" y2="538.9" stroke="#e6e6e6" stroke-width="1.2"/>
<line x1="61.3" y1="371.48" x2="261.0" y2="371.48" stroke="#e6e6e6" stroke-width="1.2"/>
<polygon points="156.2,432.8 160.3,428.8 165.7,427.4 172.4,430.1 176.5,434.9 177.2,441.6 179.9,445.0 180.5,449.7 177.8,451.1 175.1,446.4 172.4,442.3 169.7,445.7 167.0,447.0 165.0,444.3 163.0,443.6 158.9,444.3 156.9,441.6 155.5,437.6" fill="#18def9" stroke="#18def9" stroke-width="1.2" stroke-linejoin="round"/>
<line x1="161.5" y1="444.0" x2="162.0" y2="448.0" stroke="#18e7f9" stroke-width="8" stroke-linecap="round"/>
<line x1="162.0" y1="448.0" x2="162.5" y2="452.0" stroke="#18f0f9" stroke-width="8" stroke-linecap="round"/>
<line x1="162.5" y1="452.0" x2="162.0" y2="456.0" stroke="#18f9f9" stroke-width="8" stroke-linecap="round"/>
<line x1="162.0" y1="456.0" x2="161.5" y2="460.0" stroke="#21f9f0" stroke-width="8" stroke-linecap="round"/>
<line x1="161.5" y1="460.0" x2="162.0" y2="463.5" stroke="#2af9e7" stroke-width="8" stroke-linecap="round"/>
<line x1="162.0" y1="463.5" x2="162.5" y2="467.0" stroke="#33f9de" stroke-width="8" stroke-linecap="round"/>
<line x1="162.5" y1="467.0" x2="162.5" y2="472.0" stroke="#41f9d0" stroke-width="8" stroke-linecap="round"/>
<line x1="164.5" y1="473.5" x2="160.9" y2="474.0" stroke="#4df9c4" stroke-width="5.5" stroke-linecap="round"/>
<line x1="160.9" y1="474.0" x2="157.2" y2="474.5" stroke="#54f9bd" stroke-width="5.5" stroke-linecap="round"/>
<line x1="157.2" y1="474.5" x2="153.6" y2="475.0" stroke="#5bf9b7" stroke-width="5.5" stroke-linecap="round"/>
<line x1="153.6" y1="475.0" x2="150.0" y2="475.5" stroke="#61f9b0" stroke-width="5.5" stroke-linecap="round"/>
<line x1="150.0" y1="475.5" x2="147.0" y2="476.0" stroke="#67f9aa" stroke-width="5.5" stroke-linecap="round"/>
<line x1="147.0" y1="476.0" x2="144.0" y2="476.5" stroke="#6df9a5" stroke-width="5.5" stroke-linecap="round"/>
<line x1="144.0" y1="476.5" x2="141.0" y2="477.0" stroke="#72f99f" stroke-width="5.5" stroke-linecap="round"/>
<line x1="141.0" y1="477.0" x2="138.0" y2="477.5" stroke="#78f99a" stroke-width="5.5" stroke-linecap="round"/>
<line x1="138.0" y1="477.5" x2="135.0" y2="478.0" stroke="#7df994" stroke-width="5.5" stroke-linecap="round"/>
<line x1="135.0" y1="478.0" x2="131.8" y2="478.6" stroke="#84f98d" stroke-width="5.5" stroke-linecap="round"/>
<line x1="131.8" y1="478.6" x2="128.5" y2="479.2" stroke="#8df984" stroke-width="5.5" stroke-linecap="round"/>
<line x1="128.5" y1="479.2" x2="125.2" y2="479.9" stroke="#96f97b" stroke-width="5.5" stroke-linecap="round"/>
<line x1="125.2" y1="479.9" x2="122.0" y2="480.5" stroke="#9ff972" stroke-width="5.5" stroke-linecap="round"/>
<line x1="122.0" y1="480.5" x2="118.2" y2="481.2" stroke="#aaf967" stroke-width="5.5" stroke-linecap="round"/>
<line x1="118.2" y1="481.2" x2="114.5" y2="482.0" stroke="#b8f95a" stroke-width="5.5" stroke-linecap="round"/>
<line x1="105.0" y1="486.2" x2="108.5" y2="486.9" stroke="#f4f91d" stroke-width="4" stroke-linecap="round"/>
<line x1="108.5" y1="486.9" x2="112.0" y2="487.5" stroke="#f4f91d" stroke-width="4" stroke-linecap="round"/>
<line x1="104.0" y1="483.5" x2="107.0" y2="483.5" stroke="#f9a118" stroke-width="6" stroke-linecap="round"/>
<line x1="107.0" y1="483.5" x2="110.0" y2="483.5" stroke="#f99c18" stroke-width="6" stroke-linecap="round"/>
<line x1="110.0" y1="483.5" x2="113.0" y2="483.5" stroke="#f99718" stroke-width="6" stroke-linecap="round"/>
<line x1="113.0" y1="483.5" x2="116.0" y2="483.6" stroke="#f99218" stroke-width="6" stroke-linecap="round"/>
<line x1="116.0" y1="483.6" x2="119.0" y2="483.6" stroke="#f98d18" stroke-width="6" stroke-linecap="round"/>
<line x1="119.0" y1="483.6" x2="122.0" y2="483.6" stroke="#f98718" stroke-width="6" stroke-linecap="round"/>
<line x1="122.0" y1="483.6" x2="125.0" y2="483.6" stroke="#f98218" stroke-width="6" stroke-linecap="round"/>
<line x1="125.0" y1="483.6" x2="128.2" y2="483.6" stroke="#f97c18" stroke-width="6" stroke-linecap="round"/>
<line x1="128.2" y1="483.6" x2="131.3" y2="483.6" stroke="#f97418" stroke-width="6" stroke-linecap="round"/>
<line x1="131.3" y1="483.6" x2="134.5" y2="483.6" stroke="#f96d18" stroke-width="6" stroke-linecap="round"/>
<line x1="134.5" y1="483.6" x2="137.7" y2="483.7" stroke="#f96618" stroke-width="6" stroke-linecap="round"/>
<line x1="137.7" y1="483.7" x2="140.8" y2="483.7" stroke="#f95e18" stroke-width="6" stroke-linecap="round"/>
<line x1="140.8" y1="483.7" x2="144.0" y2="483.7" stroke="#f95718" stroke-width="6" stroke-linecap="round"/>
<circle cx="161.15" cy="438.45" r="33.28" fill="none" stroke="#000" stroke-width="2.6"/>
<circle cx="161.15" cy="438.45" r="16.64" fill="none" stroke="#555" stroke-width="2"/>
<circle cx="161.15" cy="438.45" r="5.4" fill="#000"/>
<rect x="61.3" y="338.0" width="199.7" height="200.9" fill="none" stroke="#262626" stroke-width="1.4"/>
<line x1="94.58" y1="338.0" x2="94.58" y2="341.0" stroke="#262626" stroke-width="1.2"/>
<line x1="94.58" y1="538.9" x2="94.58" y2="535.9" stroke="#262626" stroke-width="1.2"/>
<line x1="61.3" y1="505.42" x2="64.3" y2="505.42" stroke="#262626" stroke-width="1.2"/>
<line x1="261.0" y1="505.42" x2="258.0" y2="505.42" stroke="#262626" stroke-width="1.2"/>
<line x1="127.87" y1="338.0" x2="127.87" y2="341.0" stroke="#262626" stroke-width="1.2"/>
<line x1="127.87" y1="538.9" x2="127.87" y2="535.9" stroke="#262626" stroke-width="1.2"/>
<line x1="61.3" y1="471.93" x2="64.3" y2="471.93" stroke="#262626" stroke-width="1.2"/>
<line x1="261.0" y1="471.93" x2="258.0" y2="471.93" stroke="#262626" stroke-width="1.2"/>
<line x1="161.15" y1="338.0" x2="161.15" y2="341.0" stroke="#262626" stroke-width="1.2"/>
<line x1="161.15" y1="538.9" x2="161.15" y2="535.9" stroke="#262626" stroke-width="1.2"/>
<line x1="61.3" y1="438.45" x2="64.3" y2="438.45" stroke="#262626" stroke-width="1.2"/>
<line x1="261.0" y1="438.45" x2="258.0" y2="438.45" stroke="#262626" stroke-width="1.2"/>
<line x1="194.43" y1="338.0" x2="194.43" y2="341.0" stroke="#262626" stroke-width="1.2"/>
<line x1="194.43" y1="538.9" x2="194.43" y2="535.9" stroke="#262626" stroke-width="1.2"/>
<line x1="61.3" y1="404.97" x2="64.3" y2="404.97" stroke="#262626" stroke-width="1.2"/>
<line x1="261.0" y1="404.97" x2="258.0" y2="404.97" stroke="#262626" stroke-width="1.2"/>
<line x1="227.72" y1="338.0" x2="227.72" y2="341.0" stroke="#262626" stroke-width="1.2"/>
<line x1="227.72" y1="538.9" x2="227.72" y2="535.9" stroke="#262626" stroke-width="1.2"/>
<line x1="61.3" y1="371.48" x2="64.3" y2="371.48" stroke="#262626" stroke-width="1.2"/>
<line x1="261.0" y1="371.48" x2="258.0" y2="371.48" stroke="#262626" stroke-width="1.2"/>
<text x="53.3" y="544.5" font-family='"Liberation Sans", sans-serif' font-size="15.5" text-anchor="end" >-6</text>
<text x="61.3" y="561.4" font-family='"Liberation Sans", sans-serif' font-size="15.5" text-anchor="middle" >-6</text>
<text x="53.3" y="511.0" font-family='"Liberation Sans", sans-serif' font-size="15.5" text-anchor="end" >-4</text>
<text x="94.6" y="561.4" font-family='"Liberation Sans", sans-serif' font-size="15.5" text-anchor="middle" >-4</text>
<text x="53.3" y="477.5" font-family='"Liberation Sans", sans-serif' font-size="15.5" text-anchor="end" >-2</text>
<text x="127.9" y="561.4" font-family='"Liberation Sans", sans-serif' font-size="15.5" text-anchor="middle" >-2</text>
<text x="53.3" y="444.1" font-family='"Liberation Sans", sans-serif' font-size="15.5" text-anchor="end" >0</text>
<text x="161.1" y="561.4" font-family='"Liberation Sans", sans-serif' font-size="15.5" text-anchor="middle" >0</text>
<text x="53.3" y="410.6" font-family='"Liberation Sans", sans-serif' font-size="15.5" text-anchor="end" >2</text>
<text x="194.4" y="561.4" font-family='"Liberation Sans", sans-serif' font-size="15.5" text-anchor="middle" >2</text>
<text x="53.3" y="377.1" font-family='"Liberation Sans", sans-serif' font-size="15.5" text-anchor="end" >4</text>
<text x="227.7" y="561.4" font-family='"Liberation Sans", sans-serif' font-size="15.5" text-anchor="middle" >4</text>
<text x="53.3" y="343.6" font-family='"Liberation Sans", sans-serif' font-size="15.5" text-anchor="end" >6</text>
<text x="261.0" y="561.4" font-family='"Liberation Sans", sans-serif' font-size="15.5" text-anchor="middle" >6</text>
<text x="78.3" y="359.5" font-family='"Liberation Serif", serif' font-size="19" text-anchor="start" >c)</text>
<text transform="translate(29.0,439.8) rotate(-90)" font-family='"Liberation Serif", serif' text-anchor="middle"><tspan font-style="italic" font-size="19">h</tspan><tspan font-size="18" dy="5.8">LT</tspan></text>
<text x="161.1" y="582" font-family='"Liberation Serif", serif' text-anchor="middle"><tspan font-style="italic" font-size="19">m</tspan><tspan font-size="18" dy="5.8">LT</tspan></text>
<line x1="361.98" y1="338.0" x2="361.98" y2="538.9" stroke="#e6e6e6" stroke-width="1.2"/>
<line x1="328.7" y1="505.42" x2="528.4" y2="505.42" stroke="#e6e6e6" stroke-width="1.2"/>
<line x1="395.27" y1="338.0" x2="395.27" y2="538.9" stroke="#e6e6e6" stroke-width="1.2"/>
<line x1="328.7" y1="471.93" x2="528.4" y2="471.93" stroke="#e6e6e6" stroke-width="1.2"/>
<line x1="428.55" y1="338.0" x2="428.55" y2="538.9" stroke="#e6e6e6" stroke-width="1.2"/>
<line x1="328.7" y1="438.45" x2="528.4" y2="438.45" stroke="#e6e6e6" stroke-width="1.2"/>
<line x1="461.83" y1="338.0" x2="461.83" y2="538.9" stroke="#e6e6e6" stroke-width="1.2"/>
<line x1="328.7" y1="404.97" x2="528.4" y2="404.97" stroke="#e6e6e6" stroke-width="1.2"/>
<line x1="495.12" y1="338.0" x2="495.12" y2="538.9" stroke="#e6e6e6" stroke-width="1.2"/>
<line x1="328.7" y1="371.48" x2="528.4" y2="371.48" stroke="#e6e6e6" stroke-width="1.2"/>
<polygon points="409.4,435.6 414.0,434.9 417.8,437.2 423.9,439.4 434.5,435.6 435.3,440.2 433.8,446.3 433.8,452.4 428.4,453.9 423.9,453.1 421.6,455.4 416.3,454.6 413.2,447.8 407.9,443.2" fill="#18def9" stroke="#18def9" stroke-width="1.2" stroke-linejoin="round"/>
<line x1="421.0" y1="454.0" x2="420.8" y2="457.7" stroke="#3bf9d6" stroke-width="6.5" stroke-linecap="round"/>
<line x1="420.8" y1="457.7" x2="420.7" y2="461.3" stroke="#41f9d0" stroke-width="6.5" stroke-linecap="round"/>
<line x1="420.7" y1="461.3" x2="420.5" y2="465.0" stroke="#47f9cb" stroke-width="6.5" stroke-linecap="round"/>
<line x1="420.5" y1="465.0" x2="420.5" y2="468.3" stroke="#4ef9c3" stroke-width="6.5" stroke-linecap="round"/>
<line x1="420.5" y1="468.3" x2="420.5" y2="471.7" stroke="#57f9ba" stroke-width="6.5" stroke-linecap="round"/>
<line x1="420.5" y1="471.7" x2="420.5" y2="475.0" stroke="#60f9b1" stroke-width="6.5" stroke-linecap="round"/>
<line x1="420.5" y1="475.0" x2="420.2" y2="478.0" stroke="#69f9a8" stroke-width="6.5" stroke-linecap="round"/>
<line x1="420.2" y1="478.0" x2="420.0" y2="481.0" stroke="#72f99f" stroke-width="6.5" stroke-linecap="round"/>
<line x1="420.0" y1="481.0" x2="419.8" y2="484.0" stroke="#7bf996" stroke-width="6.5" stroke-linecap="round"/>
<line x1="419.8" y1="484.0" x2="419.5" y2="487.0" stroke="#84f98d" stroke-width="6.5" stroke-linecap="round"/>
<line x1="419.5" y1="487.0" x2="419.2" y2="490.3" stroke="#92f980" stroke-width="6.5" stroke-linecap="round"/>
<line x1="419.2" y1="490.3" x2="418.8" y2="493.7" stroke="#a4f96e" stroke-width="6.5" stroke-linecap="round"/>
<line x1="418.8" y1="493.7" x2="418.5" y2="497.0" stroke="#b6f95c" stroke-width="6.5" stroke-linecap="round"/>
<line x1="418.5" y1="497.0" x2="418.5" y2="501.0" stroke="#c8f94a" stroke-width="6.5" stroke-linecap="round"/>
<line x1="418.5" y1="501.0" x2="418.5" y2="505.0" stroke="#d9f938" stroke-width="6.5" stroke-linecap="round"/>
<line x1="416.0" y1="507.5" x2="419.5" y2="507.5" stroke="#f9f418" stroke-width="5" stroke-linecap="round"/>
<line x1="419.5" y1="507.5" x2="423.0" y2="507.5" stroke="#f9f418" stroke-width="5" stroke-linecap="round"/>
<line x1="412.2" y1="476.5" x2="414.1" y2="479.1" stroke="#f94d18" stroke-width="5" stroke-linecap="round"/>
<line x1="414.1" y1="479.1" x2="415.9" y2="481.7" stroke="#f95318" stroke-width="5" stroke-linecap="round"/>
<line x1="415.9" y1="481.7" x2="417.8" y2="484.3" stroke="#f95918" stroke-width="5" stroke-linecap="round"/>
<line x1="417.8" y1="484.3" x2="420.1" y2="487.3" stroke="#f96018" stroke-width="5" stroke-linecap="round"/>
<line x1="420.1" y1="487.3" x2="422.3" y2="490.4" stroke="#f96918" stroke-width="5" stroke-linecap="round"/>
<line x1="422.3" y1="490.4" x2="424.6" y2="493.4" stroke="#f97218" stroke-width="5" stroke-linecap="round"/>
<line x1="424.6" y1="493.4" x2="425.9" y2="496.8" stroke="#f97a18" stroke-width="5" stroke-linecap="round"/>
<line x1="425.9" y1="496.8" x2="427.2" y2="500.2" stroke="#f98118" stroke-width="5" stroke-linecap="round"/>
<line x1="427.2" y1="500.2" x2="428.5" y2="503.6" stroke="#f98818" stroke-width="5" stroke-linecap="round"/>
<line x1="428.5" y1="503.6" x2="429.8" y2="507.0" stroke="#f98e18" stroke-width="5" stroke-linecap="round"/>
<circle cx="428.55" cy="438.45" r="33.28" fill="none" stroke="#000" stroke-width="2.6"/>
<circle cx="428.55" cy="438.45" r="16.64" fill="none" stroke="#555" stroke-width="2"/>
<circle cx="428.55" cy="438.45" r="5.4" fill="#000"/>
<rect x="328.7" y="338.0" width="199.7" height="200.9" fill="none" stroke="#262626" stroke-width="1.4"/>
<line x1="361.98" y1="338.0" x2="361.98" y2="341.0" stroke="#262626" stroke-width="1.2"/>
<line x1="361.98" y1="538.9" x2="361.98" y2="535.9" stroke="#262626" stroke-width="1.2"/>
<line x1="328.7" y1="505.42" x2="331.7" y2="505.42" stroke="#262626" stroke-width="1.2"/>
<line x1="528.4" y1="505.42" x2="525.4" y2="505.42" stroke="#262626" stroke-width="1.2"/>
<line x1="395.27" y1="338.0" x2="395.27" y2="341.0" stroke="#262626" stroke-width="1.2"/>
<line x1="395.27" y1="538.9" x2="395.27" y2="535.9" stroke="#262626" stroke-width="1.2"/>
<line x1="328.7" y1="471.93" x2="331.7" y2="471.93" stroke="#262626" stroke-width="1.2"/>
<line x1="528.4" y1="471.93" x2="525.4" y2="471.93" stroke="#262626" stroke-width="1.2"/>
<line x1="428.55" y1="338.0" x2="428.55" y2="341.0" stroke="#262626" stroke-width="1.2"/>
<line x1="428.55" y1="538.9" x2="428.55" y2="535.9" stroke="#262626" stroke-width="1.2"/>
<line x1="328.7" y1="438.45" x2="331.7" y2="438.45" stroke="#262626" stroke-width="1.2"/>
<line x1="528.4" y1="438.45" x2="525.4" y2="438.45" stroke="#262626" stroke-width="1.2"/>
<line x1="461.83" y1="338.0" x2="461.83" y2="341.0" stroke="#262626" stroke-width="1.2"/>
<line x1="461.83" y1="538.9" x2="461.83" y2="535.9" stroke="#262626" stroke-width="1.2"/>
<line x1="328.7" y1="404.97" x2="331.7" y2="404.97" stroke="#262626" stroke-width="1.2"/>
<line x1="528.4" y1="404.97" x2="525.4" y2="404.97" stroke="#262626" stroke-width="1.2"/>
<line x1="495.12" y1="338.0" x2="495.12" y2="341.0" stroke="#262626" stroke-width="1.2"/>
<line x1="495.12" y1="538.9" x2="495.12" y2="535.9" stroke="#262626" stroke-width="1.2"/>
<line x1="328.7" y1="371.48" x2="331.7" y2="371.48" stroke="#262626" stroke-width="1.2"/>
<line x1="528.4" y1="371.48" x2="525.4" y2="371.48" stroke="#262626" stroke-width="1.2"/>
<text x="320.7" y="544.5" font-family='"Liberation Sans", sans-serif' font-size="15.5" text-anchor="end" >-6</text>
<text x="328.7" y="561.4" font-family='"Liberation Sans", sans-serif' font-size="15.5" text-anchor="middle" >-6</text>
<text x="320.7" y="511.0" font-family='"Liberation Sans", sans-serif' font-size="15.5" text-anchor="end" >-4</text>
<text x="362.0" y="561.4" font-family='"Liberation Sans", sans-serif' font-size="15.5" text-anchor="middle" >-4</text>
<text x="320.7" y="477.5" font-family='"Liberation Sans", sans-serif' font-size="15.5" text-anchor="end" >-2</text>
<text x="395.3" y="561.4" font-family='"Liberation Sans", sans-serif' font-size="15.5" text-anchor="middle" >-2</text>
<text x="320.7" y="444.1" font-family='"Liberation Sans", sans-serif' font-size="15.5" text-anchor="end" >0</text>
<text x="428.5" y="561.4" font-family='"Liberation Sans", sans-serif' font-size="15.5" text-anchor="middle" >0</text>
<text x="320.7" y="410.6" font-family='"Liberation Sans", sans-serif' font-size="15.5" text-anchor="end" >2</text>
<text x="461.8" y="561.4" font-family='"Liberation Sans", sans-serif' font-size="15.5" text-anchor="middle" >2</text>
<text x="320.7" y="377.1" font-family='"Liberation Sans", sans-serif' font-size="15.5" text-anchor="end" >4</text>
<text x="495.1" y="561.4" font-family='"Liberation Sans", sans-serif' font-size="15.5" text-anchor="middle" >4</text>
<text x="320.7" y="343.6" font-family='"Liberation Sans", sans-serif' font-size="15.5" text-anchor="end" >6</text>
<text x="528.4" y="561.4" font-family='"Liberation Sans", sans-serif' font-size="15.5" text-anchor="middle" >6</text>
<text x="345.7" y="359.5" font-family='"Liberation Serif", serif' font-size="19" text-anchor="start" >d)</text>
<text transform="translate(296.4,439.8) rotate(-90)" font-family='"Liberation Serif", serif' text-anchor="middle"><tspan font-style="italic" font-size="19">R</tspan><tspan font-size="18" dy="5.8">LT</tspan></text>
<text x="428.5" y="582" font-family='"Liberation Serif", serif' text-anchor="middle"><tspan font-style="italic" font-size="19">&#963;</tspan><tspan font-size="18" dy="5.8">LT</tspan></text>
<line x1="639.08" y1="338.0" x2="639.08" y2="538.9" stroke="#e6e6e6" stroke-width="1.2"/>
<line x1="605.8" y1="505.42" x2="805.5" y2="505.42" stroke="#e6e6e6" stroke-width="1.2"/>
<line x1="672.37" y1="338.0" x2="672.37" y2="538.9" stroke="#e6e6e6" stroke-width="1.2"/>
<line x1="605.8" y1="471.93" x2="805.5" y2="471.93" stroke="#e6e6e6" stroke-width="1.2"/>
<line x1="705.65" y1="338.0" x2="705.65" y2="538.9" stroke="#e6e6e6" stroke-width="1.2"/>
<line x1="605.8" y1="438.45" x2="805.5" y2="438.45" stroke="#e6e6e6" stroke-width="1.2"/>
<line x1="738.93" y1="338.0" x2="738.93" y2="538.9" stroke="#e6e6e6" stroke-width="1.2"/>
<line x1="605.8" y1="404.97" x2="805.5" y2="404.97" stroke="#e6e6e6" stroke-width="1.2"/>
<line x1="772.22" y1="338.0" x2="772.22" y2="538.9" stroke="#e6e6e6" stroke-width="1.2"/>
<line x1="605.8" y1="371.48" x2="805.5" y2="371.48" stroke="#e6e6e6" stroke-width="1.2"/>
<line x1="699.5" y1="435.0" x2="700.0" y2="438.3" stroke="#18c0f9" stroke-width="8" stroke-linecap="round"/>
<line x1="700.0" y1="438.3" x2="700.5" y2="441.7" stroke="#18c3f9" stroke-width="8" stroke-linecap="round"/>
<line x1="700.5" y1="441.7" x2="701.0" y2="445.0" stroke="#18c6f9" stroke-width="8" stroke-linecap="round"/>
<line x1="701.0" y1="445.0" x2="701.5" y2="448.3" stroke="#18c9f9" stroke-width="8" stroke-linecap="round"/>
<line x1="701.5" y1="448.3" x2="702.0" y2="451.7" stroke="#18ccf9" stroke-width="8" stroke-linecap="round"/>
<line x1="702.0" y1="451.7" x2="702.5" y2="455.0" stroke="#18cff9" stroke-width="8" stroke-linecap="round"/>
<line x1="702.5" y1="455.0" x2="702.5" y2="458.3" stroke="#18d3f9" stroke-width="8" stroke-linecap="round"/>
<line x1="702.5" y1="458.3" x2="702.5" y2="461.7" stroke="#18d9f9" stroke-width="8" stroke-linecap="round"/>
<line x1="702.5" y1="461.7" x2="702.5" y2="465.0" stroke="#18dff9" stroke-width="8" stroke-linecap="round"/>
<line x1="702.5" y1="465.0" x2="702.0" y2="470.0" stroke="#18e7f9" stroke-width="8" stroke-linecap="round"/>
<line x1="702.0" y1="470.0" x2="699.7" y2="472.0" stroke="#18f6f9" stroke-width="6.5" stroke-linecap="round"/>
<line x1="699.7" y1="472.0" x2="697.3" y2="474.0" stroke="#18f9f9" stroke-width="6.5" stroke-linecap="round"/>
<line x1="697.3" y1="474.0" x2="695.0" y2="476.0" stroke="#1bf9f6" stroke-width="6.5" stroke-linecap="round"/>
<line x1="695.0" y1="476.0" x2="691.7" y2="477.3" stroke="#20f9f1" stroke-width="6.5" stroke-linecap="round"/>
<line x1="691.7" y1="477.3" x2="688.3" y2="478.7" stroke="#26f9eb" stroke-width="6.5" stroke-linecap="round"/>
<line x1="688.3" y1="478.7" x2="685.0" y2="480.0" stroke="#2cf9e5" stroke-width="6.5" stroke-linecap="round"/>
<line x1="685.0" y1="480.0" x2="681.8" y2="480.5" stroke="#31f9e0" stroke-width="6.5" stroke-linecap="round"/>
<line x1="681.8" y1="480.5" x2="678.5" y2="481.0" stroke="#36f9dc" stroke-width="6.5" stroke-linecap="round"/>
<line x1="678.5" y1="481.0" x2="675.2" y2="481.5" stroke="#3af9d7" stroke-width="6.5" stroke-linecap="round"/>
<line x1="675.2" y1="481.5" x2="672.0" y2="482.0" stroke="#3ff9d3" stroke-width="6.5" stroke-linecap="round"/>
<line x1="672.0" y1="482.0" x2="669.0" y2="482.2" stroke="#42f9cf" stroke-width="6.5" stroke-linecap="round"/>
<line x1="669.0" y1="482.2" x2="666.0" y2="482.5" stroke="#44f9cd" stroke-width="6.5" stroke-linecap="round"/>
<line x1="666.0" y1="482.5" x2="663.0" y2="482.8" stroke="#46f9cb" stroke-width="6.5" stroke-linecap="round"/>
<line x1="663.0" y1="482.8" x2="660.0" y2="483.0" stroke="#49f9c9" stroke-width="6.5" stroke-linecap="round"/>
<line x1="660.0" y1="483.0" x2="656.3" y2="483.3" stroke="#4df9c5" stroke-width="6.5" stroke-linecap="round"/>
<line x1="656.3" y1="483.3" x2="652.7" y2="483.7" stroke="#53f9bf" stroke-width="6.5" stroke-linecap="round"/>
<line x1="652.7" y1="483.7" x2="649.0" y2="484.0" stroke="#59f9b9" stroke-width="6.5" stroke-linecap="round"/>
<line x1="614.0" y1="491.4" x2="617.2" y2="491.2" stroke="#a5f96d" stroke-width="6.8" stroke-linecap="round"/>
<line x1="617.2" y1="491.2" x2="620.5" y2="491.1" stroke="#a7f96a" stroke-width="6.8" stroke-linecap="round"/>
<line x1="620.5" y1="491.1" x2="623.8" y2="490.9" stroke="#a9f968" stroke-width="6.8" stroke-linecap="round"/>
<line x1="623.8" y1="490.9" x2="627.0" y2="490.8" stroke="#abf966" stroke-width="6.8" stroke-linecap="round"/>
<line x1="627.0" y1="490.8" x2="630.2" y2="490.6" stroke="#aef964" stroke-width="6.8" stroke-linecap="round"/>
<line x1="630.2" y1="490.6" x2="633.5" y2="490.5" stroke="#b0f961" stroke-width="6.8" stroke-linecap="round"/>
<line x1="633.5" y1="490.5" x2="636.8" y2="490.3" stroke="#b2f95f" stroke-width="6.8" stroke-linecap="round"/>
<line x1="636.8" y1="490.3" x2="640.0" y2="490.2" stroke="#b4f95d" stroke-width="6.8" stroke-linecap="round"/>
<line x1="640.0" y1="490.2" x2="643.3" y2="490.0" stroke="#b6f95b" stroke-width="6.8" stroke-linecap="round"/>
<line x1="643.3" y1="490.0" x2="646.6" y2="489.8" stroke="#b7f95a" stroke-width="6.8" stroke-linecap="round"/>
<line x1="646.6" y1="489.8" x2="649.9" y2="489.6" stroke="#b9f959" stroke-width="6.8" stroke-linecap="round"/>
<line x1="649.9" y1="489.6" x2="653.1" y2="489.5" stroke="#baf957" stroke-width="6.8" stroke-linecap="round"/>
<line x1="653.1" y1="489.5" x2="656.4" y2="489.3" stroke="#bbf956" stroke-width="6.8" stroke-linecap="round"/>
<line x1="656.4" y1="489.3" x2="659.7" y2="489.1" stroke="#bdf955" stroke-width="6.8" stroke-linecap="round"/>
<line x1="659.7" y1="489.1" x2="663.0" y2="488.9" stroke="#bef953" stroke-width="6.8" stroke-linecap="round"/>
<line x1="626.0" y1="493.1" x2="629.0" y2="493.1" stroke="#e3f92e" stroke-width="6.8" stroke-linecap="round"/>
<line x1="629.0" y1="493.1" x2="632.0" y2="493.0" stroke="#e5f92c" stroke-width="6.8" stroke-linecap="round"/>
<line x1="632.0" y1="493.0" x2="635.0" y2="493.0" stroke="#e7f92a" stroke-width="6.8" stroke-linecap="round"/>
<line x1="635.0" y1="493.0" x2="638.0" y2="492.9" stroke="#e9f929" stroke-width="6.8" stroke-linecap="round"/>
<line x1="638.0" y1="492.9" x2="641.0" y2="492.9" stroke="#ebf927" stroke-width="6.8" stroke-linecap="round"/>
<line x1="641.0" y1="492.9" x2="644.0" y2="492.9" stroke="#ecf925" stroke-width="6.8" stroke-linecap="round"/>
<line x1="644.0" y1="492.9" x2="647.0" y2="492.8" stroke="#eef923" stroke-width="6.8" stroke-linecap="round"/>
<line x1="647.0" y1="492.8" x2="650.0" y2="492.8" stroke="#f0f921" stroke-width="6.8" stroke-linecap="round"/>
<line x1="650.0" y1="492.8" x2="653.0" y2="492.7" stroke="#f2f920" stroke-width="6.8" stroke-linecap="round"/>
<line x1="653.0" y1="492.7" x2="656.0" y2="492.7" stroke="#f3f91e" stroke-width="6.8" stroke-linecap="round"/>
<line x1="652.3" y1="490.5" x2="649.8" y2="488.3" stroke="#f9e718" stroke-width="6.8" stroke-linecap="round"/>
<line x1="649.8" y1="488.3" x2="647.2" y2="486.0" stroke="#f9de18" stroke-width="6.8" stroke-linecap="round"/>
<line x1="647.2" y1="486.0" x2="644.7" y2="483.8" stroke="#f9d518" stroke-width="6.8" stroke-linecap="round"/>
<line x1="644.7" y1="483.8" x2="641.3" y2="483.3" stroke="#f9ce18" stroke-width="6.8" stroke-linecap="round"/>
<line x1="641.3" y1="483.3" x2="637.9" y2="482.8" stroke="#f9c818" stroke-width="6.8" stroke-linecap="round"/>
<line x1="637.9" y1="482.8" x2="634.6" y2="482.3" stroke="#f9c318" stroke-width="6.8" stroke-linecap="round"/>
<line x1="634.6" y1="482.3" x2="631.2" y2="481.8" stroke="#f9be18" stroke-width="6.8" stroke-linecap="round"/>
<line x1="631.2" y1="481.8" x2="627.8" y2="481.3" stroke="#f9b818" stroke-width="6.8" stroke-linecap="round"/>
<line x1="627.8" y1="481.3" x2="625.2" y2="479.8" stroke="#f9b418" stroke-width="6.8" stroke-linecap="round"/>
<line x1="625.2" y1="479.8" x2="622.5" y2="478.2" stroke="#f9b118" stroke-width="6.8" stroke-linecap="round"/>
<line x1="622.5" y1="478.2" x2="619.9" y2="476.6" stroke="#f9ae18" stroke-width="6.8" stroke-linecap="round"/>
<line x1="619.9" y1="476.6" x2="617.3" y2="475.1" stroke="#f9ab18" stroke-width="6.8" stroke-linecap="round"/>
<line x1="617.3" y1="475.1" x2="614.6" y2="473.6" stroke="#f9a818" stroke-width="6.8" stroke-linecap="round"/>
<line x1="614.6" y1="473.6" x2="612.0" y2="472.0" stroke="#f9a518" stroke-width="6.8" stroke-linecap="round"/>
<line x1="612.0" y1="472.0" x2="612.6" y2="469.4" stroke="#f99f18" stroke-width="6.8" stroke-linecap="round"/>
<line x1="612.6" y1="469.4" x2="615.7" y2="468.6" stroke="#f99a18" stroke-width="6.8" stroke-linecap="round"/>
<line x1="615.7" y1="468.6" x2="618.8" y2="467.8" stroke="#f99818" stroke-width="6.8" stroke-linecap="round"/>
<line x1="618.8" y1="467.8" x2="621.9" y2="467.1" stroke="#f99518" stroke-width="6.8" stroke-linecap="round"/>
<line x1="621.9" y1="467.1" x2="625.1" y2="466.3" stroke="#f99318" stroke-width="6.8" stroke-linecap="round"/>
<line x1="625.1" y1="466.3" x2="628.2" y2="465.5" stroke="#f99118" stroke-width="6.8" stroke-linecap="round"/>
<line x1="628.2" y1="465.5" x2="631.3" y2="464.7" stroke="#f98f18" stroke-width="6.8" stroke-linecap="round"/>
<line x1="631.3" y1="464.7" x2="634.4" y2="464.0" stroke="#f98d18" stroke-width="6.8" stroke-linecap="round"/>
<line x1="634.4" y1="464.0" x2="637.5" y2="463.2" stroke="#f98b18" stroke-width="6.8" stroke-linecap="round"/>
<line x1="637.5" y1="463.2" x2="640.6" y2="462.4" stroke="#f98918" stroke-width="6.8" stroke-linecap="round"/>
<line x1="640.6" y1="462.4" x2="643.8" y2="461.6" stroke="#f98718" stroke-width="6.8" stroke-linecap="round"/>
<line x1="643.8" y1="461.6" x2="646.9" y2="460.9" stroke="#f98518" stroke-width="6.8" stroke-linecap="round"/>
<line x1="646.9" y1="460.9" x2="650.0" y2="460.1" stroke="#f98318" stroke-width="6.8" stroke-linecap="round"/>
<line x1="650.0" y1="460.1" x2="653.1" y2="459.3" stroke="#f98118" stroke-width="6.8" stroke-linecap="round"/>
<line x1="653.1" y1="459.3" x2="656.1" y2="460.0" stroke="#f97e18" stroke-width="6.8" stroke-linecap="round"/>
<line x1="656.1" y1="460.0" x2="659.1" y2="460.7" stroke="#f97b18" stroke-width="6.8" stroke-linecap="round"/>
<line x1="659.1" y1="460.7" x2="662.1" y2="461.4" stroke="#f97718" stroke-width="6.8" stroke-linecap="round"/>
<line x1="662.1" y1="461.4" x2="665.0" y2="462.1" stroke="#f97418" stroke-width="6.8" stroke-linecap="round"/>
<line x1="665.0" y1="462.1" x2="668.0" y2="462.7" stroke="#f97118" stroke-width="6.8" stroke-linecap="round"/>
<line x1="668.0" y1="462.7" x2="671.0" y2="463.4" stroke="#f96d18" stroke-width="6.8" stroke-linecap="round"/>
<line x1="671.0" y1="463.4" x2="674.0" y2="464.1" stroke="#f96a18" stroke-width="6.8" stroke-linecap="round"/>
<line x1="674.0" y1="464.1" x2="677.0" y2="464.8" stroke="#f96618" stroke-width="6.8" stroke-linecap="round"/>
<circle cx="705.65" cy="438.45" r="33.28" fill="none" stroke="#000" stroke-width="2.6"/>
<circle cx="705.65" cy="438.45" r="16.64" fill="none" stroke="#555" stroke-width="2"/>
<circle cx="705.65" cy="438.45" r="5.4" fill="#000"/>
<rect x="605.8" y="338.0" width="199.7" height="200.9" fill="none" stroke="#262626" stroke-width="1.4"/>
<line x1="639.08" y1="338.0" x2="639.08" y2="341.0" stroke="#262626" stroke-width="1.2"/>
<line x1="639.08" y1="538.9" x2="639.08" y2="535.9" stroke="#262626" stroke-width="1.2"/>
<line x1="605.8" y1="505.42" x2="608.8" y2="505.42" stroke="#262626" stroke-width="1.2"/>
<line x1="805.5" y1="505.42" x2="802.5" y2="505.42" stroke="#262626" stroke-width="1.2"/>
<line x1="672.37" y1="338.0" x2="672.37" y2="341.0" stroke="#262626" stroke-width="1.2"/>
<line x1="672.37" y1="538.9" x2="672.37" y2="535.9" stroke="#262626" stroke-width="1.2"/>
<line x1="605.8" y1="471.93" x2="608.8" y2="471.93" stroke="#262626" stroke-width="1.2"/>
<line x1="805.5" y1="471.93" x2="802.5" y2="471.93" stroke="#262626" stroke-width="1.2"/>
<line x1="705.65" y1="338.0" x2="705.65" y2="341.0" stroke="#262626" stroke-width="1.2"/>
<line x1="705.65" y1="538.9" x2="705.65" y2="535.9" stroke="#262626" stroke-width="1.2"/>
<line x1="605.8" y1="438.45" x2="608.8" y2="438.45" stroke="#262626" stroke-width="1.2"/>
<line x1="805.5" y1="438.45" x2="802.5" y2="438.45" stroke="#262626" stroke-width="1.2"/>
<line x1="738.93" y1="338.0" x2="738.93" y2="341.0" stroke="#262626" stroke-width="1.2"/>
<line x1="738.93" y1="538.9" x2="738.93" y2="535.9" stroke="#262626" stroke-width="1.2"/>
<line x1="605.8" y1="404.97" x2="608.8" y2="404.97" stroke="#262626" stroke-width="1.2"/>
<line x1="805.5" y1="404.97" x2="802.5" y2="404.97" stroke="#262626" stroke-width="1.2"/>
<line x1="772.22" y1="338.0" x2="772.22" y2="341.0" stroke="#262626" stroke-width="1.2"/>
<line x1="772.22" y1="538.9" x2="772.22" y2="535.9" stroke="#262626" stroke-width="1.2"/>
<line x1="605.8" y1="371.48" x2="608.8" y2="371.48" stroke="#262626" stroke-width="1.2"/>
<line x1="805.5" y1="371.48" x2="802.5" y2="371.48" stroke="#262626" stroke-width="1.2"/>
<text x="597.8" y="544.5" font-family='"Liberation Sans", sans-serif' font-size="15.5" text-anchor="end" >-6</text>
<text x="605.8" y="561.4" font-family='"Liberation Sans", sans-serif' font-size="15.5" text-anchor="middle" >-6</text>
<text x="597.8" y="511.0" font-family='"Liberation Sans", sans-serif' font-size="15.5" text-anchor="end" >-4</text>
<text x="639.1" y="561.4" font-family='"Liberation Sans", sans-serif' font-size="15.5" text-anchor="middle" >-4</text>
<text x="597.8" y="477.5" font-family='"Liberation Sans", sans-serif' font-size="15.5" text-anchor="end" >-2</text>
<text x="672.4" y="561.4" font-family='"Liberation Sans", sans-serif' font-size="15.5" text-anchor="middle" >-2</text>
<text x="597.8" y="444.1" font-family='"Liberation Sans", sans-serif' font-size="15.5" text-anchor="end" >0</text>
<text x="705.6" y="561.4" font-family='"Liberation Sans", sans-serif' font-size="15.5" text-anchor="middle" >0</text>
<text x="597.8" y="410.6" font-family='"Liberation Sans", sans-serif' font-size="15.5" text-anchor="end" >2</text>
<text x="738.9" y="561.4" font-family='"Liberation Sans", sans-serif' font-size="15.5" text-anchor="middle" >2</text>
<text x="597.8" y="377.1" font-family='"Liberation Sans", sans-serif' font-size="15.5" text-anchor="end" >4</text>
<text x="772.2" y="561.4" font-family='"Liberation Sans", sans-serif' font-size="15.5" text-anchor="middle" >4</text>
<text x="597.8" y="343.6" font-family='"Liberation Sans", sans-serif' font-size="15.5" text-anchor="end" >6</text>
<text x="805.5" y="561.4" font-family='"Liberation Sans", sans-serif' font-size="15.5" text-anchor="middle" >6</text>
<text x="622.8" y="359.5" font-family='"Liberation Serif", serif' font-size="19" text-anchor="start" >g)</text>
<text transform="translate(573.5,439.8) rotate(-90)" font-family='"Liberation Serif", serif' text-anchor="middle"><tspan font-style="italic" font-size="19">h</tspan><tspan font-size="18" dy="5.8">LT</tspan></text>
<text x="705.6" y="582" font-family='"Liberation Serif", serif' text-anchor="middle"><tspan font-style="italic" font-size="19">m</tspan><tspan font-size="18" dy="5.8">LT</tspan></text>
<line x1="906.48" y1="338.0" x2="906.48" y2="538.9" stroke="#e6e6e6" stroke-width="1.2"/>
<line x1="873.2" y1="505.42" x2="1072.9" y2="505.42" stroke="#e6e6e6" stroke-width="1.2"/>
<line x1="939.77" y1="338.0" x2="939.77" y2="538.9" stroke="#e6e6e6" stroke-width="1.2"/>
<line x1="873.2" y1="471.93" x2="1072.9" y2="471.93" stroke="#e6e6e6" stroke-width="1.2"/>
<line x1="973.05" y1="338.0" x2="973.05" y2="538.9" stroke="#e6e6e6" stroke-width="1.2"/>
<line x1="873.2" y1="438.45" x2="1072.9" y2="438.45" stroke="#e6e6e6" stroke-width="1.2"/>
<line x1="1006.33" y1="338.0" x2="1006.33" y2="538.9" stroke="#e6e6e6" stroke-width="1.2"/>
<line x1="873.2" y1="404.97" x2="1072.9" y2="404.97" stroke="#e6e6e6" stroke-width="1.2"/>
<line x1="1039.62" y1="338.0" x2="1039.62" y2="538.9" stroke="#e6e6e6" stroke-width="1.2"/>
<line x1="873.2" y1="371.48" x2="1072.9" y2="371.48" stroke="#e6e6e6" stroke-width="1.2"/>
<polygon points="966.9,433.6 975.3,430.3 982.1,426.9 986.3,424.4 989.7,428.6 990.5,438.7 994.7,440.4 996.4,445.5 993.0,448.0 988.8,446.3 983.8,445.5 977.0,450.5 972.0,456.4 968.6,452.2 965.2,447.1 966.0,440.4" fill="#18def9" stroke="#18def9" stroke-width="1.2" stroke-linejoin="round"/>
<line x1="992.0" y1="430.0" x2="992.0" y2="433.3" stroke="#18e4f9" stroke-width="7" stroke-linecap="round"/>
<line x1="992.0" y1="433.3" x2="992.0" y2="436.7" stroke="#18e7f9" stroke-width="7" stroke-linecap="round"/>
<line x1="992.0" y1="436.7" x2="992.0" y2="440.0" stroke="#18eaf9" stroke-width="7" stroke-linecap="round"/>
<line x1="992.0" y1="440.0" x2="991.8" y2="443.0" stroke="#18eef9" stroke-width="7" stroke-linecap="round"/>
<line x1="991.8" y1="443.0" x2="991.7" y2="446.0" stroke="#18f2f9" stroke-width="7" stroke-linecap="round"/>
<line x1="991.7" y1="446.0" x2="991.5" y2="449.0" stroke="#18f7f9" stroke-width="7" stroke-linecap="round"/>
<line x1="991.5" y1="449.0" x2="991.3" y2="452.0" stroke="#1bf9f7" stroke-width="7" stroke-linecap="round"/>
<line x1="991.3" y1="452.0" x2="991.2" y2="455.0" stroke="#1ff9f2" stroke-width="7" stroke-linecap="round"/>
<line x1="991.2" y1="455.0" x2="991.0" y2="458.0" stroke="#24f9ee" stroke-width="7" stroke-linecap="round"/>
<line x1="991.0" y1="458.0" x2="991.5" y2="461.0" stroke="#2af9e8" stroke-width="7" stroke-linecap="round"/>
<line x1="991.5" y1="461.0" x2="992.0" y2="464.0" stroke="#31f9e0" stroke-width="7" stroke-linecap="round"/>
<line x1="992.0" y1="464.0" x2="992.5" y2="467.0" stroke="#39f9d9" stroke-width="7" stroke-linecap="round"/>
<line x1="992.5" y1="467.0" x2="993.0" y2="470.0" stroke="#40f9d1" stroke-width="7" stroke-linecap="round"/>
<line x1="993.0" y1="470.0" x2="993.5" y2="473.0" stroke="#48f9ca" stroke-width="7" stroke-linecap="round"/>
<line x1="993.5" y1="473.0" x2="994.0" y2="476.0" stroke="#4ff9c2" stroke-width="7" stroke-linecap="round"/>
<line x1="994.0" y1="476.0" x2="994.8" y2="479.3" stroke="#58f9b9" stroke-width="7" stroke-linecap="round"/>
<line x1="994.8" y1="479.3" x2="995.7" y2="482.6" stroke="#62f9af" stroke-width="7" stroke-linecap="round"/>
<line x1="995.7" y1="482.6" x2="996.5" y2="485.9" stroke="#6cf9a5" stroke-width="7" stroke-linecap="round"/>
<line x1="996.5" y1="485.9" x2="997.3" y2="489.1" stroke="#77f99b" stroke-width="7" stroke-linecap="round"/>
<line x1="997.3" y1="489.1" x2="998.1" y2="492.4" stroke="#81f990" stroke-width="7" stroke-linecap="round"/>
<line x1="998.1" y1="492.4" x2="999.0" y2="495.7" stroke="#8bf986" stroke-width="7" stroke-linecap="round"/>
<line x1="999.0" y1="495.7" x2="999.8" y2="499.0" stroke="#96f97c" stroke-width="7" stroke-linecap="round"/>
<line x1="995.6" y1="478.7" x2="998.5" y2="480.5" stroke="#baf957" stroke-width="6.5" stroke-linecap="round"/>
<line x1="998.5" y1="480.5" x2="1001.5" y2="482.3" stroke="#c3f94e" stroke-width="6.5" stroke-linecap="round"/>
<line x1="1001.5" y1="482.3" x2="1003.9" y2="480.0" stroke="#cbf946" stroke-width="6.5" stroke-linecap="round"/>
<line x1="1003.9" y1="480.0" x2="1006.2" y2="477.7" stroke="#d3f93e" stroke-width="6.5" stroke-linecap="round"/>
<line x1="1006.2" y1="477.7" x2="1008.6" y2="475.4" stroke="#dbf937" stroke-width="6.5" stroke-linecap="round"/>
<line x1="1008.6" y1="475.4" x2="1011.0" y2="473.2" stroke="#e2f92f" stroke-width="6.5" stroke-linecap="round"/>
<line x1="1011.0" y1="473.2" x2="1013.4" y2="470.9" stroke="#eaf927" stroke-width="6.5" stroke-linecap="round"/>
<line x1="1013.4" y1="470.9" x2="1015.7" y2="468.6" stroke="#f2f920" stroke-width="6.5" stroke-linecap="round"/>
<line x1="1015.7" y1="468.6" x2="1018.1" y2="466.3" stroke="#f9f818" stroke-width="6.5" stroke-linecap="round"/>
<line x1="1018.1" y1="466.3" x2="1022.2" y2="465.5" stroke="#f9af18" stroke-width="6.5" stroke-linecap="round"/>
<line x1="1022.2" y1="465.5" x2="1026.4" y2="464.6" stroke="#f9a118" stroke-width="6.5" stroke-linecap="round"/>
<line x1="1026.4" y1="464.6" x2="1026.5" y2="461.5" stroke="#f99818" stroke-width="6.5" stroke-linecap="round"/>
<line x1="1026.5" y1="461.5" x2="1026.6" y2="458.4" stroke="#f99318" stroke-width="6.5" stroke-linecap="round"/>
<line x1="1026.6" y1="458.4" x2="1026.8" y2="455.4" stroke="#f98d18" stroke-width="6.5" stroke-linecap="round"/>
<line x1="1026.8" y1="455.4" x2="1026.9" y2="452.3" stroke="#f98818" stroke-width="6.5" stroke-linecap="round"/>
<line x1="1026.9" y1="452.3" x2="1027.0" y2="449.2" stroke="#f98218" stroke-width="6.5" stroke-linecap="round"/>
<line x1="1027.0" y1="449.2" x2="1024.0" y2="446.2" stroke="#f97718" stroke-width="6.5" stroke-linecap="round"/>
<line x1="1024.0" y1="446.2" x2="1020.5" y2="445.4" stroke="#f96918" stroke-width="6.5" stroke-linecap="round"/>
<line x1="1020.5" y1="445.4" x2="1016.9" y2="444.7" stroke="#f96018" stroke-width="6.5" stroke-linecap="round"/>
<line x1="1016.9" y1="444.7" x2="1013.4" y2="443.9" stroke="#f95718" stroke-width="6.5" stroke-linecap="round"/>
<circle cx="973.05" cy="438.45" r="33.28" fill="none" stroke="#000" stroke-width="2.6"/>
<circle cx="973.05" cy="438.45" r="16.64" fill="none" stroke="#555" stroke-width="2"/>
<circle cx="973.05" cy="438.45" r="5.4" fill="#000"/>
<rect x="873.2" y="338.0" width="199.7" height="200.9" fill="none" stroke="#262626" stroke-width="1.4"/>
<line x1="906.48" y1="338.0" x2="906.48" y2="341.0" stroke="#262626" stroke-width="1.2"/>
<line x1="906.48" y1="538.9" x2="906.48" y2="535.9" stroke="#262626" stroke-width="1.2"/>
<line x1="873.2" y1="505.42" x2="876.2" y2="505.42" stroke="#262626" stroke-width="1.2"/>
<line x1="1072.9" y1="505.42" x2="1069.9" y2="505.42" stroke="#262626" stroke-width="1.2"/>
<line x1="939.77" y1="338.0" x2="939.77" y2="341.0" stroke="#262626" stroke-width="1.2"/>
<line x1="939.77" y1="538.9" x2="939.77" y2="535.9" stroke="#262626" stroke-width="1.2"/>
<line x1="873.2" y1="471.93" x2="876.2" y2="471.93" stroke="#262626" stroke-width="1.2"/>
<line x1="1072.9" y1="471.93" x2="1069.9" y2="471.93" stroke="#262626" stroke-width="1.2"/>
<line x1="973.05" y1="338.0" x2="973.05" y2="341.0" stroke="#262626" stroke-width="1.2"/>
<line x1="973.05" y1="538.9" x2="973.05" y2="535.9" stroke="#262626" stroke-width="1.2"/>
<line x1="873.2" y1="438.45" x2="876.2" y2="438.45" stroke="#262626" stroke-width="1.2"/>
<line x1="1072.9" y1="438.45" x2="1069.9" y2="438.45" stroke="#262626" stroke-width="1.2"/>
<line x1="1006.33" y1="338.0" x2="1006.33" y2="341.0" stroke="#262626" stroke-width="1.2"/>
<line x1="1006.33" y1="538.9" x2="1006.33" y2="535.9" stroke="#262626" stroke-width="1.2"/>
<line x1="873.2" y1="404.97" x2="876.2" y2="404.97" stroke="#262626" stroke-width="1.2"/>
<line x1="1072.9" y1="404.97" x2="1069.9" y2="404.97" stroke="#262626" stroke-width="1.2"/>
<line x1="1039.62" y1="338.0" x2="1039.62" y2="341.0" stroke="#262626" stroke-width="1.2"/>
<line x1="1039.62" y1="538.9" x2="1039.62" y2="535.9" stroke="#262626" stroke-width="1.2"/>
<line x1="873.2" y1="371.48" x2="876.2" y2="371.48" stroke="#262626" stroke-width="1.2"/>
<line x1="1072.9" y1="371.48" x2="1069.9" y2="371.48" stroke="#262626" stroke-width="1.2"/>
<text x="865.2" y="544.5" font-family='"Liberation Sans", sans-serif' font-size="15.5" text-anchor="end" >-6</text>
<text x="873.2" y="561.4" font-family='"Liberation Sans", sans-serif' font-size="15.5" text-anchor="middle" >-6</text>
<text x="865.2" y="511.0" font-family='"Liberation Sans", sans-serif' font-size="15.5" text-anchor="end" >-4</text>
<text x="906.5" y="561.4" font-family='"Liberation Sans", sans-serif' font-size="15.5" text-anchor="middle" >-4</text>
<text x="865.2" y="477.5" font-family='"Liberation Sans", sans-serif' font-size="15.5" text-anchor="end" >-2</text>
<text x="939.8" y="561.4" font-family='"Liberation Sans", sans-serif' font-size="15.5" text-anchor="middle" >-2</text>
<text x="865.2" y="444.1" font-family='"Liberation Sans", sans-serif' font-size="15.5" text-anchor="end" >0</text>
<text x="973.1" y="561.4" font-family='"Liberation Sans", sans-serif' font-size="15.5" text-anchor="middle" >0</text>
<text x="865.2" y="410.6" font-family='"Liberation Sans", sans-serif' font-size="15.5" text-anchor="end" >2</text>
<text x="1006.3" y="561.4" font-family='"Liberation Sans", sans-serif' font-size="15.5" text-anchor="middle" >2</text>
<text x="865.2" y="377.1" font-family='"Liberation Sans", sans-serif' font-size="15.5" text-anchor="end" >4</text>
<text x="1039.6" y="561.4" font-family='"Liberation Sans", sans-serif' font-size="15.5" text-anchor="middle" >4</text>
<text x="865.2" y="343.6" font-family='"Liberation Sans", sans-serif' font-size="15.5" text-anchor="end" >6</text>
<text x="1072.9" y="561.4" font-family='"Liberation Sans", sans-serif' font-size="15.5" text-anchor="middle" >6</text>
<text x="890.2" y="359.5" font-family='"Liberation Serif", serif' font-size="19" text-anchor="start" >h)</text>
<text transform="translate(840.9,439.8) rotate(-90)" font-family='"Liberation Serif", serif' text-anchor="middle"><tspan font-style="italic" font-size="19">R</tspan><tspan font-size="18" dy="5.8">LT</tspan></text>
<text x="973.1" y="582" font-family='"Liberation Serif", serif' text-anchor="middle"><tspan font-style="italic" font-size="19">&#963;</tspan><tspan font-size="18" dy="5.8">LT</tspan></text>
</svg>
</body></html>
